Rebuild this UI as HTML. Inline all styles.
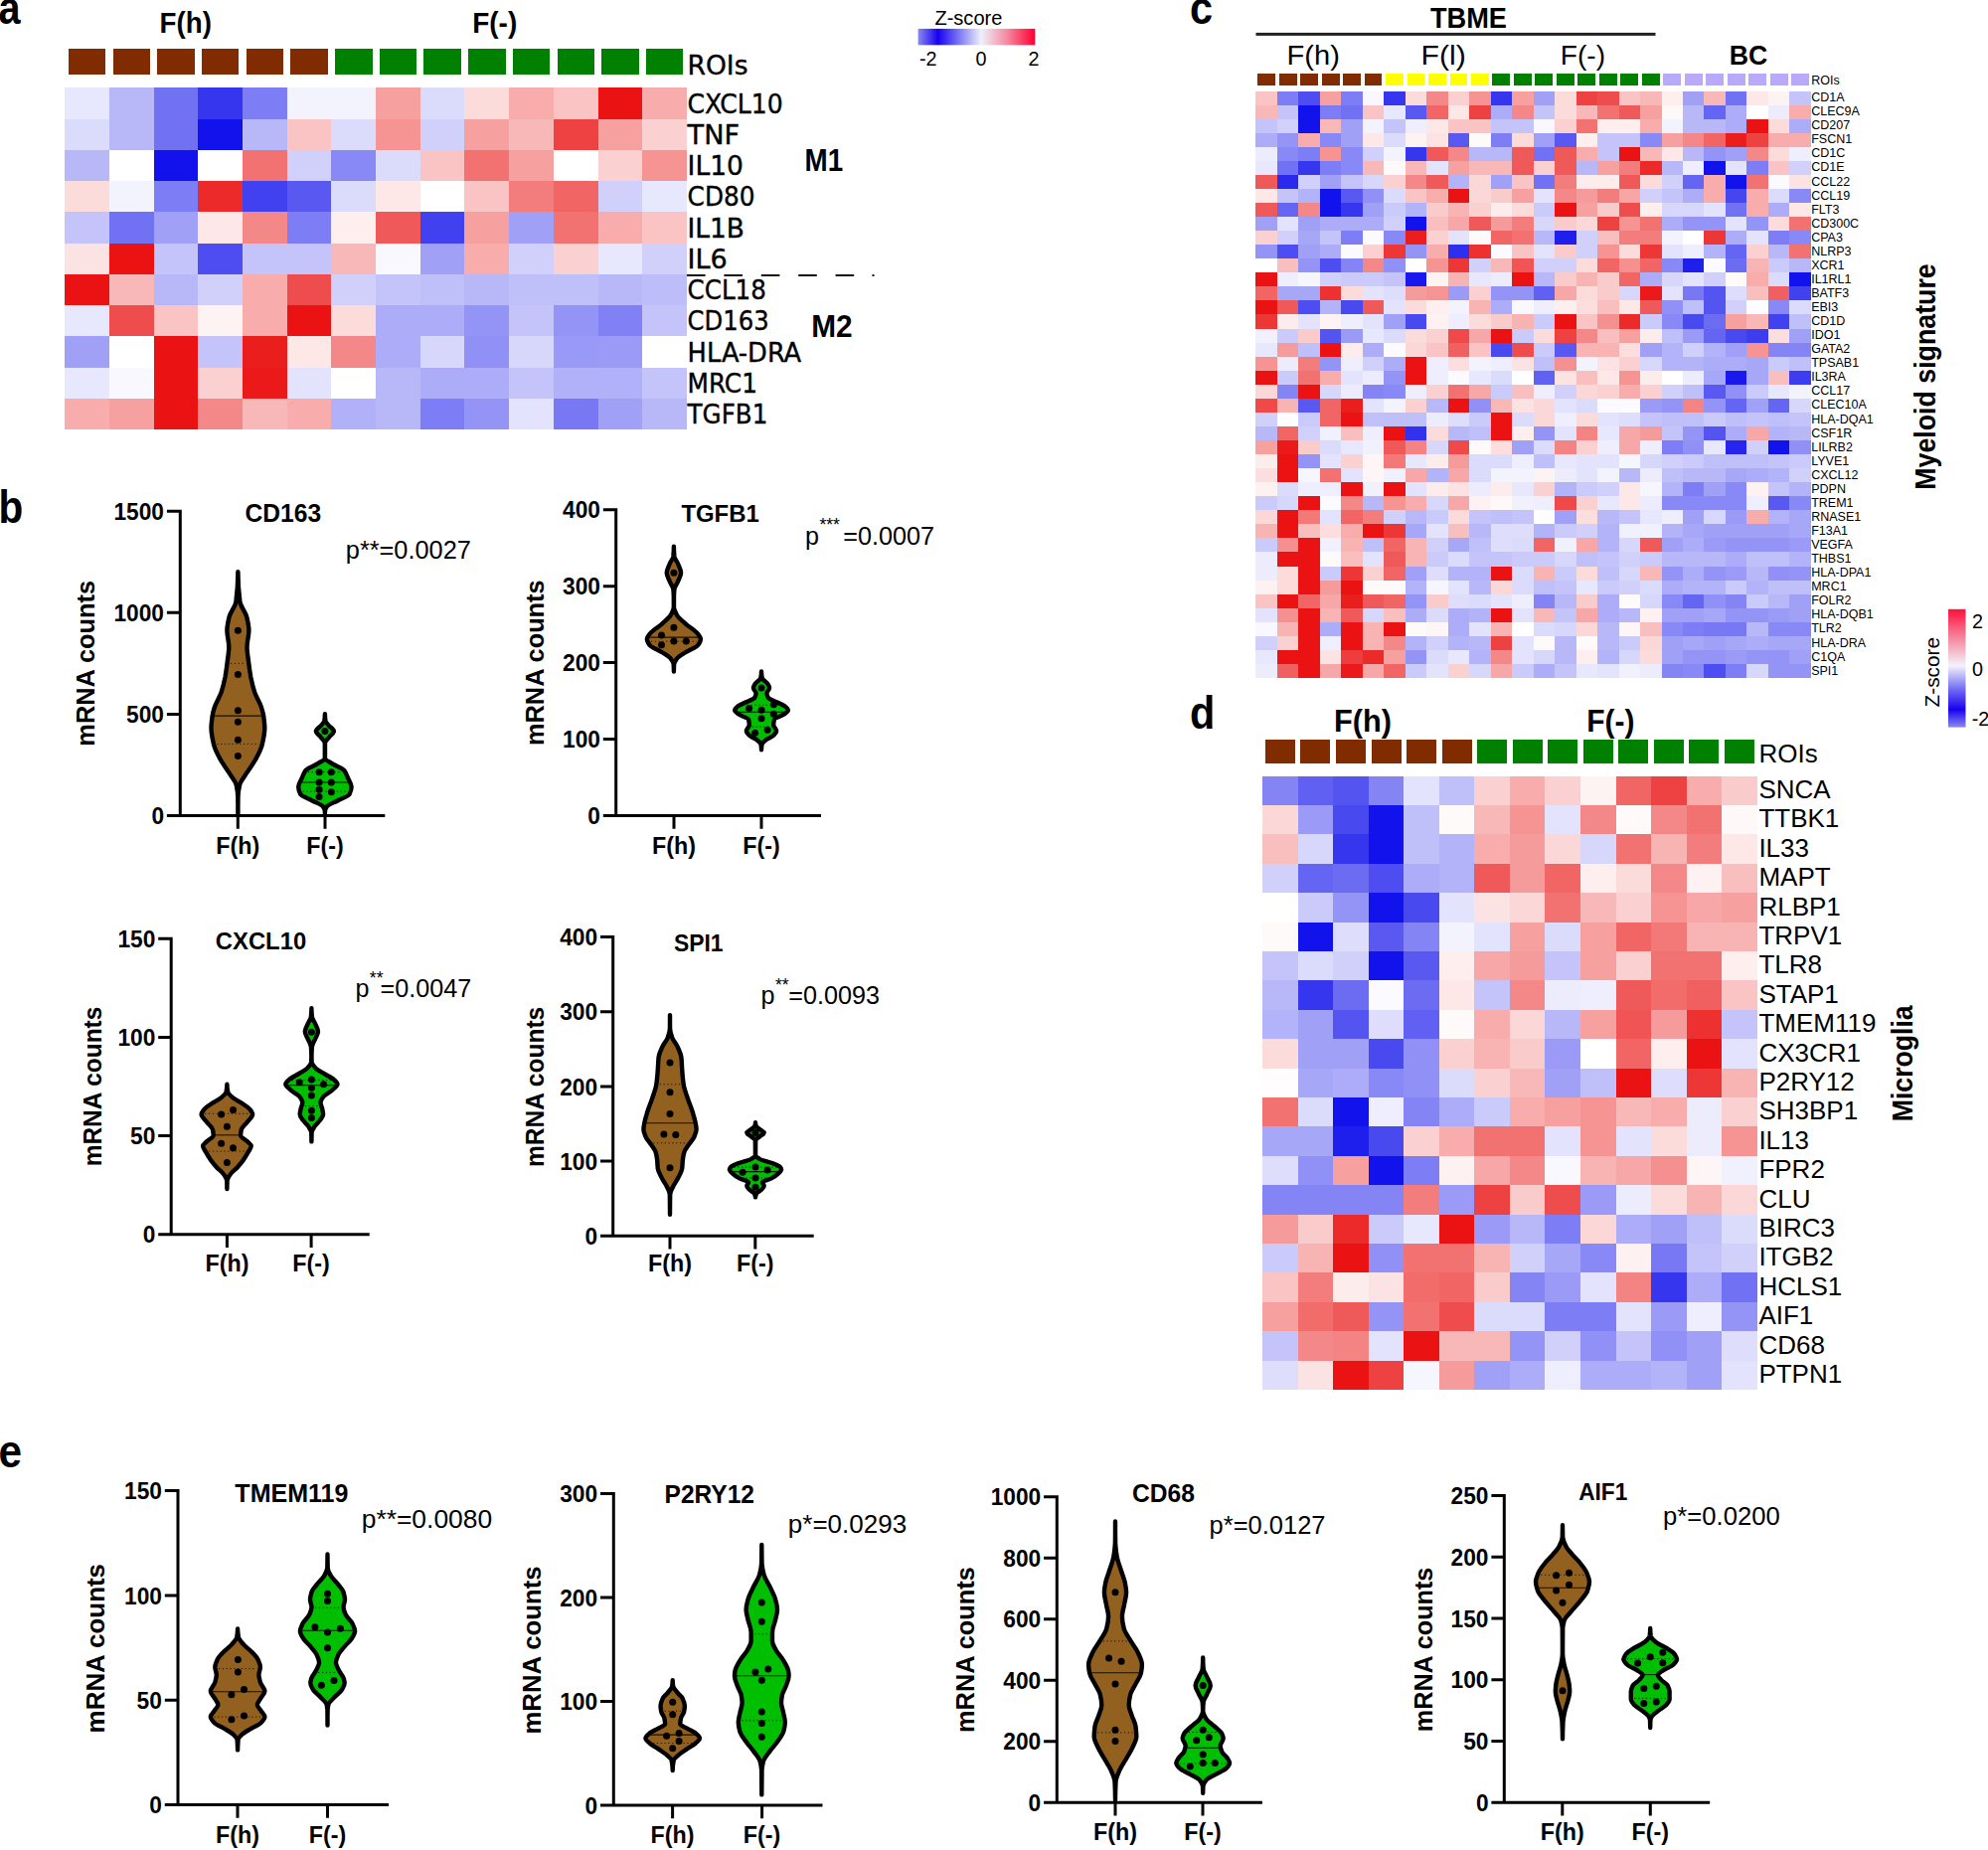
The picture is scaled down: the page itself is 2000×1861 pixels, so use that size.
<!DOCTYPE html>
<html lang="en"><head><meta charset="utf-8"><title>Figure</title>
<style>
html,body{margin:0;padding:0;background:#fff}
body{width:2000px;height:1861px;overflow:hidden}
svg{display:block;font-family:"Liberation Sans",Arial,sans-serif;fill:#000}
</style></head><body>
<svg width="2000" height="1861" viewBox="0 0 2000 1861">
<rect width="2000" height="1861" fill="#fff"/>
<defs><linearGradient id="gh" x1="0" y1="0" x2="1" y2="0"><stop offset="0" stop-color="#8a8af0"/><stop offset="0.17" stop-color="#1800f0"/><stop offset="0.35" stop-color="#7c78f4"/><stop offset="0.54" stop-color="#eef0fb"/><stop offset="0.76" stop-color="#f58aa0"/><stop offset="1" stop-color="#ff0030"/></linearGradient><linearGradient id="gv" x1="0" y1="0" x2="0" y2="1"><stop offset="0" stop-color="#ff1038"/><stop offset="0.25" stop-color="#f48aa0"/><stop offset="0.48" stop-color="#f4f2fb"/><stop offset="0.66" stop-color="#7c78f4"/><stop offset="0.85" stop-color="#1800f0"/><stop offset="1" stop-color="#8a8af0"/></linearGradient></defs>
<g id="pa">
<text x="-1.5" y="24" font-size="46" font-weight="bold" transform="translate(-1.5 0) scale(0.86 1) translate(1.5 0)">a</text>
<text x="160.6" y="33.2" font-size="30" font-weight="bold" textLength="52.3" lengthAdjust="spacingAndGlyphs">F(h)</text>
<text x="475.2" y="33.2" font-size="30" font-weight="bold" textLength="45" lengthAdjust="spacingAndGlyphs">F(-)</text>
<g shape-rendering="crispEdges"><rect x="68.8" y="49" width="37.5" height="26" fill="#802b00"/><rect x="113.5" y="49" width="37.5" height="26" fill="#802b00"/><rect x="158.2" y="49" width="37.5" height="26" fill="#802b00"/><rect x="202.9" y="49" width="37.5" height="26" fill="#802b00"/><rect x="247.6" y="49" width="37.5" height="26" fill="#802b00"/><rect x="292.3" y="49" width="37.5" height="26" fill="#802b00"/><rect x="337" y="49" width="37.5" height="26" fill="#008000"/><rect x="381.7" y="49" width="37.5" height="26" fill="#008000"/><rect x="426.4" y="49" width="37.5" height="26" fill="#008000"/><rect x="471.1" y="49" width="37.5" height="26" fill="#008000"/><rect x="515.8" y="49" width="37.5" height="26" fill="#008000"/><rect x="560.5" y="49" width="37.5" height="26" fill="#008000"/><rect x="605.2" y="49" width="37.5" height="26" fill="#008000"/><rect x="649.9" y="49" width="37.5" height="26" fill="#008000"/></g>
<g shape-rendering="crispEdges"><rect x="65" y="88" width="45" height="32" fill="#e7e7fd"/><rect x="110" y="88" width="45" height="32" fill="#b8b8f9"/><rect x="155" y="88" width="44" height="32" fill="#7171f4"/><rect x="199" y="88" width="45" height="32" fill="#3636ef"/><rect x="244" y="88" width="45" height="32" fill="#7d7df5"/><rect x="289" y="88" width="44" height="32" fill="#f3f3fe"/><rect x="333" y="88" width="45" height="32" fill="#f3f3fe"/><rect x="378" y="88" width="45" height="32" fill="#f7a0a0"/><rect x="423" y="88" width="44" height="32" fill="#dbdbfc"/><rect x="467" y="88" width="45" height="32" fill="#fcdbdb"/><rect x="512" y="88" width="45" height="32" fill="#f8acac"/><rect x="557" y="88" width="45" height="32" fill="#fac4c4"/><rect x="602" y="88" width="44" height="32" fill="#ea1212"/><rect x="646" y="88" width="45" height="32" fill="#f8acac"/><rect x="65" y="120" width="45" height="31" fill="#dbdbfc"/><rect x="110" y="120" width="45" height="31" fill="#b8b8f9"/><rect x="155" y="120" width="44" height="31" fill="#7171f4"/><rect x="199" y="120" width="45" height="31" fill="#1212ec"/><rect x="244" y="120" width="45" height="31" fill="#b8b8f9"/><rect x="289" y="120" width="44" height="31" fill="#fac4c4"/><rect x="333" y="120" width="45" height="31" fill="#dbdbfc"/><rect x="378" y="120" width="45" height="31" fill="#f69494"/><rect x="423" y="120" width="44" height="31" fill="#d0d0fb"/><rect x="467" y="120" width="45" height="31" fill="#f7a0a0"/><rect x="512" y="120" width="45" height="31" fill="#f9b8b8"/><rect x="557" y="120" width="45" height="31" fill="#ee4141"/><rect x="602" y="120" width="44" height="31" fill="#f7a0a0"/><rect x="646" y="120" width="45" height="31" fill="#fbd0d0"/><rect x="65" y="151" width="45" height="31" fill="#b8b8f9"/><rect x="110" y="151" width="45" height="31" fill="#ffffff"/><rect x="155" y="151" width="44" height="31" fill="#1212ec"/><rect x="199" y="151" width="45" height="31" fill="#ffffff"/><rect x="244" y="151" width="45" height="31" fill="#f27171"/><rect x="289" y="151" width="44" height="31" fill="#d0d0fb"/><rect x="333" y="151" width="45" height="31" fill="#8888f6"/><rect x="378" y="151" width="45" height="31" fill="#dbdbfc"/><rect x="423" y="151" width="44" height="31" fill="#fac4c4"/><rect x="467" y="151" width="45" height="31" fill="#f27171"/><rect x="512" y="151" width="45" height="31" fill="#f7a0a0"/><rect x="557" y="151" width="45" height="31" fill="#ffffff"/><rect x="602" y="151" width="44" height="31" fill="#fbd0d0"/><rect x="646" y="151" width="45" height="31" fill="#f69494"/><rect x="65" y="182" width="45" height="31" fill="#fcdbdb"/><rect x="110" y="182" width="45" height="31" fill="#f3f3fe"/><rect x="155" y="182" width="44" height="31" fill="#7d7df5"/><rect x="199" y="182" width="45" height="31" fill="#ec2a2a"/><rect x="244" y="182" width="45" height="31" fill="#4141f0"/><rect x="289" y="182" width="44" height="31" fill="#5959f2"/><rect x="333" y="182" width="45" height="31" fill="#dbdbfc"/><rect x="378" y="182" width="45" height="31" fill="#fde7e7"/><rect x="423" y="182" width="44" height="31" fill="#ffffff"/><rect x="467" y="182" width="45" height="31" fill="#fac4c4"/><rect x="512" y="182" width="45" height="31" fill="#f37d7d"/><rect x="557" y="182" width="45" height="31" fill="#f16565"/><rect x="602" y="182" width="44" height="31" fill="#d0d0fb"/><rect x="646" y="182" width="45" height="31" fill="#e7e7fd"/><rect x="65" y="213" width="45" height="32" fill="#c4c4fa"/><rect x="110" y="213" width="45" height="32" fill="#7171f4"/><rect x="155" y="213" width="44" height="32" fill="#a0a0f7"/><rect x="199" y="213" width="45" height="32" fill="#fde7e7"/><rect x="244" y="213" width="45" height="32" fill="#f48888"/><rect x="289" y="213" width="44" height="32" fill="#7d7df5"/><rect x="333" y="213" width="45" height="32" fill="#feeeee"/><rect x="378" y="213" width="45" height="32" fill="#f05959"/><rect x="423" y="213" width="44" height="32" fill="#4141f0"/><rect x="467" y="213" width="45" height="32" fill="#f7a0a0"/><rect x="512" y="213" width="45" height="32" fill="#a0a0f7"/><rect x="557" y="213" width="45" height="32" fill="#f27171"/><rect x="602" y="213" width="44" height="32" fill="#f8acac"/><rect x="646" y="213" width="45" height="32" fill="#fac4c4"/><rect x="65" y="245" width="45" height="31" fill="#fce3e3"/><rect x="110" y="245" width="45" height="31" fill="#ea1212"/><rect x="155" y="245" width="44" height="31" fill="#c4c4fa"/><rect x="199" y="245" width="45" height="31" fill="#4d4df1"/><rect x="244" y="245" width="45" height="31" fill="#c4c4fa"/><rect x="289" y="245" width="44" height="31" fill="#c4c4fa"/><rect x="333" y="245" width="45" height="31" fill="#f9b8b8"/><rect x="378" y="245" width="45" height="31" fill="#f8f8fe"/><rect x="423" y="245" width="44" height="31" fill="#a0a0f7"/><rect x="467" y="245" width="45" height="31" fill="#f8acac"/><rect x="512" y="245" width="45" height="31" fill="#d0d0fb"/><rect x="557" y="245" width="45" height="31" fill="#fbd0d0"/><rect x="602" y="245" width="44" height="31" fill="#e7e7fd"/><rect x="646" y="245" width="45" height="31" fill="#d0d0fb"/><rect x="65" y="276" width="45" height="31" fill="#ea1212"/><rect x="110" y="276" width="45" height="31" fill="#f9b8b8"/><rect x="155" y="276" width="44" height="31" fill="#b8b8f9"/><rect x="199" y="276" width="45" height="31" fill="#d0d0fb"/><rect x="244" y="276" width="45" height="31" fill="#f8acac"/><rect x="289" y="276" width="44" height="31" fill="#ef4d4d"/><rect x="333" y="276" width="45" height="31" fill="#d0d0fb"/><rect x="378" y="276" width="45" height="31" fill="#c4c4fa"/><rect x="423" y="276" width="44" height="31" fill="#bfbffa"/><rect x="467" y="276" width="45" height="31" fill="#b8b8f9"/><rect x="512" y="276" width="45" height="31" fill="#bfbffa"/><rect x="557" y="276" width="45" height="31" fill="#bfbffa"/><rect x="602" y="276" width="44" height="31" fill="#b8b8f9"/><rect x="646" y="276" width="45" height="31" fill="#bdbdfa"/><rect x="65" y="307" width="45" height="31" fill="#e7e7fd"/><rect x="110" y="307" width="45" height="31" fill="#ef4d4d"/><rect x="155" y="307" width="44" height="31" fill="#fac4c4"/><rect x="199" y="307" width="45" height="31" fill="#fef3f3"/><rect x="244" y="307" width="45" height="31" fill="#f8acac"/><rect x="289" y="307" width="44" height="31" fill="#ea1212"/><rect x="333" y="307" width="45" height="31" fill="#fcdbdb"/><rect x="378" y="307" width="45" height="31" fill="#acacf8"/><rect x="423" y="307" width="44" height="31" fill="#acacf8"/><rect x="467" y="307" width="45" height="31" fill="#9494f6"/><rect x="512" y="307" width="45" height="31" fill="#c4c4fa"/><rect x="557" y="307" width="45" height="31" fill="#9494f6"/><rect x="602" y="307" width="44" height="31" fill="#8181f5"/><rect x="646" y="307" width="45" height="31" fill="#c4c4fa"/><rect x="65" y="338" width="45" height="32" fill="#a0a0f7"/><rect x="110" y="338" width="45" height="32" fill="#ffffff"/><rect x="155" y="338" width="44" height="32" fill="#ea1212"/><rect x="199" y="338" width="45" height="32" fill="#c4c4fa"/><rect x="244" y="338" width="45" height="32" fill="#eb1e1e"/><rect x="289" y="338" width="44" height="32" fill="#fde7e7"/><rect x="333" y="338" width="45" height="32" fill="#f48888"/><rect x="378" y="338" width="45" height="32" fill="#acacf8"/><rect x="423" y="338" width="44" height="32" fill="#d7d7fc"/><rect x="467" y="338" width="45" height="32" fill="#9090f6"/><rect x="512" y="338" width="45" height="32" fill="#d7d7fc"/><rect x="557" y="338" width="45" height="32" fill="#9999f7"/><rect x="602" y="338" width="44" height="32" fill="#9b9bf7"/><rect x="646" y="338" width="45" height="32" fill="#ffffff"/><rect x="65" y="370" width="45" height="31" fill="#e7e7fd"/><rect x="110" y="370" width="45" height="31" fill="#f8f8fe"/><rect x="155" y="370" width="44" height="31" fill="#ea1212"/><rect x="199" y="370" width="45" height="31" fill="#fbd0d0"/><rect x="244" y="370" width="45" height="31" fill="#eb1919"/><rect x="289" y="370" width="44" height="31" fill="#e3e3fd"/><rect x="333" y="370" width="45" height="31" fill="#ffffff"/><rect x="378" y="370" width="45" height="31" fill="#b8b8f9"/><rect x="423" y="370" width="44" height="31" fill="#acacf8"/><rect x="467" y="370" width="45" height="31" fill="#acacf8"/><rect x="512" y="370" width="45" height="31" fill="#c4c4fa"/><rect x="557" y="370" width="45" height="31" fill="#b1b1f9"/><rect x="602" y="370" width="44" height="31" fill="#b1b1f9"/><rect x="646" y="370" width="45" height="31" fill="#c4c4fa"/><rect x="65" y="401" width="45" height="31" fill="#f8acac"/><rect x="110" y="401" width="45" height="31" fill="#f7a0a0"/><rect x="155" y="401" width="44" height="31" fill="#ea1212"/><rect x="199" y="401" width="45" height="31" fill="#f48888"/><rect x="244" y="401" width="45" height="31" fill="#f9b8b8"/><rect x="289" y="401" width="44" height="31" fill="#f8acac"/><rect x="333" y="401" width="45" height="31" fill="#b1b1f9"/><rect x="378" y="401" width="45" height="31" fill="#b8b8f9"/><rect x="423" y="401" width="44" height="31" fill="#7d7df5"/><rect x="467" y="401" width="45" height="31" fill="#9494f6"/><rect x="512" y="401" width="45" height="31" fill="#e3e3fd"/><rect x="557" y="401" width="45" height="31" fill="#7878f4"/><rect x="602" y="401" width="44" height="31" fill="#a0a0f7"/><rect x="646" y="401" width="45" height="31" fill="#b8b8f9"/></g>
<text x="691.5" y="75" font-size="27.3" textLength="61" lengthAdjust="spacingAndGlyphs" font-family="'DejaVu Sans Condensed','DejaVu Sans',sans-serif" stroke="#000" stroke-width="0.35">ROIs</text>
<text x="691.6" y="113.5" font-size="27.3" textLength="96.1" lengthAdjust="spacingAndGlyphs" font-family="'DejaVu Sans Condensed','DejaVu Sans',sans-serif" stroke="#000" stroke-width="0.35">CXCL10</text>
<text x="691.6" y="144.8" font-size="27.3" textLength="52.4" lengthAdjust="spacingAndGlyphs" font-family="'DejaVu Sans Condensed','DejaVu Sans',sans-serif" stroke="#000" stroke-width="0.35">TNF</text>
<text x="691.6" y="176" font-size="27.3" textLength="56.3" lengthAdjust="spacingAndGlyphs" font-family="'DejaVu Sans Condensed','DejaVu Sans',sans-serif" stroke="#000" stroke-width="0.35">IL10</text>
<text x="691.6" y="207.3" font-size="27.3" textLength="67.9" lengthAdjust="spacingAndGlyphs" font-family="'DejaVu Sans Condensed','DejaVu Sans',sans-serif" stroke="#000" stroke-width="0.35">CD80</text>
<text x="691.6" y="238.5" font-size="27.3" textLength="57.4" lengthAdjust="spacingAndGlyphs" font-family="'DejaVu Sans Condensed','DejaVu Sans',sans-serif" stroke="#000" stroke-width="0.35">IL1B</text>
<text x="691.6" y="269.8" font-size="27.3" textLength="40.2" lengthAdjust="spacingAndGlyphs" font-family="'DejaVu Sans Condensed','DejaVu Sans',sans-serif" stroke="#000" stroke-width="0.35">IL6</text>
<text x="691.6" y="301" font-size="27.3" textLength="79.3" lengthAdjust="spacingAndGlyphs" font-family="'DejaVu Sans Condensed','DejaVu Sans',sans-serif" stroke="#000" stroke-width="0.35">CCL18</text>
<text x="691.6" y="332.2" font-size="27.3" textLength="82" lengthAdjust="spacingAndGlyphs" font-family="'DejaVu Sans Condensed','DejaVu Sans',sans-serif" stroke="#000" stroke-width="0.35">CD163</text>
<text x="691.6" y="363.5" font-size="27.3" textLength="114.6" lengthAdjust="spacingAndGlyphs" font-family="'DejaVu Sans Condensed','DejaVu Sans',sans-serif" stroke="#000" stroke-width="0.35">HLA-DRA</text>
<text x="691.6" y="394.7" font-size="27.3" textLength="70.4" lengthAdjust="spacingAndGlyphs" font-family="'DejaVu Sans Condensed','DejaVu Sans',sans-serif" stroke="#000" stroke-width="0.35">MRC1</text>
<text x="691.6" y="426" font-size="27.3" textLength="80.8" lengthAdjust="spacingAndGlyphs" font-family="'DejaVu Sans Condensed','DejaVu Sans',sans-serif" stroke="#000" stroke-width="0.35">TGFB1</text>
<text x="809.5" y="171.9" font-size="31.6" font-weight="bold" textLength="38.6" lengthAdjust="spacingAndGlyphs">M1</text>
<text x="816.2" y="338.5" font-size="31.6" font-weight="bold" textLength="41.4" lengthAdjust="spacingAndGlyphs">M2</text>
<path d="M691 277H709.6M728.4 277H747M765.8 277H784.4M803.2 277H821.8M840.6 277H859.2M877.5 277H879.5" stroke="#111" stroke-width="2.2" fill="none"/>
<text x="974.4" y="25.4" font-size="19.6" text-anchor="middle" textLength="68" lengthAdjust="spacingAndGlyphs">Z-score</text>
<rect x="923.6" y="28.9" width="117.7" height="16.4" fill="url(#gh)"/>
<text x="925" y="65.5" font-size="19.8">-2</text>
<text x="987" y="65.5" font-size="19.8" text-anchor="middle">0</text>
<text x="1040" y="65.5" font-size="19.8" text-anchor="middle">2</text>
</g>
<g id="pc">
<text x="1197" y="23.7" font-size="46" font-weight="bold" transform="translate(1197 0) scale(0.9 1) translate(-1197 0)">c</text>
<text x="1439" y="27.9" font-size="29" font-weight="bold" textLength="77" lengthAdjust="spacingAndGlyphs">TBME</text>
<rect x="1263.5" y="32.9" width="402" height="3" fill="#222"/>
<text x="1294.6" y="64.5" font-size="28.3" textLength="53.3" lengthAdjust="spacingAndGlyphs">F(h)</text>
<text x="1429.6" y="64.5" font-size="28.3" textLength="45.2" lengthAdjust="spacingAndGlyphs">F(l)</text>
<text x="1569.8" y="64.5" font-size="28.3" textLength="45.2" lengthAdjust="spacingAndGlyphs">F(-)</text>
<text x="1739.8" y="64.8" font-size="27.5" font-weight="bold" textLength="38.6" lengthAdjust="spacingAndGlyphs">BC</text>
<g shape-rendering="crispEdges"><rect x="1265.1" y="74" width="17.9" height="11.7" fill="#802b00"/><rect x="1286.6" y="74" width="17.9" height="11.7" fill="#802b00"/><rect x="1308.1" y="74" width="17.9" height="11.7" fill="#802b00"/><rect x="1329.6" y="74" width="17.9" height="11.7" fill="#802b00"/><rect x="1351" y="74" width="17.9" height="11.7" fill="#802b00"/><rect x="1372.5" y="74" width="17.9" height="11.7" fill="#802b00"/><rect x="1394" y="74" width="17.9" height="11.7" fill="#ffff00"/><rect x="1415.5" y="74" width="17.9" height="11.7" fill="#ffff00"/><rect x="1437" y="74" width="17.9" height="11.7" fill="#ffff00"/><rect x="1458.5" y="74" width="17.9" height="11.7" fill="#ffff00"/><rect x="1479.9" y="74" width="17.9" height="11.7" fill="#ffff00"/><rect x="1501.4" y="74" width="17.9" height="11.7" fill="#008000"/><rect x="1522.9" y="74" width="17.9" height="11.7" fill="#008000"/><rect x="1544.4" y="74" width="17.9" height="11.7" fill="#008000"/><rect x="1565.9" y="74" width="17.9" height="11.7" fill="#008000"/><rect x="1587.4" y="74" width="17.9" height="11.7" fill="#008000"/><rect x="1608.9" y="74" width="17.9" height="11.7" fill="#008000"/><rect x="1630.3" y="74" width="17.9" height="11.7" fill="#008000"/><rect x="1651.8" y="74" width="17.9" height="11.7" fill="#008000"/><rect x="1673.3" y="74" width="17.9" height="11.7" fill="#b8a9fa"/><rect x="1694.8" y="74" width="17.9" height="11.7" fill="#b8a9fa"/><rect x="1716.3" y="74" width="17.9" height="11.7" fill="#b8a9fa"/><rect x="1737.8" y="74" width="17.9" height="11.7" fill="#b8a9fa"/><rect x="1759.2" y="74" width="17.9" height="11.7" fill="#b8a9fa"/><rect x="1780.7" y="74" width="17.9" height="11.7" fill="#b8a9fa"/><rect x="1802.2" y="74" width="17.9" height="11.7" fill="#b8a9fa"/></g>
<g shape-rendering="crispEdges"><rect x="1263" y="92" width="22" height="14" fill="#fac4c4"/><rect x="1285" y="92" width="21" height="14" fill="#7d7df5"/><rect x="1306" y="92" width="22" height="14" fill="#4d4df1"/><rect x="1328" y="92" width="21" height="14" fill="#f7a0a0"/><rect x="1349" y="92" width="22" height="14" fill="#7d7df5"/><rect x="1371" y="92" width="21" height="14" fill="#f8f8fe"/><rect x="1392" y="92" width="22" height="14" fill="#3636ef"/><rect x="1414" y="92" width="21" height="14" fill="#fcdbdb"/><rect x="1435" y="92" width="22" height="14" fill="#f48888"/><rect x="1457" y="92" width="21" height="14" fill="#fbd0d0"/><rect x="1478" y="92" width="22" height="14" fill="#f69494"/><rect x="1500" y="92" width="21" height="14" fill="#3636ef"/><rect x="1521" y="92" width="22" height="14" fill="#f7a0a0"/><rect x="1543" y="92" width="21" height="14" fill="#a0a0f7"/><rect x="1564" y="92" width="22" height="14" fill="#fcdbdb"/><rect x="1586" y="92" width="21" height="14" fill="#ee4141"/><rect x="1607" y="92" width="22" height="14" fill="#ef4d4d"/><rect x="1629" y="92" width="21" height="14" fill="#fac4c4"/><rect x="1650" y="92" width="22" height="14" fill="#f9b8b8"/><rect x="1672" y="92" width="21" height="14" fill="#feeeee"/><rect x="1693" y="92" width="21" height="14" fill="#a0a0f7"/><rect x="1714" y="92" width="22" height="14" fill="#f9b8b8"/><rect x="1736" y="92" width="21" height="14" fill="#7171f4"/><rect x="1757" y="92" width="22" height="14" fill="#fde7e7"/><rect x="1779" y="92" width="21" height="14" fill="#fef3f3"/><rect x="1800" y="92" width="22" height="14" fill="#c4c4fa"/><rect x="1263" y="106" width="22" height="14" fill="#f9b8b8"/><rect x="1285" y="106" width="21" height="14" fill="#c4c4fa"/><rect x="1306" y="106" width="22" height="14" fill="#1212ec"/><rect x="1328" y="106" width="21" height="14" fill="#7d7df5"/><rect x="1349" y="106" width="22" height="14" fill="#7171f4"/><rect x="1371" y="106" width="21" height="14" fill="#fac4c4"/><rect x="1392" y="106" width="22" height="14" fill="#e7e7fd"/><rect x="1414" y="106" width="21" height="14" fill="#5959f2"/><rect x="1435" y="106" width="22" height="14" fill="#f16565"/><rect x="1457" y="106" width="21" height="14" fill="#fde7e7"/><rect x="1478" y="106" width="22" height="14" fill="#ee4141"/><rect x="1500" y="106" width="21" height="14" fill="#acacf8"/><rect x="1521" y="106" width="22" height="14" fill="#f48888"/><rect x="1543" y="106" width="21" height="14" fill="#c4c4fa"/><rect x="1564" y="106" width="22" height="14" fill="#fcdbdb"/><rect x="1586" y="106" width="21" height="14" fill="#f9b8b8"/><rect x="1607" y="106" width="22" height="14" fill="#f27171"/><rect x="1629" y="106" width="21" height="14" fill="#f05959"/><rect x="1650" y="106" width="22" height="14" fill="#f7a0a0"/><rect x="1672" y="106" width="21" height="14" fill="#fef8f8"/><rect x="1693" y="106" width="21" height="14" fill="#b8b8f9"/><rect x="1714" y="106" width="22" height="14" fill="#6565f3"/><rect x="1736" y="106" width="21" height="14" fill="#acacf8"/><rect x="1757" y="106" width="22" height="14" fill="#ffffff"/><rect x="1779" y="106" width="21" height="14" fill="#ececfd"/><rect x="1800" y="106" width="22" height="14" fill="#f8acac"/><rect x="1263" y="120" width="22" height="14" fill="#c4c4fa"/><rect x="1285" y="120" width="21" height="14" fill="#d0d0fb"/><rect x="1306" y="120" width="22" height="14" fill="#1212ec"/><rect x="1328" y="120" width="21" height="14" fill="#f9b8b8"/><rect x="1349" y="120" width="22" height="14" fill="#a0a0f7"/><rect x="1371" y="120" width="21" height="14" fill="#f3f3fe"/><rect x="1392" y="120" width="22" height="14" fill="#c4c4fa"/><rect x="1414" y="120" width="21" height="14" fill="#eeeefe"/><rect x="1435" y="120" width="22" height="14" fill="#fde7e7"/><rect x="1457" y="120" width="21" height="14" fill="#fac4c4"/><rect x="1478" y="120" width="22" height="14" fill="#fac4c4"/><rect x="1500" y="120" width="21" height="14" fill="#c4c4fa"/><rect x="1521" y="120" width="22" height="14" fill="#c4c4fa"/><rect x="1543" y="120" width="21" height="14" fill="#f8f8fe"/><rect x="1564" y="120" width="22" height="14" fill="#fbd0d0"/><rect x="1586" y="120" width="21" height="14" fill="#f27171"/><rect x="1607" y="120" width="22" height="14" fill="#feeeee"/><rect x="1629" y="120" width="21" height="14" fill="#feeeee"/><rect x="1650" y="120" width="22" height="14" fill="#f8acac"/><rect x="1672" y="120" width="21" height="14" fill="#f3f3fe"/><rect x="1693" y="120" width="21" height="14" fill="#b8b8f9"/><rect x="1714" y="120" width="22" height="14" fill="#b8b8f9"/><rect x="1736" y="120" width="21" height="14" fill="#acacf8"/><rect x="1757" y="120" width="22" height="14" fill="#ea1212"/><rect x="1779" y="120" width="21" height="14" fill="#fcdbdb"/><rect x="1800" y="120" width="22" height="14" fill="#acacf8"/><rect x="1263" y="134" width="22" height="14" fill="#acacf8"/><rect x="1285" y="134" width="21" height="14" fill="#9494f6"/><rect x="1306" y="134" width="22" height="14" fill="#f8acac"/><rect x="1328" y="134" width="21" height="14" fill="#8888f6"/><rect x="1349" y="134" width="22" height="14" fill="#a0a0f7"/><rect x="1371" y="134" width="21" height="14" fill="#fde7e7"/><rect x="1392" y="134" width="22" height="14" fill="#dbdbfc"/><rect x="1414" y="134" width="21" height="14" fill="#fef3f3"/><rect x="1435" y="134" width="22" height="14" fill="#fce3e3"/><rect x="1457" y="134" width="21" height="14" fill="#5959f2"/><rect x="1478" y="134" width="22" height="14" fill="#fffafa"/><rect x="1500" y="134" width="21" height="14" fill="#7d7df5"/><rect x="1521" y="134" width="22" height="14" fill="#fcdbdb"/><rect x="1543" y="134" width="21" height="14" fill="#a0a0f7"/><rect x="1564" y="134" width="22" height="14" fill="#5959f2"/><rect x="1586" y="134" width="21" height="14" fill="#feeeee"/><rect x="1607" y="134" width="22" height="14" fill="#c4c4fa"/><rect x="1629" y="134" width="21" height="14" fill="#c4c4fa"/><rect x="1650" y="134" width="22" height="14" fill="#8888f6"/><rect x="1672" y="134" width="21" height="14" fill="#f7a0a0"/><rect x="1693" y="134" width="21" height="14" fill="#f48888"/><rect x="1714" y="134" width="22" height="14" fill="#f16565"/><rect x="1736" y="134" width="21" height="14" fill="#eb1e1e"/><rect x="1757" y="134" width="22" height="14" fill="#ee4141"/><rect x="1779" y="134" width="21" height="14" fill="#f8acac"/><rect x="1800" y="134" width="22" height="14" fill="#f8acac"/><rect x="1263" y="148" width="22" height="14" fill="#ececfd"/><rect x="1285" y="148" width="21" height="14" fill="#8888f6"/><rect x="1306" y="148" width="22" height="14" fill="#7d7df5"/><rect x="1328" y="148" width="21" height="14" fill="#f69494"/><rect x="1349" y="148" width="22" height="14" fill="#8888f6"/><rect x="1371" y="148" width="21" height="14" fill="#d0d0fb"/><rect x="1392" y="148" width="22" height="14" fill="#f3f3fe"/><rect x="1414" y="148" width="21" height="14" fill="#3636ef"/><rect x="1435" y="148" width="22" height="14" fill="#f05959"/><rect x="1457" y="148" width="21" height="14" fill="#f48888"/><rect x="1478" y="148" width="22" height="14" fill="#b8b8f9"/><rect x="1500" y="148" width="21" height="14" fill="#b8b8f9"/><rect x="1521" y="148" width="22" height="14" fill="#f05959"/><rect x="1543" y="148" width="21" height="14" fill="#7171f4"/><rect x="1564" y="148" width="22" height="14" fill="#f05959"/><rect x="1586" y="148" width="21" height="14" fill="#f8acac"/><rect x="1607" y="148" width="22" height="14" fill="#c4c4fa"/><rect x="1629" y="148" width="21" height="14" fill="#ea1212"/><rect x="1650" y="148" width="22" height="14" fill="#f9b8b8"/><rect x="1672" y="148" width="21" height="14" fill="#fde7e7"/><rect x="1693" y="148" width="21" height="14" fill="#b8b8f9"/><rect x="1714" y="148" width="22" height="14" fill="#9494f6"/><rect x="1736" y="148" width="21" height="14" fill="#a0a0f7"/><rect x="1757" y="148" width="22" height="14" fill="#f48888"/><rect x="1779" y="148" width="21" height="14" fill="#fcdbdb"/><rect x="1800" y="148" width="22" height="14" fill="#eeeefe"/><rect x="1263" y="162" width="22" height="14" fill="#e7e7fd"/><rect x="1285" y="162" width="21" height="14" fill="#7171f4"/><rect x="1306" y="162" width="22" height="14" fill="#3636ef"/><rect x="1328" y="162" width="21" height="14" fill="#7d7df5"/><rect x="1349" y="162" width="22" height="14" fill="#8888f6"/><rect x="1371" y="162" width="21" height="14" fill="#f9b8b8"/><rect x="1392" y="162" width="22" height="14" fill="#fffafa"/><rect x="1414" y="162" width="21" height="14" fill="#f9b8b8"/><rect x="1435" y="162" width="22" height="14" fill="#e3e3fd"/><rect x="1457" y="162" width="21" height="14" fill="#f7a0a0"/><rect x="1478" y="162" width="22" height="14" fill="#f9b8b8"/><rect x="1500" y="162" width="21" height="14" fill="#f9b8b8"/><rect x="1521" y="162" width="22" height="14" fill="#f05959"/><rect x="1543" y="162" width="21" height="14" fill="#fbd0d0"/><rect x="1564" y="162" width="22" height="14" fill="#f05959"/><rect x="1586" y="162" width="21" height="14" fill="#b8b8f9"/><rect x="1607" y="162" width="22" height="14" fill="#f7a0a0"/><rect x="1629" y="162" width="21" height="14" fill="#f37d7d"/><rect x="1650" y="162" width="22" height="14" fill="#ec2a2a"/><rect x="1672" y="162" width="21" height="14" fill="#b8b8f9"/><rect x="1693" y="162" width="21" height="14" fill="#eeeefe"/><rect x="1714" y="162" width="22" height="14" fill="#1212ec"/><rect x="1736" y="162" width="21" height="14" fill="#e3e3fd"/><rect x="1757" y="162" width="22" height="14" fill="#7d7df5"/><rect x="1779" y="162" width="21" height="14" fill="#fac4c4"/><rect x="1800" y="162" width="22" height="14" fill="#d0d0fb"/><rect x="1263" y="176" width="22" height="14" fill="#f05959"/><rect x="1285" y="176" width="21" height="14" fill="#2a2aee"/><rect x="1306" y="176" width="22" height="14" fill="#d0d0fb"/><rect x="1328" y="176" width="21" height="14" fill="#a0a0f7"/><rect x="1349" y="176" width="22" height="14" fill="#c4c4fa"/><rect x="1371" y="176" width="21" height="14" fill="#d7d7fc"/><rect x="1392" y="176" width="22" height="14" fill="#fbd0d0"/><rect x="1414" y="176" width="21" height="14" fill="#f48888"/><rect x="1435" y="176" width="22" height="14" fill="#f05959"/><rect x="1457" y="176" width="21" height="14" fill="#b3b3f9"/><rect x="1478" y="176" width="22" height="14" fill="#fbd7d7"/><rect x="1500" y="176" width="21" height="14" fill="#a0a0f7"/><rect x="1521" y="176" width="22" height="14" fill="#fac4c4"/><rect x="1543" y="176" width="21" height="14" fill="#7171f4"/><rect x="1564" y="176" width="22" height="14" fill="#f37d7d"/><rect x="1586" y="176" width="21" height="14" fill="#fdecec"/><rect x="1607" y="176" width="22" height="14" fill="#fdecec"/><rect x="1629" y="176" width="21" height="14" fill="#f05959"/><rect x="1650" y="176" width="22" height="14" fill="#fcdbdb"/><rect x="1672" y="176" width="21" height="14" fill="#d0d0fb"/><rect x="1693" y="176" width="21" height="14" fill="#6565f3"/><rect x="1714" y="176" width="22" height="14" fill="#f8acac"/><rect x="1736" y="176" width="21" height="14" fill="#1212ec"/><rect x="1757" y="176" width="22" height="14" fill="#f27171"/><rect x="1779" y="176" width="21" height="14" fill="#fafaff"/><rect x="1800" y="176" width="22" height="14" fill="#fce3e3"/><rect x="1263" y="190" width="22" height="14" fill="#fde7e7"/><rect x="1285" y="190" width="21" height="14" fill="#c4c4fa"/><rect x="1306" y="190" width="22" height="14" fill="#b3b3f9"/><rect x="1328" y="190" width="21" height="14" fill="#1212ec"/><rect x="1349" y="190" width="22" height="14" fill="#5959f2"/><rect x="1371" y="190" width="21" height="14" fill="#9090f6"/><rect x="1392" y="190" width="22" height="14" fill="#dbdbfc"/><rect x="1414" y="190" width="21" height="14" fill="#fac4c4"/><rect x="1435" y="190" width="22" height="14" fill="#f8acac"/><rect x="1457" y="190" width="21" height="14" fill="#ea1212"/><rect x="1478" y="190" width="22" height="14" fill="#fbd7d7"/><rect x="1500" y="190" width="21" height="14" fill="#facbcb"/><rect x="1521" y="190" width="22" height="14" fill="#f7a0a0"/><rect x="1543" y="190" width="21" height="14" fill="#e3e3fd"/><rect x="1564" y="190" width="22" height="14" fill="#f48888"/><rect x="1586" y="190" width="21" height="14" fill="#f69b9b"/><rect x="1607" y="190" width="22" height="14" fill="#f37d7d"/><rect x="1629" y="190" width="21" height="14" fill="#f7a5a5"/><rect x="1650" y="190" width="22" height="14" fill="#d0d0fb"/><rect x="1672" y="190" width="21" height="14" fill="#c4c4fa"/><rect x="1693" y="190" width="21" height="14" fill="#acacf8"/><rect x="1714" y="190" width="22" height="14" fill="#f8acac"/><rect x="1736" y="190" width="21" height="14" fill="#4646f0"/><rect x="1757" y="190" width="22" height="14" fill="#f8acac"/><rect x="1779" y="190" width="21" height="14" fill="#dbdbfc"/><rect x="1800" y="190" width="22" height="14" fill="#8888f6"/><rect x="1263" y="204" width="22" height="14" fill="#f05959"/><rect x="1285" y="204" width="21" height="14" fill="#6565f3"/><rect x="1306" y="204" width="22" height="14" fill="#f48888"/><rect x="1328" y="204" width="21" height="14" fill="#1212ec"/><rect x="1349" y="204" width="22" height="14" fill="#3636ef"/><rect x="1371" y="204" width="21" height="14" fill="#a0a0f7"/><rect x="1392" y="204" width="22" height="14" fill="#cbcbfb"/><rect x="1414" y="204" width="21" height="14" fill="#b3b3f9"/><rect x="1435" y="204" width="22" height="14" fill="#facbcb"/><rect x="1457" y="204" width="21" height="14" fill="#f8b3b3"/><rect x="1478" y="204" width="22" height="14" fill="#fbd0d0"/><rect x="1500" y="204" width="21" height="14" fill="#fdecec"/><rect x="1521" y="204" width="22" height="14" fill="#fcdbdb"/><rect x="1543" y="204" width="21" height="14" fill="#cbcbfb"/><rect x="1564" y="204" width="22" height="14" fill="#ea1212"/><rect x="1586" y="204" width="21" height="14" fill="#f7a0a0"/><rect x="1607" y="204" width="22" height="14" fill="#facbcb"/><rect x="1629" y="204" width="21" height="14" fill="#ef4d4d"/><rect x="1650" y="204" width="22" height="14" fill="#feeeee"/><rect x="1672" y="204" width="21" height="14" fill="#d7d7fc"/><rect x="1693" y="204" width="21" height="14" fill="#d7d7fc"/><rect x="1714" y="204" width="22" height="14" fill="#e3e3fd"/><rect x="1736" y="204" width="21" height="14" fill="#7171f4"/><rect x="1757" y="204" width="22" height="14" fill="#f8acac"/><rect x="1779" y="204" width="21" height="14" fill="#acacf8"/><rect x="1800" y="204" width="22" height="14" fill="#fde7e7"/><rect x="1263" y="218" width="22" height="14" fill="#a0a0f7"/><rect x="1285" y="218" width="21" height="14" fill="#e3e3fd"/><rect x="1306" y="218" width="22" height="14" fill="#a0a0f7"/><rect x="1328" y="218" width="21" height="14" fill="#acacf8"/><rect x="1349" y="218" width="22" height="14" fill="#acacf8"/><rect x="1371" y="218" width="21" height="14" fill="#acacf8"/><rect x="1392" y="218" width="22" height="14" fill="#d0d0fb"/><rect x="1414" y="218" width="21" height="14" fill="#1212ec"/><rect x="1435" y="218" width="22" height="14" fill="#f9bfbf"/><rect x="1457" y="218" width="21" height="14" fill="#f7a7a7"/><rect x="1478" y="218" width="22" height="14" fill="#f05959"/><rect x="1500" y="218" width="21" height="14" fill="#f69b9b"/><rect x="1521" y="218" width="22" height="14" fill="#f37d7d"/><rect x="1543" y="218" width="21" height="14" fill="#d7d7fc"/><rect x="1564" y="218" width="22" height="14" fill="#facbcb"/><rect x="1586" y="218" width="21" height="14" fill="#fbd7d7"/><rect x="1607" y="218" width="22" height="14" fill="#ee4141"/><rect x="1629" y="218" width="21" height="14" fill="#f69494"/><rect x="1650" y="218" width="22" height="14" fill="#f27171"/><rect x="1672" y="218" width="21" height="14" fill="#acacf8"/><rect x="1693" y="218" width="21" height="14" fill="#9494f6"/><rect x="1714" y="218" width="22" height="14" fill="#9494f6"/><rect x="1736" y="218" width="21" height="14" fill="#e3e3fd"/><rect x="1757" y="218" width="22" height="14" fill="#9494f6"/><rect x="1779" y="218" width="21" height="14" fill="#fcdbdb"/><rect x="1800" y="218" width="22" height="14" fill="#f27171"/><rect x="1263" y="232" width="22" height="14" fill="#fbd0d0"/><rect x="1285" y="232" width="21" height="14" fill="#d0d0fb"/><rect x="1306" y="232" width="22" height="14" fill="#a7a7f8"/><rect x="1328" y="232" width="21" height="14" fill="#c4c4fa"/><rect x="1349" y="232" width="22" height="14" fill="#7d7df5"/><rect x="1371" y="232" width="21" height="14" fill="#fafaff"/><rect x="1392" y="232" width="22" height="14" fill="#8888f6"/><rect x="1414" y="232" width="21" height="14" fill="#eb1e1e"/><rect x="1435" y="232" width="22" height="14" fill="#fbd0d0"/><rect x="1457" y="232" width="21" height="14" fill="#e3e3fd"/><rect x="1478" y="232" width="22" height="14" fill="#fffafa"/><rect x="1500" y="232" width="21" height="14" fill="#f16565"/><rect x="1521" y="232" width="22" height="14" fill="#f27171"/><rect x="1543" y="232" width="21" height="14" fill="#b8b8f9"/><rect x="1564" y="232" width="22" height="14" fill="#1e1eed"/><rect x="1586" y="232" width="21" height="14" fill="#d0d0fb"/><rect x="1607" y="232" width="22" height="14" fill="#f9bfbf"/><rect x="1629" y="232" width="21" height="14" fill="#f37d7d"/><rect x="1650" y="232" width="22" height="14" fill="#f37d7d"/><rect x="1672" y="232" width="21" height="14" fill="#f3f3fe"/><rect x="1693" y="232" width="21" height="14" fill="#ffffff"/><rect x="1714" y="232" width="22" height="14" fill="#ed3636"/><rect x="1736" y="232" width="21" height="14" fill="#acacf8"/><rect x="1757" y="232" width="22" height="14" fill="#e3e3fd"/><rect x="1779" y="232" width="21" height="14" fill="#7d7df5"/><rect x="1800" y="232" width="22" height="14" fill="#8888f6"/><rect x="1263" y="246" width="22" height="14" fill="#9494f6"/><rect x="1285" y="246" width="21" height="14" fill="#4d4df1"/><rect x="1306" y="246" width="22" height="14" fill="#a0a0f7"/><rect x="1328" y="246" width="21" height="14" fill="#acacf8"/><rect x="1349" y="246" width="22" height="14" fill="#fafaff"/><rect x="1371" y="246" width="21" height="14" fill="#fbd0d0"/><rect x="1392" y="246" width="22" height="14" fill="#ed3636"/><rect x="1414" y="246" width="21" height="14" fill="#9494f6"/><rect x="1435" y="246" width="22" height="14" fill="#f8acac"/><rect x="1457" y="246" width="21" height="14" fill="#2e2eee"/><rect x="1478" y="246" width="22" height="14" fill="#ed3131"/><rect x="1500" y="246" width="21" height="14" fill="#fafaff"/><rect x="1521" y="246" width="22" height="14" fill="#fac4c4"/><rect x="1543" y="246" width="21" height="14" fill="#e3e3fd"/><rect x="1564" y="246" width="22" height="14" fill="#facbcb"/><rect x="1586" y="246" width="21" height="14" fill="#d0d0fb"/><rect x="1607" y="246" width="22" height="14" fill="#f69494"/><rect x="1629" y="246" width="21" height="14" fill="#fcdbdb"/><rect x="1650" y="246" width="22" height="14" fill="#ed3636"/><rect x="1672" y="246" width="21" height="14" fill="#e3e3fd"/><rect x="1693" y="246" width="21" height="14" fill="#eeeefe"/><rect x="1714" y="246" width="22" height="14" fill="#b3b3f9"/><rect x="1736" y="246" width="21" height="14" fill="#6565f3"/><rect x="1757" y="246" width="22" height="14" fill="#fbd0d0"/><rect x="1779" y="246" width="21" height="14" fill="#b8b8f9"/><rect x="1800" y="246" width="22" height="14" fill="#f27171"/><rect x="1263" y="260" width="22" height="14" fill="#ffffff"/><rect x="1285" y="260" width="21" height="14" fill="#f9bfbf"/><rect x="1306" y="260" width="22" height="14" fill="#9494f6"/><rect x="1328" y="260" width="21" height="14" fill="#4d4df1"/><rect x="1349" y="260" width="22" height="14" fill="#8484f5"/><rect x="1371" y="260" width="21" height="14" fill="#f48888"/><rect x="1392" y="260" width="22" height="14" fill="#9090f6"/><rect x="1414" y="260" width="21" height="14" fill="#ffffff"/><rect x="1435" y="260" width="22" height="14" fill="#f69494"/><rect x="1457" y="260" width="21" height="14" fill="#ed3636"/><rect x="1478" y="260" width="22" height="14" fill="#d0d0fb"/><rect x="1500" y="260" width="21" height="14" fill="#f9b8b8"/><rect x="1521" y="260" width="22" height="14" fill="#f05454"/><rect x="1543" y="260" width="21" height="14" fill="#d0d0fb"/><rect x="1564" y="260" width="22" height="14" fill="#d0d0fb"/><rect x="1586" y="260" width="21" height="14" fill="#fcdbdb"/><rect x="1607" y="260" width="22" height="14" fill="#f16565"/><rect x="1629" y="260" width="21" height="14" fill="#f59090"/><rect x="1650" y="260" width="22" height="14" fill="#f16565"/><rect x="1672" y="260" width="21" height="14" fill="#8888f6"/><rect x="1693" y="260" width="21" height="14" fill="#1e1eed"/><rect x="1714" y="260" width="22" height="14" fill="#fafaff"/><rect x="1736" y="260" width="21" height="14" fill="#6c6cf3"/><rect x="1757" y="260" width="22" height="14" fill="#f8b3b3"/><rect x="1779" y="260" width="21" height="14" fill="#cbcbfb"/><rect x="1800" y="260" width="22" height="14" fill="#b8b8f9"/><rect x="1263" y="274" width="22" height="14" fill="#ea1212"/><rect x="1285" y="274" width="21" height="14" fill="#eeeefe"/><rect x="1306" y="274" width="22" height="14" fill="#f6f6fe"/><rect x="1328" y="274" width="21" height="14" fill="#d0d0fb"/><rect x="1349" y="274" width="22" height="14" fill="#cbcbfb"/><rect x="1371" y="274" width="21" height="14" fill="#cbcbfb"/><rect x="1392" y="274" width="22" height="14" fill="#c4c4fa"/><rect x="1414" y="274" width="21" height="14" fill="#1919ed"/><rect x="1435" y="274" width="22" height="14" fill="#fef3f3"/><rect x="1457" y="274" width="21" height="14" fill="#f8b3b3"/><rect x="1478" y="274" width="22" height="14" fill="#e7e7fd"/><rect x="1500" y="274" width="21" height="14" fill="#ececfd"/><rect x="1521" y="274" width="22" height="14" fill="#ea1212"/><rect x="1543" y="274" width="21" height="14" fill="#b8b8f9"/><rect x="1564" y="274" width="22" height="14" fill="#facbcb"/><rect x="1586" y="274" width="21" height="14" fill="#f8b3b3"/><rect x="1607" y="274" width="22" height="14" fill="#facbcb"/><rect x="1629" y="274" width="21" height="14" fill="#f16565"/><rect x="1650" y="274" width="22" height="14" fill="#acacf8"/><rect x="1672" y="274" width="21" height="14" fill="#d7d7fc"/><rect x="1693" y="274" width="21" height="14" fill="#e3e3fd"/><rect x="1714" y="274" width="22" height="14" fill="#d0d0fb"/><rect x="1736" y="274" width="21" height="14" fill="#fffafa"/><rect x="1757" y="274" width="22" height="14" fill="#f8acac"/><rect x="1779" y="274" width="21" height="14" fill="#dbdbfc"/><rect x="1800" y="274" width="22" height="14" fill="#1212ec"/><rect x="1263" y="288" width="22" height="14" fill="#f16565"/><rect x="1285" y="288" width="21" height="14" fill="#a7a7f8"/><rect x="1306" y="288" width="22" height="14" fill="#a7a7f8"/><rect x="1328" y="288" width="21" height="14" fill="#ed3131"/><rect x="1349" y="288" width="22" height="14" fill="#fcdbdb"/><rect x="1371" y="288" width="21" height="14" fill="#e3e3fd"/><rect x="1392" y="288" width="22" height="14" fill="#dedefc"/><rect x="1414" y="288" width="21" height="14" fill="#f69b9b"/><rect x="1435" y="288" width="22" height="14" fill="#f69494"/><rect x="1457" y="288" width="21" height="14" fill="#9b9bf7"/><rect x="1478" y="288" width="22" height="14" fill="#fbd0d0"/><rect x="1500" y="288" width="21" height="14" fill="#9494f6"/><rect x="1521" y="288" width="22" height="14" fill="#9494f6"/><rect x="1543" y="288" width="21" height="14" fill="#6060f2"/><rect x="1564" y="288" width="22" height="14" fill="#f7a7a7"/><rect x="1586" y="288" width="21" height="14" fill="#fcdbdb"/><rect x="1607" y="288" width="22" height="14" fill="#facbcb"/><rect x="1629" y="288" width="21" height="14" fill="#d7d7fc"/><rect x="1650" y="288" width="22" height="14" fill="#eb1919"/><rect x="1672" y="288" width="21" height="14" fill="#e3e3fd"/><rect x="1693" y="288" width="21" height="14" fill="#7878f4"/><rect x="1714" y="288" width="22" height="14" fill="#5454f1"/><rect x="1736" y="288" width="21" height="14" fill="#dedefc"/><rect x="1757" y="288" width="22" height="14" fill="#f9bfbf"/><rect x="1779" y="288" width="21" height="14" fill="#f16060"/><rect x="1800" y="288" width="22" height="14" fill="#4141f0"/><rect x="1263" y="302" width="22" height="14" fill="#ea1212"/><rect x="1285" y="302" width="21" height="14" fill="#f05959"/><rect x="1306" y="302" width="22" height="14" fill="#4d4df1"/><rect x="1328" y="302" width="21" height="14" fill="#b3b3f9"/><rect x="1349" y="302" width="22" height="14" fill="#4949f0"/><rect x="1371" y="302" width="21" height="14" fill="#f05959"/><rect x="1392" y="302" width="22" height="14" fill="#e3e3fd"/><rect x="1414" y="302" width="21" height="14" fill="#fcdbdb"/><rect x="1435" y="302" width="22" height="14" fill="#feeeee"/><rect x="1457" y="302" width="21" height="14" fill="#f3f3fe"/><rect x="1478" y="302" width="22" height="14" fill="#f8b3b3"/><rect x="1500" y="302" width="21" height="14" fill="#acacf8"/><rect x="1521" y="302" width="22" height="14" fill="#f8f8fe"/><rect x="1543" y="302" width="21" height="14" fill="#eeeefe"/><rect x="1564" y="302" width="22" height="14" fill="#feeeee"/><rect x="1586" y="302" width="21" height="14" fill="#fcdede"/><rect x="1607" y="302" width="22" height="14" fill="#f9bfbf"/><rect x="1629" y="302" width="21" height="14" fill="#fde7e7"/><rect x="1650" y="302" width="22" height="14" fill="#f05959"/><rect x="1672" y="302" width="21" height="14" fill="#9090f6"/><rect x="1693" y="302" width="21" height="14" fill="#bfbffa"/><rect x="1714" y="302" width="22" height="14" fill="#5454f1"/><rect x="1736" y="302" width="21" height="14" fill="#d0d0fb"/><rect x="1757" y="302" width="22" height="14" fill="#fdfdff"/><rect x="1779" y="302" width="21" height="14" fill="#8888f6"/><rect x="1800" y="302" width="22" height="14" fill="#dbdbfc"/><rect x="1263" y="316" width="22" height="15" fill="#ed3636"/><rect x="1285" y="316" width="21" height="15" fill="#fdecec"/><rect x="1306" y="316" width="22" height="15" fill="#e3e3fd"/><rect x="1328" y="316" width="21" height="15" fill="#fef3f3"/><rect x="1349" y="316" width="22" height="15" fill="#eeeefe"/><rect x="1371" y="316" width="21" height="15" fill="#e3e3fd"/><rect x="1392" y="316" width="22" height="15" fill="#a0a0f7"/><rect x="1414" y="316" width="21" height="15" fill="#4949f0"/><rect x="1435" y="316" width="22" height="15" fill="#fef1f1"/><rect x="1457" y="316" width="21" height="15" fill="#eeeefe"/><rect x="1478" y="316" width="22" height="15" fill="#fcdbdb"/><rect x="1500" y="316" width="21" height="15" fill="#facbcb"/><rect x="1521" y="316" width="22" height="15" fill="#f8b3b3"/><rect x="1543" y="316" width="21" height="15" fill="#cbcbfb"/><rect x="1564" y="316" width="22" height="15" fill="#ea1212"/><rect x="1586" y="316" width="21" height="15" fill="#fac4c4"/><rect x="1607" y="316" width="22" height="15" fill="#f59090"/><rect x="1629" y="316" width="21" height="15" fill="#ec2a2a"/><rect x="1650" y="316" width="22" height="15" fill="#cbcbfb"/><rect x="1672" y="316" width="21" height="15" fill="#8888f6"/><rect x="1693" y="316" width="21" height="15" fill="#4949f0"/><rect x="1714" y="316" width="22" height="15" fill="#6c6cf3"/><rect x="1736" y="316" width="21" height="15" fill="#f7a0a0"/><rect x="1757" y="316" width="22" height="15" fill="#f9b8b8"/><rect x="1779" y="316" width="21" height="15" fill="#4141f0"/><rect x="1800" y="316" width="22" height="15" fill="#bfbffa"/><rect x="1263" y="331" width="22" height="14" fill="#f1f1fe"/><rect x="1285" y="331" width="21" height="14" fill="#cbcbfb"/><rect x="1306" y="331" width="22" height="14" fill="#facbcb"/><rect x="1328" y="331" width="21" height="14" fill="#5454f1"/><rect x="1349" y="331" width="22" height="14" fill="#9b9bf7"/><rect x="1371" y="331" width="21" height="14" fill="#e7e7fd"/><rect x="1392" y="331" width="22" height="14" fill="#dbdbfc"/><rect x="1414" y="331" width="21" height="14" fill="#fcdbdb"/><rect x="1435" y="331" width="22" height="14" fill="#fbd0d0"/><rect x="1457" y="331" width="21" height="14" fill="#ef4949"/><rect x="1478" y="331" width="22" height="14" fill="#f7a7a7"/><rect x="1500" y="331" width="21" height="14" fill="#ea1212"/><rect x="1521" y="331" width="22" height="14" fill="#cbcbfb"/><rect x="1543" y="331" width="21" height="14" fill="#fcdbdb"/><rect x="1564" y="331" width="22" height="14" fill="#ee4141"/><rect x="1586" y="331" width="21" height="14" fill="#f48888"/><rect x="1607" y="331" width="22" height="14" fill="#f9bfbf"/><rect x="1629" y="331" width="21" height="14" fill="#f7a0a0"/><rect x="1650" y="331" width="22" height="14" fill="#fdecec"/><rect x="1672" y="331" width="21" height="14" fill="#bfbffa"/><rect x="1693" y="331" width="21" height="14" fill="#9b9bf7"/><rect x="1714" y="331" width="22" height="14" fill="#6565f3"/><rect x="1736" y="331" width="21" height="14" fill="#4949f0"/><rect x="1757" y="331" width="22" height="14" fill="#3d3def"/><rect x="1779" y="331" width="21" height="14" fill="#fcdede"/><rect x="1800" y="331" width="22" height="14" fill="#a0a0f7"/><rect x="1263" y="345" width="22" height="14" fill="#e7e7fd"/><rect x="1285" y="345" width="21" height="14" fill="#f69b9b"/><rect x="1306" y="345" width="22" height="14" fill="#bfbffa"/><rect x="1328" y="345" width="21" height="14" fill="#ea1212"/><rect x="1349" y="345" width="22" height="14" fill="#fdecec"/><rect x="1371" y="345" width="21" height="14" fill="#acacf8"/><rect x="1392" y="345" width="22" height="14" fill="#fafaff"/><rect x="1414" y="345" width="21" height="14" fill="#fbd7d7"/><rect x="1435" y="345" width="22" height="14" fill="#fac4c4"/><rect x="1457" y="345" width="21" height="14" fill="#f16060"/><rect x="1478" y="345" width="22" height="14" fill="#fac4c4"/><rect x="1500" y="345" width="21" height="14" fill="#4949f0"/><rect x="1521" y="345" width="22" height="14" fill="#ef4d4d"/><rect x="1543" y="345" width="21" height="14" fill="#cbcbfb"/><rect x="1564" y="345" width="22" height="14" fill="#5959f2"/><rect x="1586" y="345" width="21" height="14" fill="#f8b3b3"/><rect x="1607" y="345" width="22" height="14" fill="#f8b3b3"/><rect x="1629" y="345" width="21" height="14" fill="#fcdede"/><rect x="1650" y="345" width="22" height="14" fill="#a0a0f7"/><rect x="1672" y="345" width="21" height="14" fill="#b3b3f9"/><rect x="1693" y="345" width="21" height="14" fill="#d0d0fb"/><rect x="1714" y="345" width="22" height="14" fill="#b3b3f9"/><rect x="1736" y="345" width="21" height="14" fill="#a0a0f7"/><rect x="1757" y="345" width="22" height="14" fill="#f69494"/><rect x="1779" y="345" width="21" height="14" fill="#8484f5"/><rect x="1800" y="345" width="22" height="14" fill="#8484f5"/><rect x="1263" y="359" width="22" height="14" fill="#f69494"/><rect x="1285" y="359" width="21" height="14" fill="#ececfd"/><rect x="1306" y="359" width="22" height="14" fill="#f37d7d"/><rect x="1328" y="359" width="21" height="14" fill="#9494f6"/><rect x="1349" y="359" width="22" height="14" fill="#eeeefe"/><rect x="1371" y="359" width="21" height="14" fill="#d0d0fb"/><rect x="1392" y="359" width="22" height="14" fill="#acacf8"/><rect x="1414" y="359" width="21" height="14" fill="#ea1212"/><rect x="1435" y="359" width="22" height="14" fill="#eeeefe"/><rect x="1457" y="359" width="21" height="14" fill="#fcdede"/><rect x="1478" y="359" width="22" height="14" fill="#f3f3fe"/><rect x="1500" y="359" width="21" height="14" fill="#eeeefe"/><rect x="1521" y="359" width="22" height="14" fill="#fce3e3"/><rect x="1543" y="359" width="21" height="14" fill="#bfbffa"/><rect x="1564" y="359" width="22" height="14" fill="#f59090"/><rect x="1586" y="359" width="21" height="14" fill="#f3f3fe"/><rect x="1607" y="359" width="22" height="14" fill="#fce3e3"/><rect x="1629" y="359" width="21" height="14" fill="#fbd0d0"/><rect x="1650" y="359" width="22" height="14" fill="#d7d7fc"/><rect x="1672" y="359" width="21" height="14" fill="#b3b3f9"/><rect x="1693" y="359" width="21" height="14" fill="#b3b3f9"/><rect x="1714" y="359" width="22" height="14" fill="#acacf8"/><rect x="1736" y="359" width="21" height="14" fill="#acacf8"/><rect x="1757" y="359" width="22" height="14" fill="#a7a7f8"/><rect x="1779" y="359" width="21" height="14" fill="#cbcbfb"/><rect x="1800" y="359" width="22" height="14" fill="#bfbffa"/><rect x="1263" y="373" width="22" height="14" fill="#ea1212"/><rect x="1285" y="373" width="21" height="14" fill="#cbcbfb"/><rect x="1306" y="373" width="22" height="14" fill="#f27171"/><rect x="1328" y="373" width="21" height="14" fill="#f8acac"/><rect x="1349" y="373" width="22" height="14" fill="#e3e3fd"/><rect x="1371" y="373" width="21" height="14" fill="#ececfd"/><rect x="1392" y="373" width="22" height="14" fill="#9494f6"/><rect x="1414" y="373" width="21" height="14" fill="#ea1212"/><rect x="1435" y="373" width="22" height="14" fill="#eeeefe"/><rect x="1457" y="373" width="21" height="14" fill="#fafaff"/><rect x="1478" y="373" width="22" height="14" fill="#e7e7fd"/><rect x="1500" y="373" width="21" height="14" fill="#dbdbfc"/><rect x="1521" y="373" width="22" height="14" fill="#ffffff"/><rect x="1543" y="373" width="21" height="14" fill="#6060f2"/><rect x="1564" y="373" width="22" height="14" fill="#fce3e3"/><rect x="1586" y="373" width="21" height="14" fill="#f9bfbf"/><rect x="1607" y="373" width="22" height="14" fill="#fde7e7"/><rect x="1629" y="373" width="21" height="14" fill="#f69494"/><rect x="1650" y="373" width="22" height="14" fill="#fdecec"/><rect x="1672" y="373" width="21" height="14" fill="#ffffff"/><rect x="1693" y="373" width="21" height="14" fill="#ececfd"/><rect x="1714" y="373" width="22" height="14" fill="#a7a7f8"/><rect x="1736" y="373" width="21" height="14" fill="#1919ed"/><rect x="1757" y="373" width="22" height="14" fill="#a7a7f8"/><rect x="1779" y="373" width="21" height="14" fill="#f9bfbf"/><rect x="1800" y="373" width="22" height="14" fill="#3d3def"/><rect x="1263" y="387" width="22" height="14" fill="#fbd7d7"/><rect x="1285" y="387" width="21" height="14" fill="#8484f5"/><rect x="1306" y="387" width="22" height="14" fill="#ea1212"/><rect x="1328" y="387" width="21" height="14" fill="#d7d7fc"/><rect x="1349" y="387" width="22" height="14" fill="#ececfd"/><rect x="1371" y="387" width="21" height="14" fill="#8484f5"/><rect x="1392" y="387" width="22" height="14" fill="#8888f6"/><rect x="1414" y="387" width="21" height="14" fill="#eeeefe"/><rect x="1435" y="387" width="22" height="14" fill="#fbd0d0"/><rect x="1457" y="387" width="21" height="14" fill="#f27171"/><rect x="1478" y="387" width="22" height="14" fill="#f7a7a7"/><rect x="1500" y="387" width="21" height="14" fill="#cbcbfb"/><rect x="1521" y="387" width="22" height="14" fill="#f9bfbf"/><rect x="1543" y="387" width="21" height="14" fill="#eeeefe"/><rect x="1564" y="387" width="22" height="14" fill="#d0d0fb"/><rect x="1586" y="387" width="21" height="14" fill="#fbd7d7"/><rect x="1607" y="387" width="22" height="14" fill="#fbd0d0"/><rect x="1629" y="387" width="21" height="14" fill="#f8acac"/><rect x="1650" y="387" width="22" height="14" fill="#fbd0d0"/><rect x="1672" y="387" width="21" height="14" fill="#d0d0fb"/><rect x="1693" y="387" width="21" height="14" fill="#bfbffa"/><rect x="1714" y="387" width="22" height="14" fill="#5959f2"/><rect x="1736" y="387" width="21" height="14" fill="#9090f6"/><rect x="1757" y="387" width="22" height="14" fill="#cbcbfb"/><rect x="1779" y="387" width="21" height="14" fill="#e7e7fd"/><rect x="1800" y="387" width="22" height="14" fill="#f3f3fe"/><rect x="1263" y="401" width="22" height="14" fill="#ef4949"/><rect x="1285" y="401" width="21" height="14" fill="#f8b3b3"/><rect x="1306" y="401" width="22" height="14" fill="#5959f2"/><rect x="1328" y="401" width="21" height="14" fill="#f16565"/><rect x="1349" y="401" width="22" height="14" fill="#eb1e1e"/><rect x="1371" y="401" width="21" height="14" fill="#e3e3fd"/><rect x="1392" y="401" width="22" height="14" fill="#f3f3fe"/><rect x="1414" y="401" width="21" height="14" fill="#fbd0d0"/><rect x="1435" y="401" width="22" height="14" fill="#b8b8f9"/><rect x="1457" y="401" width="21" height="14" fill="#ea1212"/><rect x="1478" y="401" width="22" height="14" fill="#9090f6"/><rect x="1500" y="401" width="21" height="14" fill="#f9b8b8"/><rect x="1521" y="401" width="22" height="14" fill="#fce3e3"/><rect x="1543" y="401" width="21" height="14" fill="#fbd7d7"/><rect x="1564" y="401" width="22" height="14" fill="#e3e3fd"/><rect x="1586" y="401" width="21" height="14" fill="#dbdbfc"/><rect x="1607" y="401" width="22" height="14" fill="#fafaff"/><rect x="1629" y="401" width="21" height="14" fill="#fafaff"/><rect x="1650" y="401" width="22" height="14" fill="#9b9bf7"/><rect x="1672" y="401" width="21" height="14" fill="#9494f6"/><rect x="1693" y="401" width="21" height="14" fill="#f48484"/><rect x="1714" y="401" width="22" height="14" fill="#9494f6"/><rect x="1736" y="401" width="21" height="14" fill="#6565f3"/><rect x="1757" y="401" width="22" height="14" fill="#a0a0f7"/><rect x="1779" y="401" width="21" height="14" fill="#6565f3"/><rect x="1800" y="401" width="22" height="14" fill="#d7d7fc"/><rect x="1263" y="415" width="22" height="14" fill="#d0d0fb"/><rect x="1285" y="415" width="21" height="14" fill="#fffdfd"/><rect x="1306" y="415" width="22" height="14" fill="#cbcbfb"/><rect x="1328" y="415" width="21" height="14" fill="#f16565"/><rect x="1349" y="415" width="22" height="14" fill="#ea1212"/><rect x="1371" y="415" width="21" height="14" fill="#bfbffa"/><rect x="1392" y="415" width="22" height="14" fill="#bfbffa"/><rect x="1414" y="415" width="21" height="14" fill="#bfbffa"/><rect x="1435" y="415" width="22" height="14" fill="#ececfd"/><rect x="1457" y="415" width="21" height="14" fill="#dedefc"/><rect x="1478" y="415" width="22" height="14" fill="#cbcbfb"/><rect x="1500" y="415" width="21" height="14" fill="#ea1212"/><rect x="1521" y="415" width="22" height="14" fill="#dbdbfc"/><rect x="1543" y="415" width="21" height="14" fill="#fbd7d7"/><rect x="1564" y="415" width="22" height="14" fill="#eeeefe"/><rect x="1586" y="415" width="21" height="14" fill="#fcdbdb"/><rect x="1607" y="415" width="22" height="14" fill="#e3e3fd"/><rect x="1629" y="415" width="21" height="14" fill="#dedefc"/><rect x="1650" y="415" width="22" height="14" fill="#c4c4fa"/><rect x="1672" y="415" width="21" height="14" fill="#bfbffa"/><rect x="1693" y="415" width="21" height="14" fill="#bfbffa"/><rect x="1714" y="415" width="22" height="14" fill="#cbcbfb"/><rect x="1736" y="415" width="21" height="14" fill="#bfbffa"/><rect x="1757" y="415" width="22" height="14" fill="#c4c4fa"/><rect x="1779" y="415" width="21" height="14" fill="#bfbffa"/><rect x="1800" y="415" width="22" height="14" fill="#c4c4fa"/><rect x="1263" y="429" width="22" height="14" fill="#b8b8f9"/><rect x="1285" y="429" width="21" height="14" fill="#f16565"/><rect x="1306" y="429" width="22" height="14" fill="#d0d0fb"/><rect x="1328" y="429" width="21" height="14" fill="#f1f1fe"/><rect x="1349" y="429" width="22" height="14" fill="#f9bfbf"/><rect x="1371" y="429" width="21" height="14" fill="#eeeefe"/><rect x="1392" y="429" width="22" height="14" fill="#ea1212"/><rect x="1414" y="429" width="21" height="14" fill="#3131ee"/><rect x="1435" y="429" width="22" height="14" fill="#fcdbdb"/><rect x="1457" y="429" width="21" height="14" fill="#b8b8f9"/><rect x="1478" y="429" width="22" height="14" fill="#bfbffa"/><rect x="1500" y="429" width="21" height="14" fill="#ea1212"/><rect x="1521" y="429" width="22" height="14" fill="#feeeee"/><rect x="1543" y="429" width="21" height="14" fill="#9494f6"/><rect x="1564" y="429" width="22" height="14" fill="#e3e3fd"/><rect x="1586" y="429" width="21" height="14" fill="#f48484"/><rect x="1607" y="429" width="22" height="14" fill="#e7e7fd"/><rect x="1629" y="429" width="21" height="14" fill="#f7a7a7"/><rect x="1650" y="429" width="22" height="14" fill="#f69b9b"/><rect x="1672" y="429" width="21" height="14" fill="#c4c4fa"/><rect x="1693" y="429" width="21" height="14" fill="#9494f6"/><rect x="1714" y="429" width="22" height="14" fill="#5454f1"/><rect x="1736" y="429" width="21" height="14" fill="#acacf8"/><rect x="1757" y="429" width="22" height="14" fill="#f7a7a7"/><rect x="1779" y="429" width="21" height="14" fill="#b3b3f9"/><rect x="1800" y="429" width="22" height="14" fill="#b8b8f9"/><rect x="1263" y="443" width="22" height="14" fill="#f7a0a0"/><rect x="1285" y="443" width="21" height="14" fill="#eb1919"/><rect x="1306" y="443" width="22" height="14" fill="#facbcb"/><rect x="1328" y="443" width="21" height="14" fill="#dbdbfc"/><rect x="1349" y="443" width="22" height="14" fill="#e7e7fd"/><rect x="1371" y="443" width="21" height="14" fill="#f1f1fe"/><rect x="1392" y="443" width="22" height="14" fill="#f05959"/><rect x="1414" y="443" width="21" height="14" fill="#f48484"/><rect x="1435" y="443" width="22" height="14" fill="#d7d7fc"/><rect x="1457" y="443" width="21" height="14" fill="#ef4949"/><rect x="1478" y="443" width="22" height="14" fill="#fffafa"/><rect x="1500" y="443" width="21" height="14" fill="#fcdede"/><rect x="1521" y="443" width="22" height="14" fill="#a0a0f7"/><rect x="1543" y="443" width="21" height="14" fill="#dbdbfc"/><rect x="1564" y="443" width="22" height="14" fill="#f48484"/><rect x="1586" y="443" width="21" height="14" fill="#fbd0d0"/><rect x="1607" y="443" width="22" height="14" fill="#eeeefe"/><rect x="1629" y="443" width="21" height="14" fill="#f7a7a7"/><rect x="1650" y="443" width="22" height="14" fill="#eeeefe"/><rect x="1672" y="443" width="21" height="14" fill="#7d7df5"/><rect x="1693" y="443" width="21" height="14" fill="#9090f6"/><rect x="1714" y="443" width="22" height="14" fill="#e7e7fd"/><rect x="1736" y="443" width="21" height="14" fill="#2525ee"/><rect x="1757" y="443" width="22" height="14" fill="#d0d0fb"/><rect x="1779" y="443" width="21" height="14" fill="#1212ec"/><rect x="1800" y="443" width="22" height="14" fill="#9090f6"/><rect x="1263" y="457" width="22" height="14" fill="#fdecec"/><rect x="1285" y="457" width="21" height="14" fill="#ea1212"/><rect x="1306" y="457" width="22" height="14" fill="#9494f6"/><rect x="1328" y="457" width="21" height="14" fill="#e3e3fd"/><rect x="1349" y="457" width="22" height="14" fill="#fbd0d0"/><rect x="1371" y="457" width="21" height="14" fill="#fef6f6"/><rect x="1392" y="457" width="22" height="14" fill="#f37878"/><rect x="1414" y="457" width="21" height="14" fill="#e7e7fd"/><rect x="1435" y="457" width="22" height="14" fill="#fdecec"/><rect x="1457" y="457" width="21" height="14" fill="#f69b9b"/><rect x="1478" y="457" width="22" height="14" fill="#dbdbfc"/><rect x="1500" y="457" width="21" height="14" fill="#dbdbfc"/><rect x="1521" y="457" width="22" height="14" fill="#eeeefe"/><rect x="1543" y="457" width="21" height="14" fill="#bfbffa"/><rect x="1564" y="457" width="22" height="14" fill="#e7e7fd"/><rect x="1586" y="457" width="21" height="14" fill="#e3e3fd"/><rect x="1607" y="457" width="22" height="14" fill="#e3e3fd"/><rect x="1629" y="457" width="21" height="14" fill="#f6f6fe"/><rect x="1650" y="457" width="22" height="14" fill="#d7d7fc"/><rect x="1672" y="457" width="21" height="14" fill="#d0d0fb"/><rect x="1693" y="457" width="21" height="14" fill="#cbcbfb"/><rect x="1714" y="457" width="22" height="14" fill="#bfbffa"/><rect x="1736" y="457" width="21" height="14" fill="#bfbffa"/><rect x="1757" y="457" width="22" height="14" fill="#bfbffa"/><rect x="1779" y="457" width="21" height="14" fill="#c4c4fa"/><rect x="1800" y="457" width="22" height="14" fill="#cbcbfb"/><rect x="1263" y="471" width="22" height="14" fill="#fcdede"/><rect x="1285" y="471" width="21" height="14" fill="#ea1212"/><rect x="1306" y="471" width="22" height="14" fill="#f6f6fe"/><rect x="1328" y="471" width="21" height="14" fill="#f27171"/><rect x="1349" y="471" width="22" height="14" fill="#e3e3fd"/><rect x="1371" y="471" width="21" height="14" fill="#fef6f6"/><rect x="1392" y="471" width="22" height="14" fill="#f1f1fe"/><rect x="1414" y="471" width="21" height="14" fill="#f7a7a7"/><rect x="1435" y="471" width="22" height="14" fill="#b3b3f9"/><rect x="1457" y="471" width="21" height="14" fill="#f7a7a7"/><rect x="1478" y="471" width="22" height="14" fill="#dbdbfc"/><rect x="1500" y="471" width="21" height="14" fill="#f3f3fe"/><rect x="1521" y="471" width="22" height="14" fill="#f3f3fe"/><rect x="1543" y="471" width="21" height="14" fill="#fef3f3"/><rect x="1564" y="471" width="22" height="14" fill="#ececfd"/><rect x="1586" y="471" width="21" height="14" fill="#e3e3fd"/><rect x="1607" y="471" width="22" height="14" fill="#f3f3fe"/><rect x="1629" y="471" width="21" height="14" fill="#b8b8f9"/><rect x="1650" y="471" width="22" height="14" fill="#ececfd"/><rect x="1672" y="471" width="21" height="14" fill="#bfbffa"/><rect x="1693" y="471" width="21" height="14" fill="#b8b8f9"/><rect x="1714" y="471" width="22" height="14" fill="#b8b8f9"/><rect x="1736" y="471" width="21" height="14" fill="#a7a7f8"/><rect x="1757" y="471" width="22" height="14" fill="#acacf8"/><rect x="1779" y="471" width="21" height="14" fill="#b3b3f9"/><rect x="1800" y="471" width="22" height="14" fill="#d0d0fb"/><rect x="1263" y="485" width="22" height="14" fill="#fef1f1"/><rect x="1285" y="485" width="21" height="14" fill="#dbdbfc"/><rect x="1306" y="485" width="22" height="14" fill="#eeeefe"/><rect x="1328" y="485" width="21" height="14" fill="#eeeefe"/><rect x="1349" y="485" width="22" height="14" fill="#ea1212"/><rect x="1371" y="485" width="21" height="14" fill="#f1f1fe"/><rect x="1392" y="485" width="22" height="14" fill="#ea1212"/><rect x="1414" y="485" width="21" height="14" fill="#e3e3fd"/><rect x="1435" y="485" width="22" height="14" fill="#fdecec"/><rect x="1457" y="485" width="21" height="14" fill="#fce3e3"/><rect x="1478" y="485" width="22" height="14" fill="#ececfd"/><rect x="1500" y="485" width="21" height="14" fill="#fdecec"/><rect x="1521" y="485" width="22" height="14" fill="#e7e7fd"/><rect x="1543" y="485" width="21" height="14" fill="#fbd0d0"/><rect x="1564" y="485" width="22" height="14" fill="#b3b3f9"/><rect x="1586" y="485" width="21" height="14" fill="#cbcbfb"/><rect x="1607" y="485" width="22" height="14" fill="#d0d0fb"/><rect x="1629" y="485" width="21" height="14" fill="#fde7e7"/><rect x="1650" y="485" width="22" height="14" fill="#f6f6fe"/><rect x="1672" y="485" width="21" height="14" fill="#b3b3f9"/><rect x="1693" y="485" width="21" height="14" fill="#7d7df5"/><rect x="1714" y="485" width="22" height="14" fill="#a0a0f7"/><rect x="1736" y="485" width="21" height="14" fill="#8888f6"/><rect x="1757" y="485" width="22" height="14" fill="#fef1f1"/><rect x="1779" y="485" width="21" height="14" fill="#c4c4fa"/><rect x="1800" y="485" width="22" height="14" fill="#b3b3f9"/><rect x="1263" y="499" width="22" height="14" fill="#cbcbfb"/><rect x="1285" y="499" width="21" height="14" fill="#d7d7fc"/><rect x="1306" y="499" width="22" height="14" fill="#ea1212"/><rect x="1328" y="499" width="21" height="14" fill="#fafaff"/><rect x="1349" y="499" width="22" height="14" fill="#f48888"/><rect x="1371" y="499" width="21" height="14" fill="#b8b8f9"/><rect x="1392" y="499" width="22" height="14" fill="#f69494"/><rect x="1414" y="499" width="21" height="14" fill="#f8acac"/><rect x="1435" y="499" width="22" height="14" fill="#d7d7fc"/><rect x="1457" y="499" width="21" height="14" fill="#f7a7a7"/><rect x="1478" y="499" width="22" height="14" fill="#fef1f1"/><rect x="1500" y="499" width="21" height="14" fill="#fef8f8"/><rect x="1521" y="499" width="22" height="14" fill="#f1f1fe"/><rect x="1543" y="499" width="21" height="14" fill="#eeeefe"/><rect x="1564" y="499" width="22" height="14" fill="#ef4949"/><rect x="1586" y="499" width="21" height="14" fill="#fbd0d0"/><rect x="1607" y="499" width="22" height="14" fill="#e7e7fd"/><rect x="1629" y="499" width="21" height="14" fill="#fde7e7"/><rect x="1650" y="499" width="22" height="14" fill="#ececfd"/><rect x="1672" y="499" width="21" height="14" fill="#8888f6"/><rect x="1693" y="499" width="21" height="14" fill="#8888f6"/><rect x="1714" y="499" width="22" height="14" fill="#8888f6"/><rect x="1736" y="499" width="21" height="14" fill="#8888f6"/><rect x="1757" y="499" width="22" height="14" fill="#eeeefe"/><rect x="1779" y="499" width="21" height="14" fill="#5959f2"/><rect x="1800" y="499" width="22" height="14" fill="#8888f6"/><rect x="1263" y="513" width="22" height="14" fill="#fbd7d7"/><rect x="1285" y="513" width="21" height="14" fill="#ea1212"/><rect x="1306" y="513" width="22" height="14" fill="#f37878"/><rect x="1328" y="513" width="21" height="14" fill="#e3e3fd"/><rect x="1349" y="513" width="22" height="14" fill="#f16565"/><rect x="1371" y="513" width="21" height="14" fill="#f37d7d"/><rect x="1392" y="513" width="22" height="14" fill="#d0d0fb"/><rect x="1414" y="513" width="21" height="14" fill="#b8b8f9"/><rect x="1435" y="513" width="22" height="14" fill="#cbcbfb"/><rect x="1457" y="513" width="21" height="14" fill="#fcdbdb"/><rect x="1478" y="513" width="22" height="14" fill="#c4c4fa"/><rect x="1500" y="513" width="21" height="14" fill="#bfbffa"/><rect x="1521" y="513" width="22" height="14" fill="#c4c4fa"/><rect x="1543" y="513" width="21" height="14" fill="#fffdfd"/><rect x="1564" y="513" width="22" height="14" fill="#a0a0f7"/><rect x="1586" y="513" width="21" height="14" fill="#fcdede"/><rect x="1607" y="513" width="22" height="14" fill="#b8b8f9"/><rect x="1629" y="513" width="21" height="14" fill="#c4c4fa"/><rect x="1650" y="513" width="22" height="14" fill="#e7e7fd"/><rect x="1672" y="513" width="21" height="14" fill="#eeeefe"/><rect x="1693" y="513" width="21" height="14" fill="#a0a0f7"/><rect x="1714" y="513" width="22" height="14" fill="#d7d7fc"/><rect x="1736" y="513" width="21" height="14" fill="#9b9bf7"/><rect x="1757" y="513" width="22" height="14" fill="#f8acac"/><rect x="1779" y="513" width="21" height="14" fill="#b3b3f9"/><rect x="1800" y="513" width="22" height="14" fill="#a7a7f8"/><rect x="1263" y="527" width="22" height="14" fill="#f8b3b3"/><rect x="1285" y="527" width="21" height="14" fill="#ea1212"/><rect x="1306" y="527" width="22" height="14" fill="#f9bfbf"/><rect x="1328" y="527" width="21" height="14" fill="#fcdede"/><rect x="1349" y="527" width="22" height="14" fill="#f8acac"/><rect x="1371" y="527" width="21" height="14" fill="#ea1212"/><rect x="1392" y="527" width="22" height="14" fill="#ed3636"/><rect x="1414" y="527" width="21" height="14" fill="#a7a7f8"/><rect x="1435" y="527" width="22" height="14" fill="#e3e3fd"/><rect x="1457" y="527" width="21" height="14" fill="#f9bfbf"/><rect x="1478" y="527" width="22" height="14" fill="#b8b8f9"/><rect x="1500" y="527" width="21" height="14" fill="#dedefc"/><rect x="1521" y="527" width="22" height="14" fill="#dedefc"/><rect x="1543" y="527" width="21" height="14" fill="#b3b3f9"/><rect x="1564" y="527" width="22" height="14" fill="#cbcbfb"/><rect x="1586" y="527" width="21" height="14" fill="#d0d0fb"/><rect x="1607" y="527" width="22" height="14" fill="#b3b3f9"/><rect x="1629" y="527" width="21" height="14" fill="#f1f1fe"/><rect x="1650" y="527" width="22" height="14" fill="#f1f1fe"/><rect x="1672" y="527" width="21" height="14" fill="#b3b3f9"/><rect x="1693" y="527" width="21" height="14" fill="#a7a7f8"/><rect x="1714" y="527" width="22" height="14" fill="#a0a0f7"/><rect x="1736" y="527" width="21" height="14" fill="#a0a0f7"/><rect x="1757" y="527" width="22" height="14" fill="#a0a0f7"/><rect x="1779" y="527" width="21" height="14" fill="#a0a0f7"/><rect x="1800" y="527" width="22" height="14" fill="#a7a7f8"/><rect x="1263" y="541" width="22" height="14" fill="#cbcbfb"/><rect x="1285" y="541" width="21" height="14" fill="#f59090"/><rect x="1306" y="541" width="22" height="14" fill="#ea1212"/><rect x="1328" y="541" width="21" height="14" fill="#f1f1fe"/><rect x="1349" y="541" width="22" height="14" fill="#f8b3b3"/><rect x="1371" y="541" width="21" height="14" fill="#bfbffa"/><rect x="1392" y="541" width="22" height="14" fill="#f16565"/><rect x="1414" y="541" width="21" height="14" fill="#f8b3b3"/><rect x="1435" y="541" width="22" height="14" fill="#d0d0fb"/><rect x="1457" y="541" width="21" height="14" fill="#a7a7f8"/><rect x="1478" y="541" width="22" height="14" fill="#bfbffa"/><rect x="1500" y="541" width="21" height="14" fill="#dedefc"/><rect x="1521" y="541" width="22" height="14" fill="#dbdbfc"/><rect x="1543" y="541" width="21" height="14" fill="#f16565"/><rect x="1564" y="541" width="22" height="14" fill="#f1f1fe"/><rect x="1586" y="541" width="21" height="14" fill="#f7a7a7"/><rect x="1607" y="541" width="22" height="14" fill="#b3b3f9"/><rect x="1629" y="541" width="21" height="14" fill="#d7d7fc"/><rect x="1650" y="541" width="22" height="14" fill="#f05959"/><rect x="1672" y="541" width="21" height="14" fill="#a0a0f7"/><rect x="1693" y="541" width="21" height="14" fill="#acacf8"/><rect x="1714" y="541" width="22" height="14" fill="#9b9bf7"/><rect x="1736" y="541" width="21" height="14" fill="#9494f6"/><rect x="1757" y="541" width="22" height="14" fill="#9494f6"/><rect x="1779" y="541" width="21" height="14" fill="#9494f6"/><rect x="1800" y="541" width="22" height="14" fill="#9b9bf7"/><rect x="1263" y="555" width="22" height="15" fill="#ececfd"/><rect x="1285" y="555" width="21" height="15" fill="#ea1212"/><rect x="1306" y="555" width="22" height="15" fill="#ea1212"/><rect x="1328" y="555" width="21" height="15" fill="#fffafa"/><rect x="1349" y="555" width="22" height="15" fill="#f9bfbf"/><rect x="1371" y="555" width="21" height="15" fill="#e3e3fd"/><rect x="1392" y="555" width="22" height="15" fill="#f05959"/><rect x="1414" y="555" width="21" height="15" fill="#f8b3b3"/><rect x="1435" y="555" width="22" height="15" fill="#cbcbfb"/><rect x="1457" y="555" width="21" height="15" fill="#dbdbfc"/><rect x="1478" y="555" width="22" height="15" fill="#c4c4fa"/><rect x="1500" y="555" width="21" height="15" fill="#c4c4fa"/><rect x="1521" y="555" width="22" height="15" fill="#cbcbfb"/><rect x="1543" y="555" width="21" height="15" fill="#cbcbfb"/><rect x="1564" y="555" width="22" height="15" fill="#d7d7fc"/><rect x="1586" y="555" width="21" height="15" fill="#bfbffa"/><rect x="1607" y="555" width="22" height="15" fill="#c4c4fa"/><rect x="1629" y="555" width="21" height="15" fill="#d0d0fb"/><rect x="1650" y="555" width="22" height="15" fill="#cbcbfb"/><rect x="1672" y="555" width="21" height="15" fill="#b8b8f9"/><rect x="1693" y="555" width="21" height="15" fill="#b8b8f9"/><rect x="1714" y="555" width="22" height="15" fill="#b8b8f9"/><rect x="1736" y="555" width="21" height="15" fill="#acacf8"/><rect x="1757" y="555" width="22" height="15" fill="#bfbffa"/><rect x="1779" y="555" width="21" height="15" fill="#bfbffa"/><rect x="1800" y="555" width="22" height="15" fill="#b3b3f9"/><rect x="1263" y="570" width="22" height="14" fill="#ececfd"/><rect x="1285" y="570" width="21" height="14" fill="#fcdbdb"/><rect x="1306" y="570" width="22" height="14" fill="#ea1212"/><rect x="1328" y="570" width="21" height="14" fill="#cbcbfb"/><rect x="1349" y="570" width="22" height="14" fill="#ed3636"/><rect x="1371" y="570" width="21" height="14" fill="#fbd0d0"/><rect x="1392" y="570" width="22" height="14" fill="#f16565"/><rect x="1414" y="570" width="21" height="14" fill="#a0a0f7"/><rect x="1435" y="570" width="22" height="14" fill="#dedefc"/><rect x="1457" y="570" width="21" height="14" fill="#b3b3f9"/><rect x="1478" y="570" width="22" height="14" fill="#b3b3f9"/><rect x="1500" y="570" width="21" height="14" fill="#ea1212"/><rect x="1521" y="570" width="22" height="14" fill="#dbdbfc"/><rect x="1543" y="570" width="21" height="14" fill="#f8b3b3"/><rect x="1564" y="570" width="22" height="14" fill="#cbcbfb"/><rect x="1586" y="570" width="21" height="14" fill="#fcdbdb"/><rect x="1607" y="570" width="22" height="14" fill="#bfbffa"/><rect x="1629" y="570" width="21" height="14" fill="#d7d7fc"/><rect x="1650" y="570" width="22" height="14" fill="#f9b8b8"/><rect x="1672" y="570" width="21" height="14" fill="#9494f6"/><rect x="1693" y="570" width="21" height="14" fill="#acacf8"/><rect x="1714" y="570" width="22" height="14" fill="#9494f6"/><rect x="1736" y="570" width="21" height="14" fill="#9b9bf7"/><rect x="1757" y="570" width="22" height="14" fill="#b8b8f9"/><rect x="1779" y="570" width="21" height="14" fill="#9090f6"/><rect x="1800" y="570" width="22" height="14" fill="#9494f6"/><rect x="1263" y="584" width="22" height="14" fill="#fef1f1"/><rect x="1285" y="584" width="21" height="14" fill="#fcdbdb"/><rect x="1306" y="584" width="22" height="14" fill="#ea1212"/><rect x="1328" y="584" width="21" height="14" fill="#f69b9b"/><rect x="1349" y="584" width="22" height="14" fill="#ea1212"/><rect x="1371" y="584" width="21" height="14" fill="#fffafa"/><rect x="1392" y="584" width="22" height="14" fill="#fffafa"/><rect x="1414" y="584" width="21" height="14" fill="#b3b3f9"/><rect x="1435" y="584" width="22" height="14" fill="#f6f6fe"/><rect x="1457" y="584" width="21" height="14" fill="#e3e3fd"/><rect x="1478" y="584" width="22" height="14" fill="#b8b8f9"/><rect x="1500" y="584" width="21" height="14" fill="#fbd7d7"/><rect x="1521" y="584" width="22" height="14" fill="#dbdbfc"/><rect x="1543" y="584" width="21" height="14" fill="#bfbffa"/><rect x="1564" y="584" width="22" height="14" fill="#c4c4fa"/><rect x="1586" y="584" width="21" height="14" fill="#e7e7fd"/><rect x="1607" y="584" width="22" height="14" fill="#cbcbfb"/><rect x="1629" y="584" width="21" height="14" fill="#d0d0fb"/><rect x="1650" y="584" width="22" height="14" fill="#dbdbfc"/><rect x="1672" y="584" width="21" height="14" fill="#acacf8"/><rect x="1693" y="584" width="21" height="14" fill="#b3b3f9"/><rect x="1714" y="584" width="22" height="14" fill="#b3b3f9"/><rect x="1736" y="584" width="21" height="14" fill="#cbcbfb"/><rect x="1757" y="584" width="22" height="14" fill="#b3b3f9"/><rect x="1779" y="584" width="21" height="14" fill="#bfbffa"/><rect x="1800" y="584" width="22" height="14" fill="#bfbffa"/><rect x="1263" y="598" width="22" height="14" fill="#fac4c4"/><rect x="1285" y="598" width="21" height="14" fill="#ea1212"/><rect x="1306" y="598" width="22" height="14" fill="#f16565"/><rect x="1328" y="598" width="21" height="14" fill="#f7a7a7"/><rect x="1349" y="598" width="22" height="14" fill="#eb1e1e"/><rect x="1371" y="598" width="21" height="14" fill="#f05959"/><rect x="1392" y="598" width="22" height="14" fill="#f16565"/><rect x="1414" y="598" width="21" height="14" fill="#9494f6"/><rect x="1435" y="598" width="22" height="14" fill="#facbcb"/><rect x="1457" y="598" width="21" height="14" fill="#dedefc"/><rect x="1478" y="598" width="22" height="14" fill="#dbdbfc"/><rect x="1500" y="598" width="21" height="14" fill="#e3e3fd"/><rect x="1521" y="598" width="22" height="14" fill="#eeeefe"/><rect x="1543" y="598" width="21" height="14" fill="#8484f5"/><rect x="1564" y="598" width="22" height="14" fill="#b8b8f9"/><rect x="1586" y="598" width="21" height="14" fill="#facbcb"/><rect x="1607" y="598" width="22" height="14" fill="#acacf8"/><rect x="1629" y="598" width="21" height="14" fill="#fffafa"/><rect x="1650" y="598" width="22" height="14" fill="#d7d7fc"/><rect x="1672" y="598" width="21" height="14" fill="#8888f6"/><rect x="1693" y="598" width="21" height="14" fill="#6565f3"/><rect x="1714" y="598" width="22" height="14" fill="#9090f6"/><rect x="1736" y="598" width="21" height="14" fill="#8484f5"/><rect x="1757" y="598" width="22" height="14" fill="#cbcbfb"/><rect x="1779" y="598" width="21" height="14" fill="#b8b8f9"/><rect x="1800" y="598" width="22" height="14" fill="#a0a0f7"/><rect x="1263" y="612" width="22" height="14" fill="#e3e3fd"/><rect x="1285" y="612" width="21" height="14" fill="#f59090"/><rect x="1306" y="612" width="22" height="14" fill="#ea1212"/><rect x="1328" y="612" width="21" height="14" fill="#f8b3b3"/><rect x="1349" y="612" width="22" height="14" fill="#f05959"/><rect x="1371" y="612" width="21" height="14" fill="#d7d7fc"/><rect x="1392" y="612" width="22" height="14" fill="#f9bfbf"/><rect x="1414" y="612" width="21" height="14" fill="#acacf8"/><rect x="1435" y="612" width="22" height="14" fill="#dbdbfc"/><rect x="1457" y="612" width="21" height="14" fill="#acacf8"/><rect x="1478" y="612" width="22" height="14" fill="#b3b3f9"/><rect x="1500" y="612" width="21" height="14" fill="#ea1212"/><rect x="1521" y="612" width="22" height="14" fill="#e3e3fd"/><rect x="1543" y="612" width="21" height="14" fill="#f9b8b8"/><rect x="1564" y="612" width="22" height="14" fill="#c4c4fa"/><rect x="1586" y="612" width="21" height="14" fill="#f7a7a7"/><rect x="1607" y="612" width="22" height="14" fill="#acacf8"/><rect x="1629" y="612" width="21" height="14" fill="#b8b8f9"/><rect x="1650" y="612" width="22" height="14" fill="#fef1f1"/><rect x="1672" y="612" width="21" height="14" fill="#a0a0f7"/><rect x="1693" y="612" width="21" height="14" fill="#a0a0f7"/><rect x="1714" y="612" width="22" height="14" fill="#a7a7f8"/><rect x="1736" y="612" width="21" height="14" fill="#9494f6"/><rect x="1757" y="612" width="22" height="14" fill="#9494f6"/><rect x="1779" y="612" width="21" height="14" fill="#9b9bf7"/><rect x="1800" y="612" width="22" height="14" fill="#a0a0f7"/><rect x="1263" y="626" width="22" height="14" fill="#f8f8fe"/><rect x="1285" y="626" width="21" height="14" fill="#f8b3b3"/><rect x="1306" y="626" width="22" height="14" fill="#ea1212"/><rect x="1328" y="626" width="21" height="14" fill="#acacf8"/><rect x="1349" y="626" width="22" height="14" fill="#ea1212"/><rect x="1371" y="626" width="21" height="14" fill="#f8b3b3"/><rect x="1392" y="626" width="22" height="14" fill="#ea1212"/><rect x="1414" y="626" width="21" height="14" fill="#fffafa"/><rect x="1435" y="626" width="22" height="14" fill="#fef6f6"/><rect x="1457" y="626" width="21" height="14" fill="#acacf8"/><rect x="1478" y="626" width="22" height="14" fill="#e3e3fd"/><rect x="1500" y="626" width="21" height="14" fill="#f8b3b3"/><rect x="1521" y="626" width="22" height="14" fill="#ffffff"/><rect x="1543" y="626" width="21" height="14" fill="#dbdbfc"/><rect x="1564" y="626" width="22" height="14" fill="#d7d7fc"/><rect x="1586" y="626" width="21" height="14" fill="#fbd7d7"/><rect x="1607" y="626" width="22" height="14" fill="#b8b8f9"/><rect x="1629" y="626" width="21" height="14" fill="#fef6f6"/><rect x="1650" y="626" width="22" height="14" fill="#f9bfbf"/><rect x="1672" y="626" width="21" height="14" fill="#8888f6"/><rect x="1693" y="626" width="21" height="14" fill="#7d7df5"/><rect x="1714" y="626" width="22" height="14" fill="#7878f4"/><rect x="1736" y="626" width="21" height="14" fill="#7878f4"/><rect x="1757" y="626" width="22" height="14" fill="#b8b8f9"/><rect x="1779" y="626" width="21" height="14" fill="#8888f6"/><rect x="1800" y="626" width="22" height="14" fill="#8888f6"/><rect x="1263" y="640" width="22" height="14" fill="#d0d0fb"/><rect x="1285" y="640" width="21" height="14" fill="#fbd0d0"/><rect x="1306" y="640" width="22" height="14" fill="#ea1212"/><rect x="1328" y="640" width="21" height="14" fill="#eeeefe"/><rect x="1349" y="640" width="22" height="14" fill="#ea1212"/><rect x="1371" y="640" width="21" height="14" fill="#f8b3b3"/><rect x="1392" y="640" width="22" height="14" fill="#f48888"/><rect x="1414" y="640" width="21" height="14" fill="#b3b3f9"/><rect x="1435" y="640" width="22" height="14" fill="#d0d0fb"/><rect x="1457" y="640" width="21" height="14" fill="#b3b3f9"/><rect x="1478" y="640" width="22" height="14" fill="#b8b8f9"/><rect x="1500" y="640" width="21" height="14" fill="#ee4141"/><rect x="1521" y="640" width="22" height="14" fill="#e3e3fd"/><rect x="1543" y="640" width="21" height="14" fill="#fffafa"/><rect x="1564" y="640" width="22" height="14" fill="#b8b8f9"/><rect x="1586" y="640" width="21" height="14" fill="#fffafa"/><rect x="1607" y="640" width="22" height="14" fill="#b8b8f9"/><rect x="1629" y="640" width="21" height="14" fill="#cbcbfb"/><rect x="1650" y="640" width="22" height="14" fill="#fbd7d7"/><rect x="1672" y="640" width="21" height="14" fill="#a0a0f7"/><rect x="1693" y="640" width="21" height="14" fill="#a7a7f8"/><rect x="1714" y="640" width="22" height="14" fill="#a0a0f7"/><rect x="1736" y="640" width="21" height="14" fill="#a7a7f8"/><rect x="1757" y="640" width="22" height="14" fill="#acacf8"/><rect x="1779" y="640" width="21" height="14" fill="#a7a7f8"/><rect x="1800" y="640" width="22" height="14" fill="#a7a7f8"/><rect x="1263" y="654" width="22" height="14" fill="#e7e7fd"/><rect x="1285" y="654" width="21" height="14" fill="#ea1212"/><rect x="1306" y="654" width="22" height="14" fill="#ea1212"/><rect x="1328" y="654" width="21" height="14" fill="#fce3e3"/><rect x="1349" y="654" width="22" height="14" fill="#ee3d3d"/><rect x="1371" y="654" width="21" height="14" fill="#ec2a2a"/><rect x="1392" y="654" width="22" height="14" fill="#f7a0a0"/><rect x="1414" y="654" width="21" height="14" fill="#9494f6"/><rect x="1435" y="654" width="22" height="14" fill="#dbdbfc"/><rect x="1457" y="654" width="21" height="14" fill="#e7e7fd"/><rect x="1478" y="654" width="22" height="14" fill="#b3b3f9"/><rect x="1500" y="654" width="21" height="14" fill="#f48888"/><rect x="1521" y="654" width="22" height="14" fill="#e3e3fd"/><rect x="1543" y="654" width="21" height="14" fill="#d7d7fc"/><rect x="1564" y="654" width="22" height="14" fill="#b8b8f9"/><rect x="1586" y="654" width="21" height="14" fill="#feeeee"/><rect x="1607" y="654" width="22" height="14" fill="#b3b3f9"/><rect x="1629" y="654" width="21" height="14" fill="#d7d7fc"/><rect x="1650" y="654" width="22" height="14" fill="#fcdbdb"/><rect x="1672" y="654" width="21" height="14" fill="#a0a0f7"/><rect x="1693" y="654" width="21" height="14" fill="#9494f6"/><rect x="1714" y="654" width="22" height="14" fill="#9494f6"/><rect x="1736" y="654" width="21" height="14" fill="#9b9bf7"/><rect x="1757" y="654" width="22" height="14" fill="#9494f6"/><rect x="1779" y="654" width="21" height="14" fill="#9494f6"/><rect x="1800" y="654" width="22" height="14" fill="#a0a0f7"/><rect x="1263" y="668" width="22" height="14" fill="#ececfd"/><rect x="1285" y="668" width="21" height="14" fill="#f16060"/><rect x="1306" y="668" width="22" height="14" fill="#ea1212"/><rect x="1328" y="668" width="21" height="14" fill="#f7a7a7"/><rect x="1349" y="668" width="22" height="14" fill="#eb1919"/><rect x="1371" y="668" width="21" height="14" fill="#f7a7a7"/><rect x="1392" y="668" width="22" height="14" fill="#f16565"/><rect x="1414" y="668" width="21" height="14" fill="#cbcbfb"/><rect x="1435" y="668" width="22" height="14" fill="#e3e3fd"/><rect x="1457" y="668" width="21" height="14" fill="#fbd0d0"/><rect x="1478" y="668" width="22" height="14" fill="#d7d7fc"/><rect x="1500" y="668" width="21" height="14" fill="#f7a7a7"/><rect x="1521" y="668" width="22" height="14" fill="#cbcbfb"/><rect x="1543" y="668" width="21" height="14" fill="#acacf8"/><rect x="1564" y="668" width="22" height="14" fill="#c4c4fa"/><rect x="1586" y="668" width="21" height="14" fill="#e7e7fd"/><rect x="1607" y="668" width="22" height="14" fill="#e3e3fd"/><rect x="1629" y="668" width="21" height="14" fill="#f1f1fe"/><rect x="1650" y="668" width="22" height="14" fill="#ececfd"/><rect x="1672" y="668" width="21" height="14" fill="#8484f5"/><rect x="1693" y="668" width="21" height="14" fill="#8888f6"/><rect x="1714" y="668" width="22" height="14" fill="#4d4df1"/><rect x="1736" y="668" width="21" height="14" fill="#7d7df5"/><rect x="1757" y="668" width="22" height="14" fill="#d7d7fc"/><rect x="1779" y="668" width="21" height="14" fill="#9494f6"/><rect x="1800" y="668" width="22" height="14" fill="#9494f6"/></g>
<text x="1822.2" y="84.7" font-size="12.5">ROIs</text>
<text x="1822.2" y="102.1" font-size="12.5">CD1A</text>
<text x="1822.2" y="116.2" font-size="12.5">CLEC9A</text>
<text x="1822.2" y="130.2" font-size="12.5">CD207</text>
<text x="1822.2" y="144.3" font-size="12.5">FSCN1</text>
<text x="1822.2" y="158.4" font-size="12.5">CD1C</text>
<text x="1822.2" y="172.4" font-size="12.5">CD1E</text>
<text x="1822.2" y="186.5" font-size="12.5">CCL22</text>
<text x="1822.2" y="200.5" font-size="12.5">CCL19</text>
<text x="1822.2" y="214.6" font-size="12.5">FLT3</text>
<text x="1822.2" y="228.7" font-size="12.5">CD300C</text>
<text x="1822.2" y="242.7" font-size="12.5">CPA3</text>
<text x="1822.2" y="256.8" font-size="12.5">NLRP3</text>
<text x="1822.2" y="270.8" font-size="12.5">XCR1</text>
<text x="1822.2" y="284.9" font-size="12.5">IL1RL1</text>
<text x="1822.2" y="299" font-size="12.5">BATF3</text>
<text x="1822.2" y="313" font-size="12.5">EBI3</text>
<text x="1822.2" y="327.1" font-size="12.5">CD1D</text>
<text x="1822.2" y="341.1" font-size="12.5">IDO1</text>
<text x="1822.2" y="355.2" font-size="12.5">GATA2</text>
<text x="1822.2" y="369.3" font-size="12.5">TPSAB1</text>
<text x="1822.2" y="383.3" font-size="12.5">IL3RA</text>
<text x="1822.2" y="397.4" font-size="12.5">CCL17</text>
<text x="1822.2" y="411.4" font-size="12.5">CLEC10A</text>
<text x="1822.2" y="425.5" font-size="12.5">HLA-DQA1</text>
<text x="1822.2" y="439.6" font-size="12.5">CSF1R</text>
<text x="1822.2" y="453.6" font-size="12.5">LILRB2</text>
<text x="1822.2" y="467.7" font-size="12.5">LYVE1</text>
<text x="1822.2" y="481.7" font-size="12.5">CXCL12</text>
<text x="1822.2" y="495.8" font-size="12.5">PDPN</text>
<text x="1822.2" y="509.9" font-size="12.5">TREM1</text>
<text x="1822.2" y="523.9" font-size="12.5">RNASE1</text>
<text x="1822.2" y="538" font-size="12.5">F13A1</text>
<text x="1822.2" y="552" font-size="12.5">VEGFA</text>
<text x="1822.2" y="566.1" font-size="12.5">THBS1</text>
<text x="1822.2" y="580.2" font-size="12.5">HLA-DPA1</text>
<text x="1822.2" y="594.2" font-size="12.5">MRC1</text>
<text x="1822.2" y="608.3" font-size="12.5">FOLR2</text>
<text x="1822.2" y="622.3" font-size="12.5">HLA-DQB1</text>
<text x="1822.2" y="636.4" font-size="12.5">TLR2</text>
<text x="1822.2" y="650.5" font-size="12.5">HLA-DRA</text>
<text x="1822.2" y="664.5" font-size="12.5">C1QA</text>
<text x="1822.2" y="678.6" font-size="12.5">SPI1</text>
<text transform="translate(1946.6,379) rotate(-90)" font-size="30" text-anchor="middle" font-weight="bold" textLength="227.5" lengthAdjust="spacingAndGlyphs">Myeloid signature</text>
<rect x="1960" y="612.8" width="17.5" height="118.8" fill="url(#gv)"/>
<text x="1984" y="631.8" font-size="19.8">2</text>
<text x="1984" y="679.6" font-size="19.8">0</text>
<text x="1983.7" y="729.6" font-size="19.8">-2</text>
<text transform="translate(1950.6,676.2) rotate(-90)" font-size="20.3" text-anchor="middle" textLength="70.5" lengthAdjust="spacingAndGlyphs">Z-score</text>
</g>
<g id="pd">
<text x="1197" y="733.5" font-size="46" font-weight="bold" transform="translate(1197 0) scale(0.9 1) translate(-1197 0)">d</text>
<text x="1342" y="735.9" font-size="32" font-weight="bold" textLength="58" lengthAdjust="spacingAndGlyphs">F(h)</text>
<text x="1596.2" y="735.9" font-size="32" font-weight="bold" textLength="48.2" lengthAdjust="spacingAndGlyphs">F(-)</text>
<g shape-rendering="crispEdges"><rect x="1272.8" y="744.3" width="30" height="24.1" fill="#802b00"/><rect x="1308.3" y="744.3" width="30" height="24.1" fill="#802b00"/><rect x="1343.9" y="744.3" width="30" height="24.1" fill="#802b00"/><rect x="1379.5" y="744.3" width="30" height="24.1" fill="#802b00"/><rect x="1415" y="744.3" width="30" height="24.1" fill="#802b00"/><rect x="1450.5" y="744.3" width="30" height="24.1" fill="#802b00"/><rect x="1486.1" y="744.3" width="30" height="24.1" fill="#008000"/><rect x="1521.6" y="744.3" width="30" height="24.1" fill="#008000"/><rect x="1557.2" y="744.3" width="30" height="24.1" fill="#008000"/><rect x="1592.8" y="744.3" width="30" height="24.1" fill="#008000"/><rect x="1628.3" y="744.3" width="30" height="24.1" fill="#008000"/><rect x="1663.9" y="744.3" width="29.9" height="24.1" fill="#008000"/><rect x="1699.4" y="744.3" width="30" height="24.1" fill="#008000"/><rect x="1735" y="744.3" width="30" height="24.1" fill="#008000"/></g>
<g shape-rendering="crispEdges"><rect x="1270" y="781" width="36" height="29" fill="#8484f5"/><rect x="1306" y="781" width="35" height="29" fill="#6060f2"/><rect x="1341" y="781" width="36" height="29" fill="#5454f1"/><rect x="1377" y="781" width="35" height="29" fill="#8484f5"/><rect x="1412" y="781" width="36" height="29" fill="#e3e3fd"/><rect x="1448" y="781" width="35" height="29" fill="#bfbffa"/><rect x="1483" y="781" width="36" height="29" fill="#fbd0d0"/><rect x="1519" y="781" width="35" height="29" fill="#f8acac"/><rect x="1554" y="781" width="36" height="29" fill="#fbd0d0"/><rect x="1590" y="781" width="36" height="29" fill="#fef3f3"/><rect x="1626" y="781" width="35" height="29" fill="#f16565"/><rect x="1661" y="781" width="36" height="29" fill="#ee4141"/><rect x="1697" y="781" width="35" height="29" fill="#f8acac"/><rect x="1732" y="781" width="36" height="29" fill="#facbcb"/><rect x="1270" y="810" width="36" height="29" fill="#fbd7d7"/><rect x="1306" y="810" width="35" height="29" fill="#9b9bf7"/><rect x="1341" y="810" width="36" height="29" fill="#4949f0"/><rect x="1377" y="810" width="35" height="29" fill="#1212ec"/><rect x="1412" y="810" width="36" height="29" fill="#bfbffa"/><rect x="1448" y="810" width="35" height="29" fill="#fffafa"/><rect x="1483" y="810" width="36" height="29" fill="#f9b8b8"/><rect x="1519" y="810" width="35" height="29" fill="#f69494"/><rect x="1554" y="810" width="36" height="29" fill="#e3e3fd"/><rect x="1590" y="810" width="36" height="29" fill="#f48888"/><rect x="1626" y="810" width="35" height="29" fill="#fffafa"/><rect x="1661" y="810" width="36" height="29" fill="#f48888"/><rect x="1697" y="810" width="35" height="29" fill="#f27171"/><rect x="1732" y="810" width="36" height="29" fill="#fef8f8"/><rect x="1270" y="839" width="36" height="30" fill="#f9bfbf"/><rect x="1306" y="839" width="35" height="30" fill="#d7d7fc"/><rect x="1341" y="839" width="36" height="30" fill="#3636ef"/><rect x="1377" y="839" width="35" height="30" fill="#1212ec"/><rect x="1412" y="839" width="36" height="30" fill="#bfbffa"/><rect x="1448" y="839" width="35" height="30" fill="#b3b3f9"/><rect x="1483" y="839" width="36" height="30" fill="#f8acac"/><rect x="1519" y="839" width="35" height="30" fill="#f69b9b"/><rect x="1554" y="839" width="36" height="30" fill="#fbd7d7"/><rect x="1590" y="839" width="36" height="30" fill="#d7d7fc"/><rect x="1626" y="839" width="35" height="30" fill="#f27171"/><rect x="1661" y="839" width="36" height="30" fill="#f8b3b3"/><rect x="1697" y="839" width="35" height="30" fill="#f37d7d"/><rect x="1732" y="839" width="36" height="30" fill="#fde7e7"/><rect x="1270" y="869" width="36" height="29" fill="#d0d0fb"/><rect x="1306" y="869" width="35" height="29" fill="#6565f3"/><rect x="1341" y="869" width="36" height="29" fill="#6c6cf3"/><rect x="1377" y="869" width="35" height="29" fill="#4d4df1"/><rect x="1412" y="869" width="36" height="29" fill="#acacf8"/><rect x="1448" y="869" width="35" height="29" fill="#b3b3f9"/><rect x="1483" y="869" width="36" height="29" fill="#f05959"/><rect x="1519" y="869" width="35" height="29" fill="#f69b9b"/><rect x="1554" y="869" width="36" height="29" fill="#f16565"/><rect x="1590" y="869" width="36" height="29" fill="#feeeee"/><rect x="1626" y="869" width="35" height="29" fill="#fcdbdb"/><rect x="1661" y="869" width="36" height="29" fill="#f48888"/><rect x="1697" y="869" width="35" height="29" fill="#fef1f1"/><rect x="1732" y="869" width="36" height="29" fill="#f9bfbf"/><rect x="1270" y="898" width="36" height="30" fill="#ffffff"/><rect x="1306" y="898" width="35" height="30" fill="#cbcbfb"/><rect x="1341" y="898" width="36" height="30" fill="#9494f6"/><rect x="1377" y="898" width="35" height="30" fill="#1212ec"/><rect x="1412" y="898" width="36" height="30" fill="#4949f0"/><rect x="1448" y="898" width="35" height="30" fill="#e3e3fd"/><rect x="1483" y="898" width="36" height="30" fill="#fce3e3"/><rect x="1519" y="898" width="35" height="30" fill="#fbd7d7"/><rect x="1554" y="898" width="36" height="30" fill="#f27171"/><rect x="1590" y="898" width="36" height="30" fill="#f9b8b8"/><rect x="1626" y="898" width="35" height="30" fill="#fbd0d0"/><rect x="1661" y="898" width="36" height="30" fill="#f69494"/><rect x="1697" y="898" width="35" height="30" fill="#f7a7a7"/><rect x="1732" y="898" width="36" height="30" fill="#f7a0a0"/><rect x="1270" y="928" width="36" height="29" fill="#fffafa"/><rect x="1306" y="928" width="35" height="29" fill="#1212ec"/><rect x="1341" y="928" width="36" height="29" fill="#dedefc"/><rect x="1377" y="928" width="35" height="29" fill="#5959f2"/><rect x="1412" y="928" width="36" height="29" fill="#8484f5"/><rect x="1448" y="928" width="35" height="29" fill="#f3f3fe"/><rect x="1483" y="928" width="36" height="29" fill="#e3e3fd"/><rect x="1519" y="928" width="35" height="29" fill="#f7a0a0"/><rect x="1554" y="928" width="36" height="29" fill="#dbdbfc"/><rect x="1590" y="928" width="36" height="29" fill="#f7a0a0"/><rect x="1626" y="928" width="35" height="29" fill="#f16565"/><rect x="1661" y="928" width="36" height="29" fill="#f37878"/><rect x="1697" y="928" width="35" height="29" fill="#f8b3b3"/><rect x="1732" y="928" width="36" height="29" fill="#f8b3b3"/><rect x="1270" y="957" width="36" height="29" fill="#c4c4fa"/><rect x="1306" y="957" width="35" height="29" fill="#dbdbfc"/><rect x="1341" y="957" width="36" height="29" fill="#d0d0fb"/><rect x="1377" y="957" width="35" height="29" fill="#1212ec"/><rect x="1412" y="957" width="36" height="29" fill="#5959f2"/><rect x="1448" y="957" width="35" height="29" fill="#feeeee"/><rect x="1483" y="957" width="36" height="29" fill="#f7a7a7"/><rect x="1519" y="957" width="35" height="29" fill="#f69b9b"/><rect x="1554" y="957" width="36" height="29" fill="#c4c4fa"/><rect x="1590" y="957" width="36" height="29" fill="#f7a0a0"/><rect x="1626" y="957" width="35" height="29" fill="#fbd0d0"/><rect x="1661" y="957" width="36" height="29" fill="#f27171"/><rect x="1697" y="957" width="35" height="29" fill="#f27171"/><rect x="1732" y="957" width="36" height="29" fill="#feeeee"/><rect x="1270" y="986" width="36" height="30" fill="#b8b8f9"/><rect x="1306" y="986" width="35" height="30" fill="#3636ef"/><rect x="1341" y="986" width="36" height="30" fill="#6c6cf3"/><rect x="1377" y="986" width="35" height="30" fill="#fafaff"/><rect x="1412" y="986" width="36" height="30" fill="#6c6cf3"/><rect x="1448" y="986" width="35" height="30" fill="#fde7e7"/><rect x="1483" y="986" width="36" height="30" fill="#c4c4fa"/><rect x="1519" y="986" width="35" height="30" fill="#f48888"/><rect x="1554" y="986" width="36" height="30" fill="#ececfd"/><rect x="1590" y="986" width="36" height="30" fill="#eeeefe"/><rect x="1626" y="986" width="35" height="30" fill="#f05959"/><rect x="1661" y="986" width="36" height="30" fill="#f26c6c"/><rect x="1697" y="986" width="35" height="30" fill="#f16060"/><rect x="1732" y="986" width="36" height="30" fill="#fac4c4"/><rect x="1270" y="1016" width="36" height="29" fill="#b3b3f9"/><rect x="1306" y="1016" width="35" height="29" fill="#a0a0f7"/><rect x="1341" y="1016" width="36" height="29" fill="#5454f1"/><rect x="1377" y="1016" width="35" height="29" fill="#dedefc"/><rect x="1412" y="1016" width="36" height="29" fill="#6060f2"/><rect x="1448" y="1016" width="35" height="29" fill="#fffafa"/><rect x="1483" y="1016" width="36" height="29" fill="#f8acac"/><rect x="1519" y="1016" width="35" height="29" fill="#fbd7d7"/><rect x="1554" y="1016" width="36" height="29" fill="#b8b8f9"/><rect x="1590" y="1016" width="36" height="29" fill="#f7a0a0"/><rect x="1626" y="1016" width="35" height="29" fill="#f05454"/><rect x="1661" y="1016" width="36" height="29" fill="#f69b9b"/><rect x="1697" y="1016" width="35" height="29" fill="#ed3131"/><rect x="1732" y="1016" width="36" height="29" fill="#c4c4fa"/><rect x="1270" y="1045" width="36" height="30" fill="#fcdbdb"/><rect x="1306" y="1045" width="35" height="30" fill="#a0a0f7"/><rect x="1341" y="1045" width="36" height="30" fill="#a0a0f7"/><rect x="1377" y="1045" width="35" height="30" fill="#4949f0"/><rect x="1412" y="1045" width="36" height="30" fill="#9090f6"/><rect x="1448" y="1045" width="35" height="30" fill="#fbd0d0"/><rect x="1483" y="1045" width="36" height="30" fill="#f8b3b3"/><rect x="1519" y="1045" width="35" height="30" fill="#facbcb"/><rect x="1554" y="1045" width="36" height="30" fill="#9b9bf7"/><rect x="1590" y="1045" width="36" height="30" fill="#ffffff"/><rect x="1626" y="1045" width="35" height="30" fill="#f16565"/><rect x="1661" y="1045" width="36" height="30" fill="#feeeee"/><rect x="1697" y="1045" width="35" height="30" fill="#ea1212"/><rect x="1732" y="1045" width="36" height="30" fill="#e3e3fd"/><rect x="1270" y="1075" width="36" height="29" fill="#fffdfd"/><rect x="1306" y="1075" width="35" height="29" fill="#a7a7f8"/><rect x="1341" y="1075" width="36" height="29" fill="#acacf8"/><rect x="1377" y="1075" width="35" height="29" fill="#8888f6"/><rect x="1412" y="1075" width="36" height="29" fill="#9090f6"/><rect x="1448" y="1075" width="35" height="29" fill="#dbdbfc"/><rect x="1483" y="1075" width="36" height="29" fill="#fbd0d0"/><rect x="1519" y="1075" width="35" height="29" fill="#f9b8b8"/><rect x="1554" y="1075" width="36" height="29" fill="#a0a0f7"/><rect x="1590" y="1075" width="36" height="29" fill="#bfbffa"/><rect x="1626" y="1075" width="35" height="29" fill="#ea1212"/><rect x="1661" y="1075" width="36" height="29" fill="#dedefc"/><rect x="1697" y="1075" width="35" height="29" fill="#ed3636"/><rect x="1732" y="1075" width="36" height="29" fill="#f8b3b3"/><rect x="1270" y="1104" width="36" height="29" fill="#f27171"/><rect x="1306" y="1104" width="35" height="29" fill="#dbdbfc"/><rect x="1341" y="1104" width="36" height="29" fill="#1212ec"/><rect x="1377" y="1104" width="35" height="29" fill="#eeeefe"/><rect x="1412" y="1104" width="36" height="29" fill="#8484f5"/><rect x="1448" y="1104" width="35" height="29" fill="#acacf8"/><rect x="1483" y="1104" width="36" height="29" fill="#cbcbfb"/><rect x="1519" y="1104" width="35" height="29" fill="#f8acac"/><rect x="1554" y="1104" width="36" height="29" fill="#f7a0a0"/><rect x="1590" y="1104" width="36" height="29" fill="#f69494"/><rect x="1626" y="1104" width="35" height="29" fill="#f9b8b8"/><rect x="1661" y="1104" width="36" height="29" fill="#f8acac"/><rect x="1697" y="1104" width="35" height="29" fill="#ececfd"/><rect x="1732" y="1104" width="36" height="29" fill="#fbd0d0"/><rect x="1270" y="1133" width="36" height="30" fill="#a7a7f8"/><rect x="1306" y="1133" width="35" height="30" fill="#a7a7f8"/><rect x="1341" y="1133" width="36" height="30" fill="#1e1eed"/><rect x="1377" y="1133" width="35" height="30" fill="#4949f0"/><rect x="1412" y="1133" width="36" height="30" fill="#fbd0d0"/><rect x="1448" y="1133" width="35" height="30" fill="#f8acac"/><rect x="1483" y="1133" width="36" height="30" fill="#f27171"/><rect x="1519" y="1133" width="35" height="30" fill="#f27171"/><rect x="1554" y="1133" width="36" height="30" fill="#e3e3fd"/><rect x="1590" y="1133" width="36" height="30" fill="#f69494"/><rect x="1626" y="1133" width="35" height="30" fill="#e3e3fd"/><rect x="1661" y="1133" width="36" height="30" fill="#fcdbdb"/><rect x="1697" y="1133" width="35" height="30" fill="#ececfd"/><rect x="1732" y="1133" width="36" height="30" fill="#f69494"/><rect x="1270" y="1163" width="36" height="29" fill="#dedefc"/><rect x="1306" y="1163" width="35" height="29" fill="#9090f6"/><rect x="1341" y="1163" width="36" height="29" fill="#f7a0a0"/><rect x="1377" y="1163" width="35" height="29" fill="#1212ec"/><rect x="1412" y="1163" width="36" height="29" fill="#7d7df5"/><rect x="1448" y="1163" width="35" height="29" fill="#fef1f1"/><rect x="1483" y="1163" width="36" height="29" fill="#f7a7a7"/><rect x="1519" y="1163" width="35" height="29" fill="#f48888"/><rect x="1554" y="1163" width="36" height="29" fill="#f8f8fe"/><rect x="1590" y="1163" width="36" height="29" fill="#f8b3b3"/><rect x="1626" y="1163" width="35" height="29" fill="#f7a7a7"/><rect x="1661" y="1163" width="36" height="29" fill="#f59090"/><rect x="1697" y="1163" width="35" height="29" fill="#fef6f6"/><rect x="1732" y="1163" width="36" height="29" fill="#f1f1fe"/><rect x="1270" y="1192" width="36" height="30" fill="#8484f5"/><rect x="1306" y="1192" width="35" height="30" fill="#8484f5"/><rect x="1341" y="1192" width="36" height="30" fill="#8484f5"/><rect x="1377" y="1192" width="35" height="30" fill="#8484f5"/><rect x="1412" y="1192" width="36" height="30" fill="#f37d7d"/><rect x="1448" y="1192" width="35" height="30" fill="#9b9bf7"/><rect x="1483" y="1192" width="36" height="30" fill="#ee4141"/><rect x="1519" y="1192" width="35" height="30" fill="#facbcb"/><rect x="1554" y="1192" width="36" height="30" fill="#ef4d4d"/><rect x="1590" y="1192" width="36" height="30" fill="#9b9bf7"/><rect x="1626" y="1192" width="35" height="30" fill="#ececfd"/><rect x="1661" y="1192" width="36" height="30" fill="#fcdbdb"/><rect x="1697" y="1192" width="35" height="30" fill="#f8b3b3"/><rect x="1732" y="1192" width="36" height="30" fill="#fbd7d7"/><rect x="1270" y="1222" width="36" height="29" fill="#f69b9b"/><rect x="1306" y="1222" width="35" height="29" fill="#facbcb"/><rect x="1341" y="1222" width="36" height="29" fill="#ec2a2a"/><rect x="1377" y="1222" width="35" height="29" fill="#cbcbfb"/><rect x="1412" y="1222" width="36" height="29" fill="#e7e7fd"/><rect x="1448" y="1222" width="35" height="29" fill="#ea1212"/><rect x="1483" y="1222" width="36" height="29" fill="#9b9bf7"/><rect x="1519" y="1222" width="35" height="29" fill="#b8b8f9"/><rect x="1554" y="1222" width="36" height="29" fill="#7d7df5"/><rect x="1590" y="1222" width="36" height="29" fill="#fbd7d7"/><rect x="1626" y="1222" width="35" height="29" fill="#acacf8"/><rect x="1661" y="1222" width="36" height="29" fill="#a0a0f7"/><rect x="1697" y="1222" width="35" height="29" fill="#bfbffa"/><rect x="1732" y="1222" width="36" height="29" fill="#dbdbfc"/><rect x="1270" y="1251" width="36" height="29" fill="#cbcbfb"/><rect x="1306" y="1251" width="35" height="29" fill="#f8b3b3"/><rect x="1341" y="1251" width="36" height="29" fill="#ea1212"/><rect x="1377" y="1251" width="35" height="29" fill="#9090f6"/><rect x="1412" y="1251" width="36" height="29" fill="#f27171"/><rect x="1448" y="1251" width="35" height="29" fill="#f27171"/><rect x="1483" y="1251" width="36" height="29" fill="#f8b3b3"/><rect x="1519" y="1251" width="35" height="29" fill="#d0d0fb"/><rect x="1554" y="1251" width="36" height="29" fill="#a7a7f8"/><rect x="1590" y="1251" width="36" height="29" fill="#8888f6"/><rect x="1626" y="1251" width="35" height="29" fill="#fef1f1"/><rect x="1661" y="1251" width="36" height="29" fill="#7878f4"/><rect x="1697" y="1251" width="35" height="29" fill="#c4c4fa"/><rect x="1732" y="1251" width="36" height="29" fill="#d0d0fb"/><rect x="1270" y="1280" width="36" height="30" fill="#fac4c4"/><rect x="1306" y="1280" width="35" height="30" fill="#f37d7d"/><rect x="1341" y="1280" width="36" height="30" fill="#fdecec"/><rect x="1377" y="1280" width="35" height="30" fill="#fce3e3"/><rect x="1412" y="1280" width="36" height="30" fill="#f26c6c"/><rect x="1448" y="1280" width="35" height="30" fill="#f16565"/><rect x="1483" y="1280" width="36" height="30" fill="#facbcb"/><rect x="1519" y="1280" width="35" height="30" fill="#8484f5"/><rect x="1554" y="1280" width="36" height="30" fill="#9b9bf7"/><rect x="1590" y="1280" width="36" height="30" fill="#e3e3fd"/><rect x="1626" y="1280" width="35" height="30" fill="#f48484"/><rect x="1661" y="1280" width="36" height="30" fill="#3636ef"/><rect x="1697" y="1280" width="35" height="30" fill="#acacf8"/><rect x="1732" y="1280" width="36" height="30" fill="#7171f4"/><rect x="1270" y="1310" width="36" height="29" fill="#f7a0a0"/><rect x="1306" y="1310" width="35" height="29" fill="#f26c6c"/><rect x="1341" y="1310" width="36" height="29" fill="#f05959"/><rect x="1377" y="1310" width="35" height="29" fill="#9494f6"/><rect x="1412" y="1310" width="36" height="29" fill="#f27171"/><rect x="1448" y="1310" width="35" height="29" fill="#ef4d4d"/><rect x="1483" y="1310" width="36" height="29" fill="#dbdbfc"/><rect x="1519" y="1310" width="35" height="29" fill="#dbdbfc"/><rect x="1554" y="1310" width="36" height="29" fill="#7d7df5"/><rect x="1590" y="1310" width="36" height="29" fill="#7d7df5"/><rect x="1626" y="1310" width="35" height="29" fill="#e3e3fd"/><rect x="1661" y="1310" width="36" height="29" fill="#9b9bf7"/><rect x="1697" y="1310" width="35" height="29" fill="#eeeefe"/><rect x="1732" y="1310" width="36" height="29" fill="#9494f6"/><rect x="1270" y="1339" width="36" height="30" fill="#c4c4fa"/><rect x="1306" y="1339" width="35" height="30" fill="#f48888"/><rect x="1341" y="1339" width="36" height="30" fill="#f48484"/><rect x="1377" y="1339" width="35" height="30" fill="#e3e3fd"/><rect x="1412" y="1339" width="36" height="30" fill="#ea1212"/><rect x="1448" y="1339" width="35" height="30" fill="#f9b8b8"/><rect x="1483" y="1339" width="36" height="30" fill="#f9b8b8"/><rect x="1519" y="1339" width="35" height="30" fill="#9494f6"/><rect x="1554" y="1339" width="36" height="30" fill="#d0d0fb"/><rect x="1590" y="1339" width="36" height="30" fill="#9090f6"/><rect x="1626" y="1339" width="35" height="30" fill="#c4c4fa"/><rect x="1661" y="1339" width="36" height="30" fill="#9090f6"/><rect x="1697" y="1339" width="35" height="30" fill="#a0a0f7"/><rect x="1732" y="1339" width="36" height="30" fill="#dedefc"/><rect x="1270" y="1369" width="36" height="29" fill="#dedefc"/><rect x="1306" y="1369" width="35" height="29" fill="#fce3e3"/><rect x="1341" y="1369" width="36" height="29" fill="#ea1212"/><rect x="1377" y="1369" width="35" height="29" fill="#ee4141"/><rect x="1412" y="1369" width="36" height="29" fill="#f6f6fe"/><rect x="1448" y="1369" width="35" height="29" fill="#f69b9b"/><rect x="1483" y="1369" width="36" height="29" fill="#a0a0f7"/><rect x="1519" y="1369" width="35" height="29" fill="#acacf8"/><rect x="1554" y="1369" width="36" height="29" fill="#eeeefe"/><rect x="1590" y="1369" width="36" height="29" fill="#acacf8"/><rect x="1626" y="1369" width="35" height="29" fill="#acacf8"/><rect x="1661" y="1369" width="36" height="29" fill="#b3b3f9"/><rect x="1697" y="1369" width="35" height="29" fill="#a0a0f7"/><rect x="1732" y="1369" width="36" height="29" fill="#e3e3fd"/></g>
<text x="1769.6" y="766.5" font-size="26">ROIs</text>
<text x="1769.4" y="802.9" font-size="26">SNCA</text>
<text x="1769.4" y="832.3" font-size="26">TTBK1</text>
<text x="1769.4" y="861.7" font-size="26">IL33</text>
<text x="1769.4" y="891.1" font-size="26">MAPT</text>
<text x="1769.4" y="920.5" font-size="26">RLBP1</text>
<text x="1769.4" y="949.9" font-size="26">TRPV1</text>
<text x="1769.4" y="979.3" font-size="26">TLR8</text>
<text x="1769.4" y="1008.7" font-size="26">STAP1</text>
<text x="1769.4" y="1038.1" font-size="26">TMEM119</text>
<text x="1769.4" y="1067.5" font-size="26">CX3CR1</text>
<text x="1769.4" y="1096.9" font-size="26">P2RY12</text>
<text x="1769.4" y="1126.3" font-size="26">SH3BP1</text>
<text x="1769.4" y="1155.7" font-size="26">IL13</text>
<text x="1769.4" y="1185.1" font-size="26">FPR2</text>
<text x="1769.4" y="1214.5" font-size="26">CLU</text>
<text x="1769.4" y="1243.9" font-size="26">BIRC3</text>
<text x="1769.4" y="1273.3" font-size="26">ITGB2</text>
<text x="1769.4" y="1302.7" font-size="26">HCLS1</text>
<text x="1769.4" y="1332.1" font-size="26">AIF1</text>
<text x="1769.4" y="1361.5" font-size="26">CD68</text>
<text x="1769.4" y="1390.9" font-size="26">PTPN1</text>
<text transform="translate(1923.9,1069.8) rotate(-90)" font-size="29.3" text-anchor="middle" font-weight="bold" textLength="117" lengthAdjust="spacingAndGlyphs">Microglia</text>
</g>
<text x="-1.5" y="526" font-size="46" font-weight="bold" transform="translate(-1.5 0) scale(0.88 1) translate(1.5 0)">b</text>
<text x="-1.5" y="1476.3" font-size="46" font-weight="bold" transform="translate(-1.5 0) scale(0.92 1) translate(1.5 0)">e</text>
<g><path d="M239.4 575.1C239.4 585.2 240.1 595.3 241.4 605.4C242.1 610.4 247.1 615.5 248.2 620.5C249.3 625.1 250.4 629.6 250.4 634.2C250.4 639.7 248.5 645.3 248.5 650.8C248.5 655.8 249.5 660.9 250.1 665.9C250.7 671 251.4 676 252.3 681.1C253.3 686.1 254.5 691.2 256.1 696.2C257.7 701.2 261.3 706.3 262.9 711.3C263.9 714.4 264.8 717.4 265.2 720.4C265.7 724.4 266.3 728.5 266.3 732.5C266.3 738.1 265 743.6 263.7 749.2C262.5 754.2 259.6 759.3 256.9 764.3C254.2 769.3 250.1 774.4 247 779.4C244.9 783 241.7 786.5 241 790C240.1 794.1 239.5 798.1 239.5 802.1C239.4 807.6 239.4 813 239.4 818.4C239.4 813 239.4 807.6 239.3 802.1C239.3 798.1 238.7 794.1 237.8 790C237.1 786.5 233.9 783 231.8 779.4C228.7 774.4 224.6 769.3 221.9 764.3C219.2 759.3 216.3 754.2 215.1 749.2C213.8 743.6 212.5 738.1 212.5 732.5C212.5 728.5 213.1 724.4 213.6 720.4C214 717.4 214.9 714.4 215.9 711.3C217.5 706.3 221.1 701.2 222.7 696.2C224.3 691.2 225.5 686.1 226.5 681.1C227.4 676 228.1 671 228.7 665.9C229.3 660.9 230.3 655.8 230.3 650.8C230.3 645.3 228.4 639.7 228.4 634.2C228.4 629.6 229.5 625.1 230.6 620.5C231.7 615.5 236.7 610.4 237.4 605.4C238.7 595.3 239.4 585.2 239.4 575.1Z" fill="#93611f" stroke="#000" stroke-width="4.4" stroke-linejoin="round" stroke-linecap="round"/><path d="M213.6 720.1H265.2" stroke="#000" stroke-width="1.1" stroke-opacity="0.85"/><path d="M232.1 667.4H246.7" stroke="#000" stroke-width="1" stroke-dasharray="1.2 2.6" stroke-opacity="0.8"/><path d="M218.4 748.4H260.4" stroke="#000" stroke-width="1" stroke-dasharray="1.2 2.6" stroke-opacity="0.8"/><circle cx="239.4" cy="634.2" r="3.5"/><circle cx="239.4" cy="678.5" r="3.5"/><circle cx="239.4" cy="714.7" r="3.5"/><circle cx="239.4" cy="726.2" r="3.5"/><circle cx="239.4" cy="744.2" r="3.5"/><circle cx="239.4" cy="760.5" r="3.5"/><path d="M326.9 718.1C326.9 720.4 327.1 722.7 327.4 725C327.6 726.5 329.3 728 330.5 729.5C332 731.5 335.9 733.5 335.9 735.5C335.9 737.6 332.5 739.6 331.1 741.6C329.6 743.6 327 745.6 327 747.7C327 752.7 327 757.7 327 762.8C327 764.6 331.4 766.3 334.1 768.1C337.5 770.4 344.4 772.6 346.2 774.9C348.2 777.4 348.8 779.9 350 782.5C351.3 785.5 353.6 788.5 353.6 791.5C353.6 794.1 352.7 796.6 351.5 799.1C350.5 801.1 343.9 803.1 340.1 805.2C336.4 807.2 330.3 809.2 328.9 811.2C327.9 812.7 327 814.2 327 815.8C326.9 816.6 326.9 817.5 326.9 818.4C326.9 817.5 326.9 816.6 326.8 815.8C326.8 814.2 325.9 812.7 324.9 811.2C323.5 809.2 317.4 807.2 313.7 805.2C309.9 803.1 303.3 801.1 302.3 799.1C301.1 796.6 300.2 794.1 300.2 791.5C300.2 788.5 302.5 785.5 303.8 782.5C305 779.9 305.6 777.4 307.6 774.9C309.4 772.6 316.3 770.4 319.7 768.1C322.4 766.3 326.8 764.6 326.8 762.8C326.8 757.7 326.8 752.7 326.8 747.7C326.8 745.6 324.2 743.6 322.7 741.6C321.3 739.6 317.9 737.6 317.9 735.5C317.9 733.5 321.8 731.5 323.3 729.5C324.5 728 326.2 726.5 326.4 725C326.7 722.7 326.9 720.4 326.9 718.1Z" fill="#00be00" stroke="#000" stroke-width="4.4" stroke-linejoin="round" stroke-linecap="round"/><path d="M301.5 787H352.3" stroke="#000" stroke-width="1.1" stroke-opacity="0.85"/><path d="M309.9 776.7H343.9" stroke="#000" stroke-width="1" stroke-dasharray="1.2 2.6" stroke-opacity="0.8"/><path d="M304.5 796.1H349.3" stroke="#000" stroke-width="1" stroke-dasharray="1.2 2.6" stroke-opacity="0.8"/><circle cx="326.9" cy="735.5" r="3.5"/><circle cx="321.1" cy="776.7" r="3.5"/><circle cx="333.3" cy="776.7" r="3.5"/><circle cx="321.1" cy="787" r="3.5"/><circle cx="333.3" cy="787" r="3.5"/><circle cx="321.1" cy="794.3" r="3.5"/><circle cx="333.3" cy="796.8" r="3.5"/><circle cx="321.1" cy="801.4" r="3.5"/><path d="M181.3 512.7V822M167.9 820.5H387.3M167.9 514.2H181.3M167.9 616.3H181.3M167.9 718.4H181.3M239.3 820.5V833.7M327 820.5V833.7" stroke="#000" stroke-width="3" fill="none"/><text x="165" y="522.8" font-size="23.6" text-anchor="end" font-weight="bold" textLength="50.5" lengthAdjust="spacingAndGlyphs">1500</text><text x="165" y="624.9" font-size="23.6" text-anchor="end" font-weight="bold" textLength="50.5" lengthAdjust="spacingAndGlyphs">1000</text><text x="165" y="727" font-size="23.6" text-anchor="end" font-weight="bold" textLength="37.9" lengthAdjust="spacingAndGlyphs">500</text><text x="165" y="829.1" font-size="23.6" text-anchor="end" font-weight="bold" textLength="12.6" lengthAdjust="spacingAndGlyphs">0</text><text x="239.3" y="858.5" font-size="23.8" text-anchor="middle" font-weight="bold" textLength="44" lengthAdjust="spacingAndGlyphs">F(h)</text><text x="327" y="858.5" font-size="23.8" text-anchor="middle" font-weight="bold" textLength="37.5" lengthAdjust="spacingAndGlyphs">F(-)</text><text x="284.8" y="525" font-size="25.4" text-anchor="middle" font-weight="bold" textLength="76.6" lengthAdjust="spacingAndGlyphs">CD163</text><text x="347.8" y="561.8" font-size="26.3" textLength="126" lengthAdjust="spacingAndGlyphs">p**=0.0027</text><text transform="translate(95.2,667.3) rotate(-90)" font-size="25.7" text-anchor="middle" font-weight="bold" textLength="166.7" lengthAdjust="spacingAndGlyphs">mRNA counts</text></g>
<g><path d="M677.9 549.8C677.9 553.1 678.1 556.4 678.4 559.7C678.7 562.2 681.1 564.7 682.1 567.2C683.3 570.3 685.1 573.3 685.1 576.3C685.1 579.3 683 582.4 681.8 585.4C680.7 587.9 678.7 590.4 678.4 593C678.2 595.5 678 598 678 600.5C678 604.1 678 607.6 678 611.1C678 613.6 679.6 616.2 681 618.7C682.7 621.7 686.7 624.7 690.1 627.8C693.4 630.8 699.1 633.8 701.4 636.9C703 638.9 704.9 640.9 704.9 642.9C704.9 644.9 703.6 646.9 702.2 649C700.4 651.5 693.1 654 689.3 656.5C686.3 658.5 682.4 660.6 681 662.6C679.6 664.6 678.2 666.6 678.1 668.6C678 670.9 677.9 673.2 677.9 675.5C677.9 673.2 677.8 670.9 677.7 668.6C677.6 666.6 676.2 664.6 674.8 662.6C673.4 660.6 669.5 658.5 666.5 656.5C662.7 654 655.4 651.5 653.6 649C652.2 646.9 650.9 644.9 650.9 642.9C650.9 640.9 652.8 638.9 654.4 636.9C656.7 633.8 662.4 630.8 665.7 627.8C669.1 624.7 673.1 621.7 674.8 618.7C676.2 616.2 677.8 613.6 677.8 611.1C677.8 607.6 677.8 604.1 677.8 600.5C677.8 598 677.6 595.5 677.4 593C677.1 590.4 675.1 587.9 674 585.4C672.8 582.4 670.7 579.3 670.7 576.3C670.7 573.3 672.5 570.3 673.7 567.2C674.7 564.7 677.1 562.2 677.4 559.7C677.7 556.4 677.9 553.1 677.9 549.8Z" fill="#93611f" stroke="#000" stroke-width="4.4" stroke-linejoin="round" stroke-linecap="round"/><path d="M651.4 641.1H704.4" stroke="#000" stroke-width="1.1" stroke-opacity="0.85"/><path d="M654.9 645.2H700.9" stroke="#000" stroke-width="1" stroke-dasharray="1.2 2.6" stroke-opacity="0.8"/><circle cx="677.9" cy="576.3" r="3.5"/><circle cx="677.9" cy="631.3" r="3.5"/><circle cx="665.5" cy="639.1" r="3.5"/><circle cx="677.9" cy="644.9" r="3.5"/><circle cx="690.3" cy="644.9" r="3.5"/><circle cx="665.5" cy="648.7" r="3.5"/><path d="M766 675.4C766 677.7 766.3 680 766.8 682.3C767.2 684 771.1 685.8 772.1 687.5C773 689.1 774.1 690.6 774.1 692.1C774.1 693.9 771.4 695.6 771.4 697.4C771.4 698.9 772 700.4 772.9 701.9C773.7 703.4 779.1 705 782 706.5C784.9 708 788.7 709.5 790.3 711C791.5 712.1 792.9 713.2 792.9 714.3C792.9 715.7 790.5 717.2 788.8 718.6C786.6 720.3 779.4 722.1 778.9 723.9C778.5 725.6 778.2 727.4 778.2 729.2C778.2 731.2 781.2 733.2 781.2 735.2C781.2 736.7 779.6 738.2 778.2 739.8C776.7 741.3 772.4 742.8 770.6 744.3C768.8 745.8 766.8 747.3 766.5 748.8C766.2 750.6 766 752.4 766 754.2C766 752.4 765.8 750.6 765.5 748.8C765.2 747.3 763.2 745.8 761.4 744.3C759.6 742.8 755.3 741.3 753.8 739.8C752.4 738.2 750.8 736.7 750.8 735.2C750.8 733.2 753.8 731.2 753.8 729.2C753.8 727.4 753.5 725.6 753.1 723.9C752.6 722.1 745.4 720.3 743.2 718.6C741.5 717.2 739.1 715.7 739.1 714.3C739.1 713.2 740.5 712.1 741.7 711C743.3 709.5 747.1 708 750 706.5C752.9 705 758.3 703.4 759.1 701.9C760 700.4 760.6 698.9 760.6 697.4C760.6 695.6 757.9 693.9 757.9 692.1C757.9 690.6 759 689.1 759.9 687.5C760.9 685.8 764.8 684 765.2 682.3C765.7 680 766 677.7 766 675.4Z" fill="#00be00" stroke="#000" stroke-width="4.4" stroke-linejoin="round" stroke-linecap="round"/><path d="M740.4 716.3H791.6" stroke="#000" stroke-width="1.1" stroke-opacity="0.85"/><path d="M748 709.2H784" stroke="#000" stroke-width="1" stroke-dasharray="1.2 2.6" stroke-opacity="0.8"/><path d="M756.7 731H775.3" stroke="#000" stroke-width="1" stroke-dasharray="1.2 2.6" stroke-opacity="0.8"/><circle cx="766" cy="692.1" r="3.5"/><circle cx="753.6" cy="712.5" r="3.5"/><circle cx="766" cy="714.3" r="3.5"/><circle cx="778.3" cy="708.7" r="3.5"/><circle cx="778.3" cy="718.3" r="3.5"/><circle cx="766" cy="722.8" r="3.5"/><circle cx="772.1" cy="734.2" r="3.5"/><circle cx="759.6" cy="737.2" r="3.5"/><path d="M619.7 511.3V822M606.8 820.5H826M606.8 512.8H619.7M606.8 589.7H619.7M606.8 666.6H619.7M606.8 743.6H619.7M678 820.5V833.7M766 820.5V833.7" stroke="#000" stroke-width="3" fill="none"/><text x="603.9" y="521.4" font-size="23.6" text-anchor="end" font-weight="bold" textLength="37.9" lengthAdjust="spacingAndGlyphs">400</text><text x="603.9" y="598.3" font-size="23.6" text-anchor="end" font-weight="bold" textLength="37.9" lengthAdjust="spacingAndGlyphs">300</text><text x="603.9" y="675.2" font-size="23.6" text-anchor="end" font-weight="bold" textLength="37.9" lengthAdjust="spacingAndGlyphs">200</text><text x="603.9" y="752.2" font-size="23.6" text-anchor="end" font-weight="bold" textLength="37.9" lengthAdjust="spacingAndGlyphs">100</text><text x="603.9" y="829.1" font-size="23.6" text-anchor="end" font-weight="bold" textLength="12.6" lengthAdjust="spacingAndGlyphs">0</text><text x="678" y="858.5" font-size="23.8" text-anchor="middle" font-weight="bold" textLength="44" lengthAdjust="spacingAndGlyphs">F(h)</text><text x="766" y="858.5" font-size="23.8" text-anchor="middle" font-weight="bold" textLength="37.5" lengthAdjust="spacingAndGlyphs">F(-)</text><text x="724.6" y="524.8" font-size="24.7" text-anchor="middle" font-weight="bold" textLength="78.4" lengthAdjust="spacingAndGlyphs">TGFB1</text><text x="810" y="547.9" font-size="26.3" textLength="14" lengthAdjust="spacingAndGlyphs">p</text><text x="824.4" y="534.4" font-size="17.6">***</text><text x="848.2" y="547.9" font-size="26.3" textLength="91.8" lengthAdjust="spacingAndGlyphs">=0.0007</text><text transform="translate(547.2,666.7) rotate(-90)" font-size="25.7" text-anchor="middle" font-weight="bold" textLength="166.7" lengthAdjust="spacingAndGlyphs">mRNA counts</text></g>
<g><path d="M228.4 1090.7C228.4 1093.3 228.7 1095.8 229.2 1098.4C229.6 1100.4 232.2 1102.4 234.5 1104.4C236.8 1106.4 241.5 1108.5 244.4 1110.5C247.2 1112.5 250.5 1114.5 251.9 1116.5C253 1118 254.2 1119.6 254.2 1121.1C254.2 1123.6 250.8 1126.1 248.9 1128.6C247 1131.2 243.4 1133.7 242.8 1136.2C242.4 1138.2 242.1 1140.2 242.1 1142.3C242.1 1144.3 247 1146.3 248.9 1148.3C250.3 1149.8 252.7 1151.3 252.7 1152.8C252.7 1154.9 250.8 1156.9 249.7 1158.9C248.3 1161.4 246.8 1163.9 245.1 1166.5C243.4 1169 241.3 1171.5 239.1 1174C236.8 1176.6 233.1 1179.1 231.5 1181.6C230.2 1183.6 228.7 1185.6 228.6 1187.7C228.5 1190.4 228.4 1193.2 228.4 1196C228.4 1193.2 228.3 1190.4 228.2 1187.7C228.1 1185.6 226.6 1183.6 225.3 1181.6C223.7 1179.1 220 1176.6 217.7 1174C215.5 1171.5 213.4 1169 211.7 1166.5C210 1163.9 208.5 1161.4 207.1 1158.9C206 1156.9 204.1 1154.9 204.1 1152.8C204.1 1151.3 206.5 1149.8 207.9 1148.3C209.8 1146.3 214.7 1144.3 214.7 1142.3C214.7 1140.2 214.4 1138.2 214 1136.2C213.4 1133.7 209.8 1131.2 207.9 1128.6C206 1126.1 202.6 1123.6 202.6 1121.1C202.6 1119.6 203.8 1118 204.9 1116.5C206.3 1114.5 209.6 1112.5 212.4 1110.5C215.3 1108.5 220 1106.4 222.3 1104.4C224.6 1102.4 227.2 1100.4 227.6 1098.4C228.1 1095.8 228.4 1093.3 228.4 1090.7Z" fill="#93611f" stroke="#000" stroke-width="4.4" stroke-linejoin="round" stroke-linecap="round"/><path d="M214.7 1141.8H242.1" stroke="#000" stroke-width="1.1" stroke-opacity="0.85"/><path d="M206.2 1120.3H250.6" stroke="#000" stroke-width="1" stroke-dasharray="1.2 2.6" stroke-opacity="0.8"/><path d="M210.2 1158.1H246.6" stroke="#000" stroke-width="1" stroke-dasharray="1.2 2.6" stroke-opacity="0.8"/><circle cx="234.5" cy="1116.5" r="3.5"/><circle cx="222.6" cy="1121.1" r="3.5"/><circle cx="228.4" cy="1133.2" r="3.5"/><circle cx="222.6" cy="1150.3" r="3.5"/><circle cx="234.5" cy="1154.7" r="3.5"/><circle cx="228.4" cy="1169.5" r="3.5"/><path d="M313.4 1014.3C313.4 1017.1 313.6 1019.9 313.9 1022.7C314.2 1025.2 316.3 1027.7 317.3 1030.3C318.3 1032.8 320 1035.3 320 1037.8C320 1040.4 318 1042.9 317 1045.4C315.9 1047.9 314.2 1050.4 313.9 1053C313.7 1055.5 313.5 1058 313.5 1060.5C313.5 1063.1 313.5 1065.6 313.6 1068.1C313.7 1070.1 315.5 1072.1 317.3 1074.2C319 1076.2 323.2 1078.2 326.3 1080.2C329.5 1082.2 334.2 1084.2 336.2 1086.3C337.7 1087.8 339.5 1089.3 339.5 1090.8C339.5 1092.8 336.1 1094.8 333.9 1096.9C331.7 1098.9 327.1 1100.9 325.6 1102.9C324.1 1104.9 322.5 1106.9 322.5 1109C322.5 1111 323.6 1113 324.1 1115C324.5 1117 325.1 1119 325.1 1121.1C325.1 1123.1 323.2 1125.1 321.8 1127.1C320.4 1129.1 317.7 1131.2 316.5 1133.2C315.3 1135.2 313.7 1137.2 313.6 1139.2C313.5 1142.3 313.4 1145.3 313.4 1148.4C313.4 1145.3 313.3 1142.3 313.2 1139.2C313.1 1137.2 311.5 1135.2 310.3 1133.2C309.1 1131.2 306.4 1129.1 305 1127.1C303.6 1125.1 301.7 1123.1 301.7 1121.1C301.7 1119 302.3 1117 302.7 1115C303.2 1113 304.3 1111 304.3 1109C304.3 1106.9 302.7 1104.9 301.2 1102.9C299.7 1100.9 295.1 1098.9 292.9 1096.9C290.7 1094.8 287.3 1092.8 287.3 1090.8C287.3 1089.3 289.1 1087.8 290.6 1086.3C292.6 1084.2 297.3 1082.2 300.5 1080.2C303.6 1078.2 307.8 1076.2 309.5 1074.2C311.3 1072.1 313.1 1070.1 313.2 1068.1C313.3 1065.6 313.3 1063.1 313.3 1060.5C313.3 1058 313.1 1055.5 312.9 1053C312.6 1050.4 310.9 1047.9 309.8 1045.4C308.8 1042.9 306.8 1040.4 306.8 1037.8C306.8 1035.3 308.5 1032.8 309.5 1030.3C310.5 1027.7 312.6 1025.2 312.9 1022.7C313.2 1019.9 313.4 1017.1 313.4 1014.3Z" fill="#00be00" stroke="#000" stroke-width="4.4" stroke-linejoin="round" stroke-linecap="round"/><path d="M287.5 1091.6H339.3" stroke="#000" stroke-width="1.1" stroke-opacity="0.85"/><path d="M293.8 1086.6H333" stroke="#000" stroke-width="1" stroke-dasharray="1.2 2.6" stroke-opacity="0.8"/><path d="M306.9 1112.7H319.9" stroke="#000" stroke-width="1" stroke-dasharray="1.2 2.6" stroke-opacity="0.8"/><circle cx="313.4" cy="1038.3" r="3.5"/><circle cx="313.4" cy="1086" r="3.5"/><circle cx="301.3" cy="1088.8" r="3.5"/><circle cx="325.5" cy="1090.8" r="3.5"/><circle cx="313.4" cy="1094.3" r="3.5"/><circle cx="313.4" cy="1102.1" r="3.5"/><circle cx="313.4" cy="1117.3" r="3.5"/><circle cx="313.4" cy="1124.5" r="3.5"/><path d="M172.2 942.8V1243.2M159.2 1241.7H371.7M159.2 944.3H172.2M159.2 1043.4H172.2M159.2 1142.6H172.2M228.4 1241.7V1254.9M313.1 1241.7V1254.9" stroke="#000" stroke-width="3" fill="none"/><text x="156.3" y="952.9" font-size="23.6" text-anchor="end" font-weight="bold" textLength="37.9" lengthAdjust="spacingAndGlyphs">150</text><text x="156.3" y="1052" font-size="23.6" text-anchor="end" font-weight="bold" textLength="37.9" lengthAdjust="spacingAndGlyphs">100</text><text x="156.3" y="1151.2" font-size="23.6" text-anchor="end" font-weight="bold" textLength="25.3" lengthAdjust="spacingAndGlyphs">50</text><text x="156.3" y="1250.3" font-size="23.6" text-anchor="end" font-weight="bold" textLength="12.6" lengthAdjust="spacingAndGlyphs">0</text><text x="228.4" y="1278.5" font-size="23.8" text-anchor="middle" font-weight="bold" textLength="44" lengthAdjust="spacingAndGlyphs">F(h)</text><text x="313.1" y="1278.5" font-size="23.8" text-anchor="middle" font-weight="bold" textLength="37.5" lengthAdjust="spacingAndGlyphs">F(-)</text><text x="262.5" y="954.8" font-size="24.5" text-anchor="middle" font-weight="bold" textLength="91.3" lengthAdjust="spacingAndGlyphs">CXCL10</text><text x="357.4" y="1003.1" font-size="26.3" textLength="14" lengthAdjust="spacingAndGlyphs">p</text><text x="371.8" y="989.6" font-size="17.6">**</text><text x="382.5" y="1003.1" font-size="26.3" textLength="91.8" lengthAdjust="spacingAndGlyphs">=0.0047</text><text transform="translate(102,1093) rotate(-90)" font-size="25.7" text-anchor="middle" font-weight="bold" textLength="160.7" lengthAdjust="spacingAndGlyphs">mRNA counts</text></g>
<g><path d="M674 1021.1C674 1025.7 674 1030.2 674.1 1034.8C674.1 1037.8 675.3 1040.9 676.3 1043.9C677.4 1046.9 680.3 1049.9 681.6 1053C683.2 1056.5 685 1060 685.4 1063.6C685.9 1067.6 685.9 1071.6 686.2 1075.7C686.6 1080.7 686.9 1085.8 687.7 1090.8C688.4 1095.8 690.6 1100.9 692.2 1105.9C693.9 1111 696.1 1116 697.5 1121.1C698.4 1124.1 699.3 1127.1 699.8 1130.1C700.1 1132.2 700.6 1134.2 700.6 1136.2C700.6 1138.7 699.3 1141.2 698.3 1143.8C697.2 1146.3 694.6 1148.8 693 1151.3C691.4 1153.9 689.2 1156.4 688.4 1158.9C687.7 1161.4 687.2 1163.9 686.9 1166.5C686.6 1169.5 686.6 1172.5 686.2 1175.5C685.8 1178.6 683.9 1181.6 682.4 1184.6C680.9 1187.7 678.5 1190.7 677.1 1193.7C675.9 1196.2 674.3 1198.7 674.2 1201.3C674.1 1208.1 674 1214.9 674 1221.8C674 1214.9 673.9 1208.1 673.8 1201.3C673.7 1198.7 672.1 1196.2 670.9 1193.7C669.5 1190.7 667.1 1187.7 665.6 1184.6C664.1 1181.6 662.2 1178.6 661.8 1175.5C661.4 1172.5 661.4 1169.5 661.1 1166.5C660.8 1163.9 660.3 1161.4 659.6 1158.9C658.8 1156.4 656.6 1153.9 655 1151.3C653.4 1148.8 650.8 1146.3 649.7 1143.8C648.7 1141.2 647.4 1138.7 647.4 1136.2C647.4 1134.2 647.9 1132.2 648.2 1130.1C648.7 1127.1 649.6 1124.1 650.5 1121.1C651.9 1116 654.1 1111 655.8 1105.9C657.4 1100.9 659.6 1095.8 660.3 1090.8C661.1 1085.8 661.4 1080.7 661.8 1075.7C662.1 1071.6 662.1 1067.6 662.6 1063.6C663 1060 664.8 1056.5 666.4 1053C667.7 1049.9 670.6 1046.9 671.7 1043.9C672.7 1040.9 673.9 1037.8 673.9 1034.8C674 1030.2 674 1025.7 674 1021.1Z" fill="#93611f" stroke="#000" stroke-width="4.4" stroke-linejoin="round" stroke-linecap="round"/><path d="M648.3 1129.8H699.7" stroke="#000" stroke-width="1.1" stroke-opacity="0.85"/><path d="M663.8 1090.8H684.2" stroke="#000" stroke-width="1" stroke-dasharray="1.2 2.6" stroke-opacity="0.8"/><path d="M657.4 1149.8H690.6" stroke="#000" stroke-width="1" stroke-dasharray="1.2 2.6" stroke-opacity="0.8"/><circle cx="674" cy="1068.9" r="3.5"/><circle cx="674" cy="1098.7" r="3.5"/><circle cx="674" cy="1120.6" r="3.5"/><circle cx="667.9" cy="1141" r="3.5"/><circle cx="679.8" cy="1141.5" r="3.5"/><circle cx="674" cy="1174.8" r="3.5"/><path d="M760 1129.3C760 1130.4 760.2 1131.4 760.5 1132.4C760.9 1133.7 763.2 1134.9 764.6 1136.2C765.9 1137.3 768.7 1138.4 768.7 1139.5C768.7 1140.7 766 1141.8 764.6 1143C763.1 1144.3 760.3 1145.5 760.2 1146.8C760.1 1151.8 760.1 1156.9 760.1 1161.9C760.1 1163.2 762 1164.4 763.9 1165.7C766.1 1167.2 773.9 1168.7 777.5 1170.2C780.5 1171.5 784.1 1172.8 785 1174C785.6 1174.8 786.1 1175.5 786.1 1176.3C786.1 1177.8 784.3 1179.3 782.8 1180.8C781.3 1182.4 778.8 1183.9 776 1185.4C773.6 1186.6 766.9 1187.9 766.9 1189.2C766.9 1190.4 768.7 1191.7 768.7 1192.9C768.7 1194.2 767.3 1195.5 766.1 1196.7C765 1198 761.7 1199.3 761.1 1200.5C760.5 1201.8 760 1203.1 760 1204.4C760 1203.1 759.5 1201.8 758.9 1200.5C758.3 1199.3 755 1198 753.9 1196.7C752.7 1195.5 751.3 1194.2 751.3 1192.9C751.3 1191.7 753.1 1190.4 753.1 1189.2C753.1 1187.9 746.4 1186.6 744 1185.4C741.2 1183.9 738.7 1182.4 737.2 1180.8C735.7 1179.3 733.9 1177.8 733.9 1176.3C733.9 1175.5 734.4 1174.8 735 1174C735.9 1172.8 739.5 1171.5 742.5 1170.2C746.1 1168.7 753.9 1167.2 756.1 1165.7C758 1164.4 759.9 1163.2 759.9 1161.9C759.9 1156.9 759.9 1151.8 759.8 1146.8C759.7 1145.5 756.9 1144.3 755.4 1143C754 1141.8 751.3 1140.7 751.3 1139.5C751.3 1138.4 754.1 1137.3 755.4 1136.2C756.8 1134.9 759.1 1133.7 759.5 1132.4C759.8 1131.4 760 1130.4 760 1129.3Z" fill="#00be00" stroke="#000" stroke-width="4.4" stroke-linejoin="round" stroke-linecap="round"/><path d="M735 1178.6H785" stroke="#000" stroke-width="1.1" stroke-opacity="0.85"/><path d="M738.5 1174H781.5" stroke="#000" stroke-width="1" stroke-dasharray="1.2 2.6" stroke-opacity="0.8"/><path d="M746.7 1184.9H773.3" stroke="#000" stroke-width="1" stroke-dasharray="1.2 2.6" stroke-opacity="0.8"/><circle cx="760" cy="1139.5" r="3.5"/><circle cx="760" cy="1174" r="3.5"/><circle cx="747.1" cy="1179.3" r="3.5"/><circle cx="772.1" cy="1177.1" r="3.5"/><circle cx="760" cy="1184.9" r="3.5"/><circle cx="760" cy="1194.2" r="3.5"/><path d="M616.7 941.1V1244.7M604 1243.2H818.7M604 942.6H616.7M604 1017.8H616.7M604 1092.9H616.7M604 1168H616.7M674 1243.2V1256.4M759.8 1243.2V1256.4" stroke="#000" stroke-width="3" fill="none"/><text x="601.1" y="951.2" font-size="23.6" text-anchor="end" font-weight="bold" textLength="37.9" lengthAdjust="spacingAndGlyphs">400</text><text x="601.1" y="1026.3" font-size="23.6" text-anchor="end" font-weight="bold" textLength="37.9" lengthAdjust="spacingAndGlyphs">300</text><text x="601.1" y="1101.5" font-size="23.6" text-anchor="end" font-weight="bold" textLength="37.9" lengthAdjust="spacingAndGlyphs">200</text><text x="601.1" y="1176.6" font-size="23.6" text-anchor="end" font-weight="bold" textLength="37.9" lengthAdjust="spacingAndGlyphs">100</text><text x="601.1" y="1251.8" font-size="23.6" text-anchor="end" font-weight="bold" textLength="12.6" lengthAdjust="spacingAndGlyphs">0</text><text x="674" y="1279" font-size="23.8" text-anchor="middle" font-weight="bold" textLength="44" lengthAdjust="spacingAndGlyphs">F(h)</text><text x="759.8" y="1279" font-size="23.8" text-anchor="middle" font-weight="bold" textLength="37.5" lengthAdjust="spacingAndGlyphs">F(-)</text><text x="702.8" y="956.6" font-size="23.5" text-anchor="middle" font-weight="bold" textLength="49.6" lengthAdjust="spacingAndGlyphs">SPI1</text><text x="765.6" y="1010.4" font-size="26.3" textLength="14" lengthAdjust="spacingAndGlyphs">p</text><text x="780" y="996.9" font-size="17.6">**</text><text x="793.2" y="1010.4" font-size="26.3" textLength="91.8" lengthAdjust="spacingAndGlyphs">=0.0093</text><text transform="translate(546.7,1093.4) rotate(-90)" font-size="25.7" text-anchor="middle" font-weight="bold" textLength="161.2" lengthAdjust="spacingAndGlyphs">mRNA counts</text></g>
<g><path d="M239.1 1638.5C239.1 1641.3 239.4 1644.1 239.9 1646.9C240.4 1649.4 243.1 1651.9 245.2 1654.4C247.4 1656.9 251.2 1659.5 253.5 1662C255.9 1664.5 258.5 1667 259.6 1669.6C260.7 1672.1 261.9 1674.6 261.9 1677.1C261.9 1679.6 260.4 1682.2 260.4 1684.7C260.4 1687.2 261.2 1689.7 261.9 1692.3C262.7 1695.3 266.4 1698.3 266.4 1701.3C266.4 1703.9 263.2 1706.4 261.9 1708.9C260.8 1710.9 258.8 1712.9 258.8 1715C258.8 1717 261.4 1719 262.6 1721C263.9 1723 266.4 1725 266.4 1727.1C266.4 1729.1 264.5 1731.1 262.6 1733.1C260.8 1735.1 255.3 1737.1 252 1739.2C248.8 1741.2 244.9 1743.2 243 1745.2C241.5 1746.7 239.8 1748.2 239.6 1749.8C239.3 1753.3 239.1 1756.9 239.1 1760.4C239.1 1756.9 238.9 1753.3 238.6 1749.8C238.4 1748.2 236.7 1746.7 235.2 1745.2C233.3 1743.2 229.4 1741.2 226.2 1739.2C222.9 1737.1 217.4 1735.1 215.6 1733.1C213.7 1731.1 211.8 1729.1 211.8 1727.1C211.8 1725 214.3 1723 215.6 1721C216.8 1719 219.4 1717 219.4 1715C219.4 1712.9 217.4 1710.9 216.3 1708.9C215 1706.4 211.8 1703.9 211.8 1701.3C211.8 1698.3 215.5 1695.3 216.3 1692.3C217 1689.7 217.8 1687.2 217.8 1684.7C217.8 1682.2 216.3 1679.6 216.3 1677.1C216.3 1674.6 217.5 1672.1 218.6 1669.6C219.7 1667 222.3 1664.5 224.7 1662C227 1659.5 230.8 1656.9 233 1654.4C235.1 1651.9 237.8 1649.4 238.3 1646.9C238.8 1644.1 239.1 1641.3 239.1 1638.5Z" fill="#93611f" stroke="#000" stroke-width="4.4" stroke-linejoin="round" stroke-linecap="round"/><path d="M211.8 1701.8H266.4" stroke="#000" stroke-width="1.1" stroke-opacity="0.85"/><path d="M220 1678.6H258.2" stroke="#000" stroke-width="1" stroke-dasharray="1.2 2.6" stroke-opacity="0.8"/><path d="M215.3 1727.1H262.9" stroke="#000" stroke-width="1" stroke-dasharray="1.2 2.6" stroke-opacity="0.8"/><circle cx="239.4" cy="1669.6" r="3.5"/><circle cx="239.4" cy="1682.1" r="3.5"/><circle cx="245.5" cy="1699.5" r="3.5"/><circle cx="232.9" cy="1704.8" r="3.5"/><circle cx="245.5" cy="1726" r="3.5"/><circle cx="232.9" cy="1729.8" r="3.5"/><path d="M329.5 1563.5C329.5 1568.1 329.6 1572.7 329.7 1577.2C329.8 1579.8 331.3 1582.3 332.6 1584.8C334.2 1587.8 337.9 1590.9 340.2 1593.9C342.1 1596.4 344.7 1598.9 345.5 1601.5C346.2 1604 347 1606.5 347 1609C347 1611.5 345.5 1614.1 345.5 1616.6C345.5 1619.1 346.7 1621.6 347.7 1624.2C349 1627.2 353.1 1630.2 354.5 1633.2C355.7 1635.8 357.1 1638.3 357.1 1640.8C357.1 1643.3 355.3 1645.8 353.8 1648.4C352.3 1650.9 349 1653.4 347 1655.9C344.5 1659 341.4 1662 340.2 1665C339.1 1667.5 337.9 1670.1 337.9 1672.6C337.9 1675.1 339.7 1677.6 340.9 1680.1C342.1 1682.7 344.6 1685.2 345.5 1687.7C346 1689.5 346.7 1691.2 346.7 1693C346.7 1695.3 345.2 1697.5 343.9 1699.8C342.5 1702.3 338.6 1704.9 336.4 1707.4C334.1 1709.9 330.9 1712.4 330.3 1715C329.9 1717 329.6 1719 329.6 1721C329.5 1725.8 329.5 1730.6 329.5 1735.5C329.5 1730.6 329.5 1725.8 329.4 1721C329.4 1719 329.1 1717 328.7 1715C328.1 1712.4 324.9 1709.9 322.6 1707.4C320.4 1704.9 316.5 1702.3 315.1 1699.8C313.8 1697.5 312.3 1695.3 312.3 1693C312.3 1691.2 313 1689.5 313.5 1687.7C314.4 1685.2 316.9 1682.7 318.1 1680.1C319.3 1677.6 321.1 1675.1 321.1 1672.6C321.1 1670.1 319.9 1667.5 318.8 1665C317.6 1662 314.5 1659 312 1655.9C310 1653.4 306.7 1650.9 305.2 1648.4C303.7 1645.8 301.9 1643.3 301.9 1640.8C301.9 1638.3 303.3 1635.8 304.5 1633.2C305.9 1630.2 310 1627.2 311.3 1624.2C312.3 1621.6 313.5 1619.1 313.5 1616.6C313.5 1614.1 312 1611.5 312 1609C312 1606.5 312.8 1604 313.5 1601.5C314.3 1598.9 316.9 1596.4 318.8 1593.9C321.1 1590.9 324.8 1587.8 326.4 1584.8C327.7 1582.3 329.2 1579.8 329.3 1577.2C329.4 1572.7 329.5 1568.1 329.5 1563.5Z" fill="#00be00" stroke="#000" stroke-width="4.4" stroke-linejoin="round" stroke-linecap="round"/><path d="M301.9 1640.3H357.1" stroke="#000" stroke-width="1.1" stroke-opacity="0.85"/><path d="M317 1617.3H342" stroke="#000" stroke-width="1" stroke-dasharray="1.2 2.6" stroke-opacity="0.8"/><path d="M320.2 1682.4H338.8" stroke="#000" stroke-width="1" stroke-dasharray="1.2 2.6" stroke-opacity="0.8"/><circle cx="329.5" cy="1603.3" r="3.5"/><circle cx="329.5" cy="1610.5" r="3.5"/><circle cx="316.9" cy="1636.7" r="3.5"/><circle cx="342.4" cy="1638.2" r="3.5"/><circle cx="329.5" cy="1642" r="3.5"/><circle cx="329.5" cy="1657.7" r="3.5"/><circle cx="336" cy="1690.4" r="3.5"/><circle cx="323.4" cy="1695.3" r="3.5"/><path d="M179 1498V1817.1M165.8 1815.6H391M165.8 1499.5H179M165.8 1604.9H179M165.8 1710.2H179M239 1815.6V1828.8M329.5 1815.6V1828.8" stroke="#000" stroke-width="3" fill="none"/><text x="162.9" y="1508.1" font-size="23.6" text-anchor="end" font-weight="bold" textLength="37.9" lengthAdjust="spacingAndGlyphs">150</text><text x="162.9" y="1613.5" font-size="23.6" text-anchor="end" font-weight="bold" textLength="37.9" lengthAdjust="spacingAndGlyphs">100</text><text x="162.9" y="1718.8" font-size="23.6" text-anchor="end" font-weight="bold" textLength="25.3" lengthAdjust="spacingAndGlyphs">50</text><text x="162.9" y="1824.2" font-size="23.6" text-anchor="end" font-weight="bold" textLength="12.6" lengthAdjust="spacingAndGlyphs">0</text><text x="239" y="1853.7" font-size="23.8" text-anchor="middle" font-weight="bold" textLength="44" lengthAdjust="spacingAndGlyphs">F(h)</text><text x="329.5" y="1853.7" font-size="23.8" text-anchor="middle" font-weight="bold" textLength="37.5" lengthAdjust="spacingAndGlyphs">F(-)</text><text x="293.4" y="1510.9" font-size="25.8" text-anchor="middle" font-weight="bold" textLength="114.1" lengthAdjust="spacingAndGlyphs">TMEM119</text><text x="363.7" y="1536.8" font-size="26.3" textLength="131.5" lengthAdjust="spacingAndGlyphs">p**=0.0080</text><text transform="translate(104.5,1658.2) rotate(-90)" font-size="25.7" text-anchor="middle" font-weight="bold" textLength="170.4" lengthAdjust="spacingAndGlyphs">mRNA counts</text></g>
<g><path d="M676.7 1690.2C676.7 1692.2 676.9 1694.3 677.2 1696.3C677.5 1698.3 679.8 1700.4 681.3 1702.4C682.8 1704.4 685.7 1706.4 686.6 1708.4C687.8 1711 688.9 1713.5 688.9 1716C688.9 1718 688.5 1720 688.1 1722.1C687.7 1724.1 685.5 1726.1 685.1 1728.1C684.7 1730.1 684.3 1732.1 684.3 1734.2C684.3 1735.7 688.6 1737.2 691.1 1738.7C693.6 1740.2 697.7 1741.7 699.5 1743.2C701.6 1745 704 1746.8 704 1748.5C704 1750.3 701.4 1752.1 699.5 1753.8C697.3 1755.9 693.3 1757.9 690.4 1759.9C687.5 1761.9 684.3 1763.9 682.1 1765.9C680.4 1767.5 678.2 1769 677.8 1770.5C677.1 1774 676.7 1777.6 676.7 1781.1C676.7 1777.6 676.3 1774 675.6 1770.5C675.2 1769 673 1767.5 671.3 1765.9C669.1 1763.9 665.9 1761.9 663 1759.9C660.1 1757.9 656.1 1755.9 653.9 1753.8C652 1752.1 649.4 1750.3 649.4 1748.5C649.4 1746.8 651.8 1745 653.9 1743.2C655.7 1741.7 659.8 1740.2 662.3 1738.7C664.8 1737.2 669.1 1735.7 669.1 1734.2C669.1 1732.1 668.7 1730.1 668.3 1728.1C667.9 1726.1 665.7 1724.1 665.3 1722.1C664.9 1720 664.5 1718 664.5 1716C664.5 1713.5 665.6 1711 666.8 1708.4C667.7 1706.4 670.6 1704.4 672.1 1702.4C673.6 1700.4 675.9 1698.3 676.2 1696.3C676.5 1694.3 676.7 1692.2 676.7 1690.2Z" fill="#93611f" stroke="#000" stroke-width="4.4" stroke-linejoin="round" stroke-linecap="round"/><path d="M651.8 1745.1H701.6" stroke="#000" stroke-width="1.1" stroke-opacity="0.85"/><path d="M668.6 1721.3H684.8" stroke="#000" stroke-width="1" stroke-dasharray="1.2 2.6" stroke-opacity="0.8"/><path d="M657.1 1753.5H696.3" stroke="#000" stroke-width="1" stroke-dasharray="1.2 2.6" stroke-opacity="0.8"/><circle cx="676.7" cy="1712.2" r="3.5"/><circle cx="676.7" cy="1724.8" r="3.5"/><circle cx="670.6" cy="1746.3" r="3.5"/><circle cx="683.1" cy="1743.5" r="3.5"/><circle cx="683.1" cy="1751.6" r="3.5"/><circle cx="676.7" cy="1758.8" r="3.5"/><path d="M766.3 1554C766.3 1560.1 766.4 1566.2 766.5 1572.2C766.6 1576.3 767.6 1580.3 768.6 1584.3C769.7 1588.4 772.8 1592.4 774.7 1596.5C776.6 1600.5 778.9 1604.5 780 1608.6C780.9 1612.1 782 1615.6 782 1619.2C782 1622.7 780.7 1626.2 780 1629.7C779.1 1633.8 777 1637.8 777 1641.9C777 1644.9 777 1647.9 777 1650.9C777 1654 779.2 1657 780.7 1660C782.6 1663.5 786.3 1667.1 788.3 1670.6C790.3 1674.1 792.6 1677.7 793.2 1681.2C793.4 1682.7 793.6 1684.2 793.6 1685.7C793.6 1689.3 791.8 1692.8 790.6 1696.3C789.6 1699.4 787.3 1702.4 786.8 1705.4C786.4 1707.9 786 1710.5 786 1713C786 1716.5 787.7 1720 788.3 1723.6C788.9 1726.6 789.8 1729.6 789.8 1732.7C789.8 1735.7 789.1 1738.7 788.3 1741.7C787.5 1744.8 785 1747.8 783 1750.8C780.7 1754.3 777.2 1757.9 774.7 1761.4C772.2 1764.9 768.7 1768.5 767.9 1772C767.2 1775 766.6 1778.1 766.5 1781.1C766.4 1789.2 766.3 1797.3 766.3 1805.4C766.3 1797.3 766.2 1789.2 766.1 1781.1C766 1778.1 765.4 1775 764.7 1772C763.9 1768.5 760.4 1764.9 757.9 1761.4C755.4 1757.9 751.9 1754.3 749.6 1750.8C747.6 1747.8 745.1 1744.8 744.3 1741.7C743.5 1738.7 742.8 1735.7 742.8 1732.7C742.8 1729.6 743.7 1726.6 744.3 1723.6C744.9 1720 746.6 1716.5 746.6 1713C746.6 1710.5 746.2 1707.9 745.8 1705.4C745.3 1702.4 743 1699.4 742 1696.3C740.8 1692.8 739 1689.3 739 1685.7C739 1684.2 739.2 1682.7 739.4 1681.2C740 1677.7 742.3 1674.1 744.3 1670.6C746.3 1667.1 750 1663.5 751.9 1660C753.4 1657 755.6 1654 755.6 1650.9C755.6 1647.9 755.6 1644.9 755.6 1641.9C755.6 1637.8 753.5 1633.8 752.6 1629.7C751.9 1626.2 750.6 1622.7 750.6 1619.2C750.6 1615.6 751.7 1612.1 752.6 1608.6C753.7 1604.5 756 1600.5 757.9 1596.5C759.8 1592.4 762.9 1588.4 764 1584.3C765 1580.3 766 1576.3 766.1 1572.2C766.2 1566.2 766.3 1560.1 766.3 1554Z" fill="#00be00" stroke="#000" stroke-width="4.4" stroke-linejoin="round" stroke-linecap="round"/><path d="M739 1685.7H793.6" stroke="#000" stroke-width="1.1" stroke-opacity="0.85"/><path d="M759.1 1643.7H773.5" stroke="#000" stroke-width="1" stroke-dasharray="1.2 2.6" stroke-opacity="0.8"/><path d="M746.4 1730.8H786.2" stroke="#000" stroke-width="1" stroke-dasharray="1.2 2.6" stroke-opacity="0.8"/><circle cx="766.3" cy="1612" r="3.5"/><circle cx="766.3" cy="1631.3" r="3.5"/><circle cx="759.9" cy="1682" r="3.5"/><circle cx="772.8" cy="1678.9" r="3.5"/><circle cx="766.3" cy="1690.3" r="3.5"/><circle cx="766.3" cy="1722.1" r="3.5"/><circle cx="766.3" cy="1733.4" r="3.5"/><circle cx="766.3" cy="1747.3" r="3.5"/><path d="M617.3 1501.1V1817.5M604 1816H827.5M604 1502.6H617.3M604 1607.1H617.3M604 1711.5H617.3M676.6 1816V1829.2M766.6 1816V1829.2" stroke="#000" stroke-width="3" fill="none"/><text x="601.1" y="1511.2" font-size="23.6" text-anchor="end" font-weight="bold" textLength="37.9" lengthAdjust="spacingAndGlyphs">300</text><text x="601.1" y="1615.7" font-size="23.6" text-anchor="end" font-weight="bold" textLength="37.9" lengthAdjust="spacingAndGlyphs">200</text><text x="601.1" y="1720.1" font-size="23.6" text-anchor="end" font-weight="bold" textLength="37.9" lengthAdjust="spacingAndGlyphs">100</text><text x="601.1" y="1824.6" font-size="23.6" text-anchor="end" font-weight="bold" textLength="12.6" lengthAdjust="spacingAndGlyphs">0</text><text x="676.6" y="1853.7" font-size="23.8" text-anchor="middle" font-weight="bold" textLength="44" lengthAdjust="spacingAndGlyphs">F(h)</text><text x="766.6" y="1853.7" font-size="23.8" text-anchor="middle" font-weight="bold" textLength="37.5" lengthAdjust="spacingAndGlyphs">F(-)</text><text x="713.8" y="1511.7" font-size="25.3" text-anchor="middle" font-weight="bold" textLength="90.4" lengthAdjust="spacingAndGlyphs">P2RY12</text><text x="792.8" y="1542.4" font-size="26.3" textLength="119.4" lengthAdjust="spacingAndGlyphs">p*=0.0293</text><text transform="translate(544.2,1660) rotate(-90)" font-size="25.7" text-anchor="middle" font-weight="bold" textLength="169.2" lengthAdjust="spacingAndGlyphs">mRNA counts</text></g>
<g><path d="M1122 1530.5C1122 1537.1 1122 1543.7 1122.1 1550.3C1122.1 1555.3 1122.8 1560.4 1123.6 1565.4C1124.3 1570.4 1126.6 1575.5 1128.1 1580.5C1129.4 1584.6 1131.2 1588.6 1131.9 1592.6C1132.5 1595.7 1133.1 1598.7 1133.1 1601.7C1133.1 1605.8 1131.9 1609.8 1131.1 1613.8C1130.4 1617.9 1128.9 1621.9 1128.9 1625.9C1128.9 1630 1129.7 1634 1130.7 1638C1131.6 1642.1 1134.9 1646.1 1137.2 1650.1C1139.5 1654.2 1143 1658.2 1144.8 1662.3C1146.5 1666.3 1148.9 1670.3 1148.9 1674.4C1148.9 1677.4 1148.4 1680.4 1147.8 1683.4C1147.1 1687 1144.3 1690.5 1142.5 1694C1140.7 1697.6 1138 1701.1 1137.2 1704.6C1136.4 1708.2 1135.7 1711.7 1135.7 1715.2C1135.7 1718.7 1137.6 1722.3 1138.7 1725.8C1139.8 1729.3 1142.1 1732.9 1142.5 1736.4C1142.9 1739.9 1143.3 1743.5 1143.3 1747C1143.3 1750.5 1141 1754.1 1139.5 1757.6C1137.7 1761.6 1134.9 1765.7 1132.7 1769.7C1130.4 1773.7 1127.5 1777.8 1125.9 1781.8C1124.4 1785.3 1122.7 1788.9 1122.5 1792.4C1122.2 1798.5 1122 1804.7 1122 1810.8C1122 1804.7 1121.8 1798.5 1121.5 1792.4C1121.3 1788.9 1119.6 1785.3 1118.1 1781.8C1116.5 1777.8 1113.6 1773.7 1111.3 1769.7C1109.1 1765.7 1106.3 1761.6 1104.5 1757.6C1103 1754.1 1100.7 1750.5 1100.7 1747C1100.7 1743.5 1101.1 1739.9 1101.5 1736.4C1101.9 1732.9 1104.2 1729.3 1105.3 1725.8C1106.4 1722.3 1108.3 1718.7 1108.3 1715.2C1108.3 1711.7 1107.6 1708.2 1106.8 1704.6C1106 1701.1 1103.3 1697.6 1101.5 1694C1099.7 1690.5 1096.9 1687 1096.2 1683.4C1095.6 1680.4 1095.1 1677.4 1095.1 1674.4C1095.1 1670.3 1097.5 1666.3 1099.2 1662.3C1101 1658.2 1104.5 1654.2 1106.8 1650.1C1109.1 1646.1 1112.4 1642.1 1113.3 1638C1114.3 1634 1115.1 1630 1115.1 1625.9C1115.1 1621.9 1113.6 1617.9 1112.9 1613.8C1112.1 1609.8 1110.9 1605.8 1110.9 1601.7C1110.9 1598.7 1111.5 1595.7 1112.1 1592.6C1112.8 1588.6 1114.6 1584.6 1115.9 1580.5C1117.4 1575.5 1119.7 1570.4 1120.4 1565.4C1121.2 1560.4 1121.9 1555.3 1121.9 1550.3C1122 1543.7 1122 1537.1 1122 1530.5Z" fill="#93611f" stroke="#000" stroke-width="4.4" stroke-linejoin="round" stroke-linecap="round"/><path d="M1096.1 1682.7H1147.9" stroke="#000" stroke-width="1.1" stroke-opacity="0.85"/><path d="M1109.8 1650.9H1134.2" stroke="#000" stroke-width="1" stroke-dasharray="1.2 2.6" stroke-opacity="0.8"/><path d="M1104.4 1742.9H1139.6" stroke="#000" stroke-width="1" stroke-dasharray="1.2 2.6" stroke-opacity="0.8"/><circle cx="1122" cy="1601.7" r="3.5"/><circle cx="1115.6" cy="1668" r="3.5"/><circle cx="1128.1" cy="1671.3" r="3.5"/><circle cx="1122" cy="1694" r="3.5"/><circle cx="1122" cy="1740.2" r="3.5"/><circle cx="1122" cy="1751.5" r="3.5"/><path d="M1210.2 1667.5C1210.2 1671.3 1210.4 1675.1 1210.7 1678.9C1210.9 1681.4 1213 1683.9 1214.1 1686.5C1215.3 1689.5 1217.8 1692.5 1217.8 1695.5C1217.8 1698.6 1215.3 1701.6 1214.1 1704.6C1213 1707.1 1211 1709.7 1210.7 1712.2C1210.4 1715.2 1210.3 1718.2 1210.3 1721.3C1210.3 1723.8 1211.8 1726.3 1213.3 1728.8C1214.8 1731.4 1219 1733.9 1221.6 1736.4C1224.3 1738.9 1228 1741.4 1229.2 1744C1229.9 1745.5 1230.7 1747 1230.7 1748.5C1230.7 1751 1227.7 1753.6 1227.7 1756.1C1227.7 1758.1 1228.4 1760.1 1229.2 1762.1C1230 1764.1 1233.2 1766.2 1234.5 1768.2C1235.6 1769.9 1237.1 1771.7 1237.1 1773.5C1237.1 1775.2 1235.3 1777 1233.7 1778.8C1231.9 1780.8 1226.5 1782.8 1223.1 1784.8C1219.7 1786.8 1214.8 1788.9 1213.3 1790.9C1211.8 1792.9 1210.5 1794.9 1210.4 1796.9C1210.3 1799.2 1210.2 1801.5 1210.2 1803.8C1210.2 1801.5 1210.1 1799.2 1210 1796.9C1209.9 1794.9 1208.6 1792.9 1207.1 1790.9C1205.6 1788.9 1200.7 1786.8 1197.3 1784.8C1193.9 1782.8 1188.5 1780.8 1186.7 1778.8C1185.1 1777 1183.3 1775.2 1183.3 1773.5C1183.3 1771.7 1184.8 1769.9 1185.9 1768.2C1187.2 1766.2 1190.4 1764.1 1191.2 1762.1C1192 1760.1 1192.7 1758.1 1192.7 1756.1C1192.7 1753.6 1189.7 1751 1189.7 1748.5C1189.7 1747 1190.5 1745.5 1191.2 1744C1192.4 1741.4 1196.1 1738.9 1198.8 1736.4C1201.4 1733.9 1205.6 1731.4 1207.1 1728.8C1208.6 1726.3 1210.1 1723.8 1210.1 1721.3C1210.1 1718.2 1210 1715.2 1209.7 1712.2C1209.4 1709.7 1207.4 1707.1 1206.3 1704.6C1205.1 1701.6 1202.6 1698.6 1202.6 1695.5C1202.6 1692.5 1205.1 1689.5 1206.3 1686.5C1207.4 1683.9 1209.5 1681.4 1209.7 1678.9C1210 1675.1 1210.2 1671.3 1210.2 1667.5Z" fill="#00be00" stroke="#000" stroke-width="4.4" stroke-linejoin="round" stroke-linecap="round"/><path d="M1192.5 1758.3H1227.9" stroke="#000" stroke-width="1.1" stroke-opacity="0.85"/><path d="M1195.7 1742.5H1224.7" stroke="#000" stroke-width="1" stroke-dasharray="1.2 2.6" stroke-opacity="0.8"/><path d="M1186.9 1773.9H1233.5" stroke="#000" stroke-width="1" stroke-dasharray="1.2 2.6" stroke-opacity="0.8"/><circle cx="1210.2" cy="1695.5" r="3.5"/><circle cx="1210.2" cy="1740.2" r="3.5"/><circle cx="1216.3" cy="1747.8" r="3.5"/><circle cx="1203.7" cy="1750.8" r="3.5"/><circle cx="1210.2" cy="1764.9" r="3.5"/><circle cx="1210.2" cy="1773.5" r="3.5"/><circle cx="1222.3" cy="1773.5" r="3.5"/><circle cx="1197.3" cy="1777" r="3.5"/><path d="M1063.3 1504.3V1814.8M1050.1 1813.3H1269.9M1050.1 1505.8H1063.3M1050.1 1567.3H1063.3M1050.1 1628.8H1063.3M1050.1 1690.3H1063.3M1050.1 1751.8H1063.3M1122 1813.3V1826.5M1210 1813.3V1826.5" stroke="#000" stroke-width="3" fill="none"/><text x="1047.2" y="1514.4" font-size="23.6" text-anchor="end" font-weight="bold" textLength="50.5" lengthAdjust="spacingAndGlyphs">1000</text><text x="1047.2" y="1575.9" font-size="23.6" text-anchor="end" font-weight="bold" textLength="37.9" lengthAdjust="spacingAndGlyphs">800</text><text x="1047.2" y="1637.4" font-size="23.6" text-anchor="end" font-weight="bold" textLength="37.9" lengthAdjust="spacingAndGlyphs">600</text><text x="1047.2" y="1698.9" font-size="23.6" text-anchor="end" font-weight="bold" textLength="37.9" lengthAdjust="spacingAndGlyphs">400</text><text x="1047.2" y="1760.4" font-size="23.6" text-anchor="end" font-weight="bold" textLength="37.9" lengthAdjust="spacingAndGlyphs">200</text><text x="1047.2" y="1821.9" font-size="23.6" text-anchor="end" font-weight="bold" textLength="12.6" lengthAdjust="spacingAndGlyphs">0</text><text x="1122" y="1850.7" font-size="23.8" text-anchor="middle" font-weight="bold" textLength="44" lengthAdjust="spacingAndGlyphs">F(h)</text><text x="1210" y="1850.7" font-size="23.8" text-anchor="middle" font-weight="bold" textLength="37.5" lengthAdjust="spacingAndGlyphs">F(-)</text><text x="1170.5" y="1511.2" font-size="25.4" text-anchor="middle" font-weight="bold" textLength="62.9" lengthAdjust="spacingAndGlyphs">CD68</text><text x="1216.6" y="1543.1" font-size="26.3" textLength="116.9" lengthAdjust="spacingAndGlyphs">p*=0.0127</text><text transform="translate(980.3,1659.6) rotate(-90)" font-size="25.7" text-anchor="middle" font-weight="bold" textLength="166.7" lengthAdjust="spacingAndGlyphs">mRNA counts</text></g>
<g><path d="M1572 1534.3C1572 1538.1 1572.1 1541.9 1572.2 1545.7C1572.3 1548.8 1573.7 1551.8 1575.1 1554.8C1576.4 1557.8 1579.4 1560.9 1581.9 1563.9C1584.4 1566.9 1587.9 1569.9 1590.2 1573C1592.6 1576 1595 1579 1596.3 1582C1597.5 1585.1 1599 1588.1 1599 1591.1C1599 1594.2 1598 1597.2 1597 1600.2C1595.9 1603.7 1592.2 1607.3 1589.5 1610.8C1586.7 1614.3 1583.2 1617.9 1580.4 1621.4C1578 1624.4 1574.4 1627.4 1573.6 1630.5C1572.9 1633 1572.3 1635.5 1572.2 1638C1572.1 1646.6 1572.1 1655.2 1572.1 1663.8C1572.1 1667.3 1572.9 1670.8 1573.6 1674.4C1574.3 1677.9 1575.7 1681.4 1576.6 1685C1577.4 1688 1578.2 1691 1578.6 1694C1578.9 1696.6 1579.2 1699.1 1579.2 1701.6C1579.2 1704.6 1578.1 1707.7 1577.4 1710.7C1576.5 1714.2 1575.1 1717.7 1574.3 1721.3C1573.6 1724.8 1572.7 1728.3 1572.5 1731.9C1572.2 1737.7 1572 1743.5 1572 1749.3C1572 1743.5 1571.8 1737.7 1571.5 1731.9C1571.3 1728.3 1570.4 1724.8 1569.7 1721.3C1568.9 1717.7 1567.5 1714.2 1566.6 1710.7C1565.9 1707.7 1564.8 1704.6 1564.8 1701.6C1564.8 1699.1 1565.1 1696.6 1565.4 1694C1565.8 1691 1566.6 1688 1567.4 1685C1568.3 1681.4 1569.7 1677.9 1570.4 1674.4C1571.1 1670.8 1571.9 1667.3 1571.9 1663.8C1571.9 1655.2 1571.9 1646.6 1571.8 1638C1571.7 1635.5 1571.1 1633 1570.4 1630.5C1569.6 1627.4 1566 1624.4 1563.6 1621.4C1560.8 1617.9 1557.3 1614.3 1554.5 1610.8C1551.8 1607.3 1548.1 1603.7 1547 1600.2C1546 1597.2 1545 1594.2 1545 1591.1C1545 1588.1 1546.5 1585.1 1547.7 1582C1549 1579 1551.4 1576 1553.8 1573C1556.1 1569.9 1559.6 1566.9 1562.1 1563.9C1564.6 1560.9 1567.6 1557.8 1568.9 1554.8C1570.3 1551.8 1571.7 1548.8 1571.8 1545.7C1571.9 1541.9 1572 1538.1 1572 1534.3Z" fill="#93611f" stroke="#000" stroke-width="4.4" stroke-linejoin="round" stroke-linecap="round"/><path d="M1546 1597.2H1598" stroke="#000" stroke-width="1.1" stroke-opacity="0.85"/><path d="M1550.3 1584.3H1593.7" stroke="#000" stroke-width="1" stroke-dasharray="1.2 2.6" stroke-opacity="0.8"/><circle cx="1565.6" cy="1584.8" r="3.5"/><circle cx="1578.5" cy="1582.3" r="3.5"/><circle cx="1578.5" cy="1594.2" r="3.5"/><circle cx="1565.6" cy="1599.9" r="3.5"/><circle cx="1572" cy="1612.3" r="3.5"/><circle cx="1572" cy="1700.8" r="3.5"/><path d="M1660.2 1638C1660.2 1640.5 1660.4 1643.1 1660.7 1645.6C1661 1647.6 1663.4 1649.6 1665.6 1651.7C1667.8 1653.7 1673.1 1655.7 1676.2 1657.7C1679.3 1659.7 1683 1661.7 1684.5 1663.8C1685.7 1665.5 1687.1 1667.3 1687.1 1669.1C1687.1 1670.8 1685.3 1672.6 1683.7 1674.4C1681.9 1676.4 1675.9 1678.4 1673.1 1680.4C1671 1681.9 1667.8 1683.4 1667.8 1685C1667.8 1686.5 1669.6 1688 1670.9 1689.5C1672.5 1691.5 1676.7 1693.5 1677.7 1695.5C1678.7 1697.6 1679.6 1699.6 1679.6 1701.6C1679.6 1704.1 1679.6 1706.6 1679.6 1709.2C1679.6 1711.2 1677.8 1713.2 1676.2 1715.2C1674.5 1717.2 1670.4 1719.3 1667.8 1721.3C1665.6 1723 1662.7 1724.8 1661.8 1726.6C1661.1 1727.8 1660.5 1729.1 1660.4 1730.4C1660.3 1732.9 1660.2 1735.4 1660.2 1738C1660.2 1735.4 1660.1 1732.9 1660 1730.4C1659.9 1729.1 1659.3 1727.8 1658.6 1726.6C1657.7 1724.8 1654.8 1723 1652.6 1721.3C1650 1719.3 1645.9 1717.2 1644.2 1715.2C1642.6 1713.2 1640.8 1711.2 1640.8 1709.2C1640.8 1706.6 1640.8 1704.1 1640.8 1701.6C1640.8 1699.6 1641.7 1697.6 1642.7 1695.5C1643.7 1693.5 1647.9 1691.5 1649.5 1689.5C1650.8 1688 1652.6 1686.5 1652.6 1685C1652.6 1683.4 1649.4 1681.9 1647.3 1680.4C1644.5 1678.4 1638.5 1676.4 1636.7 1674.4C1635.1 1672.6 1633.3 1670.8 1633.3 1669.1C1633.3 1667.3 1634.7 1665.5 1635.9 1663.8C1637.4 1661.7 1641.1 1659.7 1644.2 1657.7C1647.3 1655.7 1652.6 1653.7 1654.8 1651.7C1657 1649.6 1659.4 1647.6 1659.7 1645.6C1660 1643.1 1660.2 1640.5 1660.2 1638Z" fill="#00be00" stroke="#000" stroke-width="4.4" stroke-linejoin="round" stroke-linecap="round"/><path d="M1652.5 1684.6H1667.9" stroke="#000" stroke-width="1.1" stroke-opacity="0.85"/><path d="M1636.9 1668.6H1683.5" stroke="#000" stroke-width="1" stroke-dasharray="1.2 2.6" stroke-opacity="0.8"/><path d="M1644.3 1708.4H1676.1" stroke="#000" stroke-width="1" stroke-dasharray="1.2 2.6" stroke-opacity="0.8"/><circle cx="1672.8" cy="1662.3" r="3.5"/><circle cx="1660.2" cy="1666.8" r="3.5"/><circle cx="1647.6" cy="1673.1" r="3.5"/><circle cx="1672.8" cy="1672.8" r="3.5"/><circle cx="1653.8" cy="1698.6" r="3.5"/><circle cx="1666.3" cy="1696.3" r="3.5"/><circle cx="1653.8" cy="1713.4" r="3.5"/><circle cx="1666.3" cy="1711.9" r="3.5"/><path d="M1513.3 1502.9V1814.7M1500.4 1813.2H1720.2M1500.4 1504.4H1513.3M1500.4 1566.2H1513.3M1500.4 1627.9H1513.3M1500.4 1689.7H1513.3M1500.4 1751.4H1513.3M1571.8 1813.2V1826.4M1660.3 1813.2V1826.4" stroke="#000" stroke-width="3" fill="none"/><text x="1497.5" y="1513" font-size="23.6" text-anchor="end" font-weight="bold" textLength="37.9" lengthAdjust="spacingAndGlyphs">250</text><text x="1497.5" y="1574.8" font-size="23.6" text-anchor="end" font-weight="bold" textLength="37.9" lengthAdjust="spacingAndGlyphs">200</text><text x="1497.5" y="1636.5" font-size="23.6" text-anchor="end" font-weight="bold" textLength="37.9" lengthAdjust="spacingAndGlyphs">150</text><text x="1497.5" y="1698.3" font-size="23.6" text-anchor="end" font-weight="bold" textLength="37.9" lengthAdjust="spacingAndGlyphs">100</text><text x="1497.5" y="1760" font-size="23.6" text-anchor="end" font-weight="bold" textLength="25.3" lengthAdjust="spacingAndGlyphs">50</text><text x="1497.5" y="1821.8" font-size="23.6" text-anchor="end" font-weight="bold" textLength="12.6" lengthAdjust="spacingAndGlyphs">0</text><text x="1571.8" y="1850.7" font-size="23.8" text-anchor="middle" font-weight="bold" textLength="44" lengthAdjust="spacingAndGlyphs">F(h)</text><text x="1660.3" y="1850.7" font-size="23.8" text-anchor="middle" font-weight="bold" textLength="37.5" lengthAdjust="spacingAndGlyphs">F(-)</text><text x="1612.7" y="1509.2" font-size="23.4" text-anchor="middle" font-weight="bold" textLength="49.1" lengthAdjust="spacingAndGlyphs">AIF1</text><text x="1673.1" y="1534.1" font-size="26.3" textLength="117.7" lengthAdjust="spacingAndGlyphs">p*=0.0200</text><text transform="translate(1440.9,1659.4) rotate(-90)" font-size="25.7" text-anchor="middle" font-weight="bold" textLength="165.5" lengthAdjust="spacingAndGlyphs">mRNA counts</text></g>
</svg>
</body></html>
